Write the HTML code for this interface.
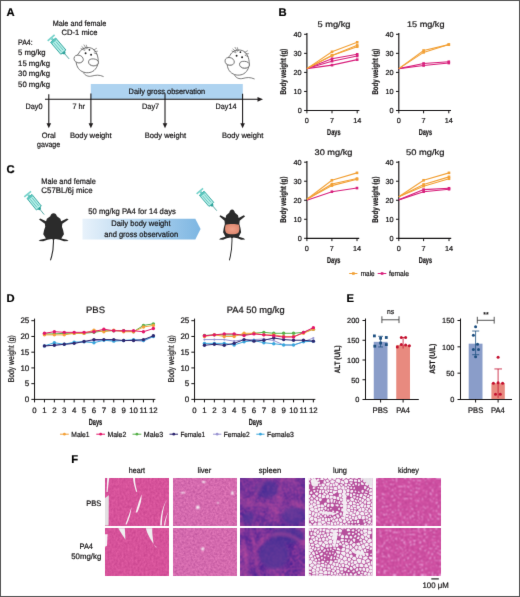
<!DOCTYPE html><html><head><meta charset="utf-8"><style>html,body{margin:0;padding:0;background:#fff;} svg{display:block;will-change:transform;} text{font-family:"Liberation Sans", sans-serif;text-rendering:geometricPrecision;stroke:currentColor;stroke-width:0.2px;paint-order:stroke;}</style></head><body>
<svg width="520" height="597" viewBox="0 0 520 597">
<defs><filter id="gsoft" x="0" y="0" width="520" height="597" filterUnits="userSpaceOnUse" color-interpolation-filters="sRGB"><feConvolveMatrix order="3" kernelMatrix="0 1 0 1 10 1 0 1 0" edgeMode="duplicate"/></filter></defs>
<g filter="url(#gsoft)">
<rect x="0" y="0" width="520" height="597" fill="#fff"/>
<text x="6.50" y="15.90" font-size="11.24" text-anchor="start" font-weight="bold" fill="#000" color="#000" >A</text>
<text x="52.70" y="26.30" font-size="7.74" text-anchor="start" font-weight="normal" fill="#141213" color="#141213" textLength="53.50" lengthAdjust="spacingAndGlyphs" >Male and female</text>
<text x="61.50" y="35.00" font-size="7.74" text-anchor="start" font-weight="normal" fill="#141213" color="#141213" textLength="36.00" lengthAdjust="spacingAndGlyphs" >CD-1 mice</text>
<text x="18.10" y="44.90" font-size="7.74" text-anchor="start" font-weight="normal" fill="#141213" color="#141213" textLength="14.60" lengthAdjust="spacingAndGlyphs" >PA4:</text>
<text x="18.10" y="55.40" font-size="7.74" text-anchor="start" font-weight="normal" fill="#141213" color="#141213" textLength="27.50" lengthAdjust="spacingAndGlyphs" >5 mg/kg</text>
<text x="18.10" y="65.80" font-size="7.74" text-anchor="start" font-weight="normal" fill="#141213" color="#141213" textLength="31.90" lengthAdjust="spacingAndGlyphs" >15 mg/kg</text>
<text x="18.10" y="76.20" font-size="7.74" text-anchor="start" font-weight="normal" fill="#141213" color="#141213" textLength="31.90" lengthAdjust="spacingAndGlyphs" >30 mg/kg</text>
<text x="18.10" y="86.60" font-size="7.74" text-anchor="start" font-weight="normal" fill="#141213" color="#141213" textLength="31.90" lengthAdjust="spacingAndGlyphs" >50 mg/kg</text>
<rect x="90.8" y="84" width="152" height="15.2" fill="#aed3f0"/>
<text x="128.60" y="94.00" font-size="7.74" text-anchor="start" font-weight="normal" fill="#141213" color="#141213" textLength="76.50" lengthAdjust="spacingAndGlyphs" >Daily gross observation</text>
<line x1="45.00" y1="99.30" x2="259.00" y2="99.30" stroke="#141213" stroke-width="1.1" />
<path d="M263,99.3 L257.5,96.9 L257.5,101.7 Z" fill="#231f20"/>
<line x1="48.80" y1="94.20" x2="48.80" y2="124.00" stroke="#141213" stroke-width="1.05" />
<path d="M48.80,128.3 L46.50,123.2 L51.10,123.2 Z" fill="#231f20"/>
<line x1="90.90" y1="93.60" x2="90.90" y2="124.00" stroke="#141213" stroke-width="1.05" />
<path d="M90.90,128.3 L88.60,123.2 L93.20,123.2 Z" fill="#231f20"/>
<line x1="165.00" y1="93.20" x2="165.00" y2="124.00" stroke="#141213" stroke-width="1.05" />
<path d="M165.00,128.3 L162.70,123.2 L167.30,123.2 Z" fill="#231f20"/>
<line x1="242.60" y1="93.80" x2="242.60" y2="124.00" stroke="#141213" stroke-width="1.05" />
<path d="M242.60,128.3 L240.30,123.2 L244.90,123.2 Z" fill="#231f20"/>
<text x="25.50" y="109.10" font-size="7.74" text-anchor="start" font-weight="normal" fill="#141213" color="#141213" textLength="17.00" lengthAdjust="spacingAndGlyphs" >Day0</text>
<text x="72.50" y="109.10" font-size="7.74" text-anchor="start" font-weight="normal" fill="#141213" color="#141213" textLength="12.50" lengthAdjust="spacingAndGlyphs" >7 hr</text>
<text x="142.10" y="109.10" font-size="7.74" text-anchor="start" font-weight="normal" fill="#141213" color="#141213" textLength="17.00" lengthAdjust="spacingAndGlyphs" >Day7</text>
<text x="215.60" y="109.10" font-size="7.74" text-anchor="start" font-weight="normal" fill="#141213" color="#141213" textLength="20.80" lengthAdjust="spacingAndGlyphs" >Day14</text>
<text x="41.70" y="138.00" font-size="7.74" text-anchor="start" font-weight="normal" fill="#141213" color="#141213" textLength="14.10" lengthAdjust="spacingAndGlyphs" >Oral</text>
<text x="37.10" y="147.40" font-size="7.74" text-anchor="start" font-weight="normal" fill="#141213" color="#141213" textLength="23.10" lengthAdjust="spacingAndGlyphs" >gavage</text>
<text x="70.00" y="138.00" font-size="7.74" text-anchor="start" font-weight="normal" fill="#141213" color="#141213" textLength="41.75" lengthAdjust="spacingAndGlyphs" >Body weight</text>
<text x="144.80" y="138.00" font-size="7.74" text-anchor="start" font-weight="normal" fill="#141213" color="#141213" textLength="41.20" lengthAdjust="spacingAndGlyphs" >Body weight</text>
<text x="222.00" y="138.00" font-size="7.74" text-anchor="start" font-weight="normal" fill="#141213" color="#141213" textLength="41.30" lengthAdjust="spacingAndGlyphs" >Body weight</text>
<g transform="translate(51.10,37.80) rotate(49.53) scale(0.924)">
<rect x="-0.8" y="-4.9" width="1.8" height="9.8" fill="#74d2ca"/>
<rect x="1" y="-1.3" width="2.8" height="2.6" fill="#74d2ca"/>
<rect x="3.4" y="-3.6" width="17" height="7.2" fill="#b8eee8" stroke="#2ca39b" stroke-width="0.95"/>
<rect x="3.4" y="-3.6" width="2.2" height="7.2" fill="#5cc6be"/>
<line x1="6.5" y1="-1.3" x2="18.5" y2="-1.3" stroke="#46b8b0" stroke-width="0.75"/>
<line x1="6.5" y1="1.3" x2="18.5" y2="1.3" stroke="#46b8b0" stroke-width="0.75"/>
<path d="M20.4,-2.4 L23,-1 L23,1 L20.4,2.4 Z" fill="#2ca39b"/>
<line x1="22.8" y1="0" x2="30" y2="0" stroke="#2a8f89" stroke-width="0.8"/>
</g>
<g transform="translate(68.00,40.00)">
<g fill="none" stroke="#4a4a4a" stroke-width="0.7">
<path d="M15.4,32.5 C17,35.5 20,37 24,36 C28,35 31,34.6 35.6,36.6"/>
</g>
<g fill="#fff" stroke="#4a4a4a" stroke-width="0.75">
<path d="M11,13 C13,9 16.5,7.6 20,7.6 C25,7.6 28.5,11 29.8,17 C30.8,22 30,27 26,30.5 C23,33 18,33.5 14,31.5 C10,29.5 8,25 8.2,21 C8.4,17 9,15 11,13 Z"/>
<path d="M6,18.5 C6,15.8 8.5,14.8 11,15.2 C13.5,15.6 15.3,17.6 15.3,19.6 C15.3,21.8 13,23.2 10.5,22.9 C8,22.6 6,21 6,18.5 Z"/>
<path d="M20.5,21.8 C20.5,19.5 23,18.7 25.5,18.9 C28.5,19.1 30.5,20.5 30.4,22.6 C30.3,24.8 28,26 25.3,25.9 C22.6,25.8 20.5,24.2 20.5,21.8 Z"/>
</g>
<g fill="none" stroke="#999" stroke-width="0.9" opacity="0.7">
<path d="M7,21 C9,23 12,23.3 14.5,21.5"/><path d="M21.5,24 C23.5,26 27,26.2 29.5,24.5"/>
</g>
<g fill="none" stroke="#444" stroke-width="0.55">
<path d="M13.6,6.4 L17.5,9.8 M15.8,4.6 L18.6,9.2 M12.6,8.4 L17,10.5 M18.2,4.8 L19.4,8.6 M25.4,10.2 L28.8,8.2 M26.2,11.6 L29.8,11.2 M25.8,12.8 L29.2,14.2"/>
</g>
<g fill="#222"><circle cx="17.6" cy="13.3" r="0.95"/><circle cx="23.1" cy="14.8" r="0.95"/><circle cx="21.4" cy="9.8" r="0.85"/></g>
</g>
<g transform="translate(219.00,42.40)">
<g fill="none" stroke="#4a4a4a" stroke-width="0.7">
<path d="M15.4,32.5 C17,35.5 20,37 24,36 C28,35 31,34.6 35.6,36.6"/>
</g>
<g fill="#fff" stroke="#4a4a4a" stroke-width="0.75">
<path d="M11,13 C13,9 16.5,7.6 20,7.6 C25,7.6 28.5,11 29.8,17 C30.8,22 30,27 26,30.5 C23,33 18,33.5 14,31.5 C10,29.5 8,25 8.2,21 C8.4,17 9,15 11,13 Z"/>
<path d="M6,18.5 C6,15.8 8.5,14.8 11,15.2 C13.5,15.6 15.3,17.6 15.3,19.6 C15.3,21.8 13,23.2 10.5,22.9 C8,22.6 6,21 6,18.5 Z"/>
<path d="M20.5,21.8 C20.5,19.5 23,18.7 25.5,18.9 C28.5,19.1 30.5,20.5 30.4,22.6 C30.3,24.8 28,26 25.3,25.9 C22.6,25.8 20.5,24.2 20.5,21.8 Z"/>
</g>
<g fill="none" stroke="#999" stroke-width="0.9" opacity="0.7">
<path d="M7,21 C9,23 12,23.3 14.5,21.5"/><path d="M21.5,24 C23.5,26 27,26.2 29.5,24.5"/>
</g>
<g fill="none" stroke="#444" stroke-width="0.55">
<path d="M13.6,6.4 L17.5,9.8 M15.8,4.6 L18.6,9.2 M12.6,8.4 L17,10.5 M18.2,4.8 L19.4,8.6 M25.4,10.2 L28.8,8.2 M26.2,11.6 L29.8,11.2 M25.8,12.8 L29.2,14.2"/>
</g>
<g fill="#222"><circle cx="17.6" cy="13.3" r="0.95"/><circle cx="23.1" cy="14.8" r="0.95"/><circle cx="21.4" cy="9.8" r="0.85"/></g>
</g>
<text x="278.60" y="15.90" font-size="11.24" text-anchor="start" font-weight="bold" fill="#000" color="#000" >B</text>
<line x1="306.90" y1="33.10" x2="306.90" y2="111.10" stroke="#141213" stroke-width="1.15" />
<line x1="306.40" y1="110.50" x2="359.40" y2="110.50" stroke="#141213" stroke-width="1.15" />
<line x1="304.10" y1="110.50" x2="306.90" y2="110.50" stroke="#141213" stroke-width="1.0" />
<text x="301.70" y="113.00" font-size="7.31" text-anchor="end" font-weight="normal" fill="#141213" color="#141213" >0</text>
<line x1="304.10" y1="91.45" x2="306.90" y2="91.45" stroke="#141213" stroke-width="1.0" />
<text x="301.70" y="93.95" font-size="7.31" text-anchor="end" font-weight="normal" fill="#141213" color="#141213" >10</text>
<line x1="304.10" y1="72.40" x2="306.90" y2="72.40" stroke="#141213" stroke-width="1.0" />
<text x="301.70" y="74.90" font-size="7.31" text-anchor="end" font-weight="normal" fill="#141213" color="#141213" >20</text>
<line x1="304.10" y1="53.35" x2="306.90" y2="53.35" stroke="#141213" stroke-width="1.0" />
<text x="301.70" y="55.85" font-size="7.31" text-anchor="end" font-weight="normal" fill="#141213" color="#141213" >30</text>
<line x1="304.10" y1="34.30" x2="306.90" y2="34.30" stroke="#141213" stroke-width="1.0" />
<text x="301.70" y="36.80" font-size="7.31" text-anchor="end" font-weight="normal" fill="#141213" color="#141213" >40</text>
<line x1="306.90" y1="110.50" x2="306.90" y2="113.30" stroke="#141213" stroke-width="1.0" />
<text x="306.90" y="122.90" font-size="7.31" text-anchor="middle" font-weight="normal" fill="#141213" color="#141213" >0</text>
<line x1="332.00" y1="110.50" x2="332.00" y2="113.30" stroke="#141213" stroke-width="1.0" />
<text x="332.00" y="122.90" font-size="7.31" text-anchor="middle" font-weight="normal" fill="#141213" color="#141213" >7</text>
<line x1="357.20" y1="110.50" x2="357.20" y2="113.30" stroke="#141213" stroke-width="1.0" />
<text x="357.20" y="122.90" font-size="7.31" text-anchor="middle" font-weight="normal" fill="#141213" color="#141213" >14</text>
<text x="333.80" y="134.60" font-size="8.48" text-anchor="middle" font-weight="bold" fill="#141213" color="#141213" textLength="13.40" lengthAdjust="spacingAndGlyphs" >Days</text>
<text transform="translate(285.60,71.70) rotate(-90)" x="0" y="0" font-size="8.4" font-weight="bold" text-anchor="middle" fill="#141213" color="#141213" textLength="45.80" lengthAdjust="spacingAndGlyphs">Body weight (g)</text>
<text x="317.50" y="26.70" font-size="8.16" text-anchor="start" font-weight="normal" fill="#141213" color="#141213" textLength="33.00" lengthAdjust="spacingAndGlyphs" >5 mg/kg</text>
<path d="M306.90,68.59 L332.00,58.68 L357.20,54.30" fill="none" stroke="#d8207c" stroke-width="1.1"/>
<rect x="330.70" y="57.38" width="2.6" height="2.6" fill="#d8207c"/>
<rect x="355.90" y="53.00" width="2.6" height="2.6" fill="#d8207c"/>
<path d="M306.90,68.59 L332.00,61.16 L357.20,56.02" fill="none" stroke="#d8207c" stroke-width="1.1"/>
<rect x="330.70" y="59.86" width="2.6" height="2.6" fill="#d8207c"/>
<rect x="355.90" y="54.72" width="2.6" height="2.6" fill="#d8207c"/>
<path d="M306.90,68.59 L332.00,65.16 L357.20,59.64" fill="none" stroke="#d8207c" stroke-width="1.1"/>
<rect x="330.70" y="63.86" width="2.6" height="2.6" fill="#d8207c"/>
<rect x="355.90" y="58.34" width="2.6" height="2.6" fill="#d8207c"/>
<path d="M306.90,68.59 L332.00,51.83 L357.20,42.30" fill="none" stroke="#f2a035" stroke-width="1.1"/>
<rect x="330.70" y="50.53" width="2.6" height="2.6" fill="#f2a035"/>
<rect x="355.90" y="41.00" width="2.6" height="2.6" fill="#f2a035"/>
<path d="M306.90,68.59 L332.00,55.45 L357.20,45.35" fill="none" stroke="#f2a035" stroke-width="1.1"/>
<rect x="330.70" y="54.15" width="2.6" height="2.6" fill="#f2a035"/>
<rect x="355.90" y="44.05" width="2.6" height="2.6" fill="#f2a035"/>
<path d="M306.90,68.59 L332.00,55.45 L357.20,46.68" fill="none" stroke="#f2a035" stroke-width="1.1"/>
<rect x="330.70" y="54.15" width="2.6" height="2.6" fill="#f2a035"/>
<rect x="355.90" y="45.38" width="2.6" height="2.6" fill="#f2a035"/>
<line x1="398.80" y1="33.10" x2="398.80" y2="111.10" stroke="#141213" stroke-width="1.15" />
<line x1="398.30" y1="110.50" x2="451.00" y2="110.50" stroke="#141213" stroke-width="1.15" />
<line x1="396.00" y1="110.50" x2="398.80" y2="110.50" stroke="#141213" stroke-width="1.0" />
<text x="393.60" y="113.00" font-size="7.31" text-anchor="end" font-weight="normal" fill="#141213" color="#141213" >0</text>
<line x1="396.00" y1="91.45" x2="398.80" y2="91.45" stroke="#141213" stroke-width="1.0" />
<text x="393.60" y="93.95" font-size="7.31" text-anchor="end" font-weight="normal" fill="#141213" color="#141213" >10</text>
<line x1="396.00" y1="72.40" x2="398.80" y2="72.40" stroke="#141213" stroke-width="1.0" />
<text x="393.60" y="74.90" font-size="7.31" text-anchor="end" font-weight="normal" fill="#141213" color="#141213" >20</text>
<line x1="396.00" y1="53.35" x2="398.80" y2="53.35" stroke="#141213" stroke-width="1.0" />
<text x="393.60" y="55.85" font-size="7.31" text-anchor="end" font-weight="normal" fill="#141213" color="#141213" >30</text>
<line x1="396.00" y1="34.30" x2="398.80" y2="34.30" stroke="#141213" stroke-width="1.0" />
<text x="393.60" y="36.80" font-size="7.31" text-anchor="end" font-weight="normal" fill="#141213" color="#141213" >40</text>
<line x1="398.80" y1="110.50" x2="398.80" y2="113.30" stroke="#141213" stroke-width="1.0" />
<text x="398.80" y="122.90" font-size="7.31" text-anchor="middle" font-weight="normal" fill="#141213" color="#141213" >0</text>
<line x1="423.60" y1="110.50" x2="423.60" y2="113.30" stroke="#141213" stroke-width="1.0" />
<text x="423.60" y="122.90" font-size="7.31" text-anchor="middle" font-weight="normal" fill="#141213" color="#141213" >7</text>
<line x1="448.80" y1="110.50" x2="448.80" y2="113.30" stroke="#141213" stroke-width="1.0" />
<text x="448.80" y="122.90" font-size="7.31" text-anchor="middle" font-weight="normal" fill="#141213" color="#141213" >14</text>
<text x="425.40" y="134.60" font-size="8.48" text-anchor="middle" font-weight="bold" fill="#141213" color="#141213" textLength="13.40" lengthAdjust="spacingAndGlyphs" >Days</text>
<text transform="translate(377.50,71.70) rotate(-90)" x="0" y="0" font-size="8.4" font-weight="bold" text-anchor="middle" fill="#141213" color="#141213" textLength="45.80" lengthAdjust="spacingAndGlyphs">Body weight (g)</text>
<text x="407.00" y="26.70" font-size="8.16" text-anchor="start" font-weight="normal" fill="#141213" color="#141213" textLength="37.50" lengthAdjust="spacingAndGlyphs" >15 mg/kg</text>
<path d="M398.80,68.59 L423.60,63.45 L448.80,61.73" fill="none" stroke="#d8207c" stroke-width="1.1"/>
<rect x="422.30" y="62.15" width="2.6" height="2.6" fill="#d8207c"/>
<rect x="447.50" y="60.43" width="2.6" height="2.6" fill="#d8207c"/>
<path d="M398.80,68.59 L423.60,65.54 L448.80,63.07" fill="none" stroke="#d8207c" stroke-width="1.1"/>
<rect x="422.30" y="64.24" width="2.6" height="2.6" fill="#d8207c"/>
<rect x="447.50" y="61.77" width="2.6" height="2.6" fill="#d8207c"/>
<path d="M398.80,68.59 L423.60,50.49 L448.80,44.59" fill="none" stroke="#f2a035" stroke-width="1.1"/>
<rect x="422.30" y="49.19" width="2.6" height="2.6" fill="#f2a035"/>
<rect x="447.50" y="43.29" width="2.6" height="2.6" fill="#f2a035"/>
<path d="M398.80,68.59 L423.60,52.40 L448.80,44.59" fill="none" stroke="#f2a035" stroke-width="1.1"/>
<rect x="422.30" y="51.10" width="2.6" height="2.6" fill="#f2a035"/>
<rect x="447.50" y="43.29" width="2.6" height="2.6" fill="#f2a035"/>
<line x1="306.90" y1="161.00" x2="306.90" y2="238.90" stroke="#141213" stroke-width="1.15" />
<line x1="306.40" y1="238.30" x2="359.20" y2="238.30" stroke="#141213" stroke-width="1.15" />
<line x1="304.10" y1="238.30" x2="306.90" y2="238.30" stroke="#141213" stroke-width="1.0" />
<text x="301.70" y="240.80" font-size="7.31" text-anchor="end" font-weight="normal" fill="#141213" color="#141213" >0</text>
<line x1="304.10" y1="219.28" x2="306.90" y2="219.28" stroke="#141213" stroke-width="1.0" />
<text x="301.70" y="221.78" font-size="7.31" text-anchor="end" font-weight="normal" fill="#141213" color="#141213" >10</text>
<line x1="304.10" y1="200.25" x2="306.90" y2="200.25" stroke="#141213" stroke-width="1.0" />
<text x="301.70" y="202.75" font-size="7.31" text-anchor="end" font-weight="normal" fill="#141213" color="#141213" >20</text>
<line x1="304.10" y1="181.22" x2="306.90" y2="181.22" stroke="#141213" stroke-width="1.0" />
<text x="301.70" y="183.72" font-size="7.31" text-anchor="end" font-weight="normal" fill="#141213" color="#141213" >30</text>
<line x1="304.10" y1="162.20" x2="306.90" y2="162.20" stroke="#141213" stroke-width="1.0" />
<text x="301.70" y="164.70" font-size="7.31" text-anchor="end" font-weight="normal" fill="#141213" color="#141213" >40</text>
<line x1="306.90" y1="238.30" x2="306.90" y2="241.10" stroke="#141213" stroke-width="1.0" />
<text x="306.90" y="251.20" font-size="7.31" text-anchor="middle" font-weight="normal" fill="#141213" color="#141213" >0</text>
<line x1="331.90" y1="238.30" x2="331.90" y2="241.10" stroke="#141213" stroke-width="1.0" />
<text x="331.90" y="251.20" font-size="7.31" text-anchor="middle" font-weight="normal" fill="#141213" color="#141213" >7</text>
<line x1="357.00" y1="238.30" x2="357.00" y2="241.10" stroke="#141213" stroke-width="1.0" />
<text x="357.00" y="251.20" font-size="7.31" text-anchor="middle" font-weight="normal" fill="#141213" color="#141213" >14</text>
<text x="333.70" y="262.70" font-size="8.48" text-anchor="middle" font-weight="bold" fill="#141213" color="#141213" textLength="13.40" lengthAdjust="spacingAndGlyphs" >Days</text>
<text transform="translate(285.60,199.70) rotate(-90)" x="0" y="0" font-size="8.4" font-weight="bold" text-anchor="middle" fill="#141213" color="#141213" textLength="46.30" lengthAdjust="spacingAndGlyphs">Body weight (g)</text>
<text x="314.50" y="154.60" font-size="8.16" text-anchor="start" font-weight="normal" fill="#141213" color="#141213" textLength="38.00" lengthAdjust="spacingAndGlyphs" >30 mg/kg</text>
<path d="M306.90,200.25 L331.90,191.69 L357.00,188.07" fill="none" stroke="#d8207c" stroke-width="1.1"/>
<rect x="330.60" y="190.39" width="2.6" height="2.6" fill="#d8207c"/>
<rect x="355.70" y="186.77" width="2.6" height="2.6" fill="#d8207c"/>
<path d="M306.90,199.30 L331.90,180.27 L357.00,172.85" fill="none" stroke="#f2a035" stroke-width="1.1"/>
<rect x="330.60" y="178.97" width="2.6" height="2.6" fill="#f2a035"/>
<rect x="355.70" y="171.55" width="2.6" height="2.6" fill="#f2a035"/>
<path d="M306.90,199.30 L331.90,184.08 L357.00,178.56" fill="none" stroke="#f2a035" stroke-width="1.1"/>
<rect x="330.60" y="182.78" width="2.6" height="2.6" fill="#f2a035"/>
<rect x="355.70" y="177.26" width="2.6" height="2.6" fill="#f2a035"/>
<path d="M306.90,199.30 L331.90,185.60 L357.00,179.32" fill="none" stroke="#f2a035" stroke-width="1.1"/>
<rect x="330.60" y="184.30" width="2.6" height="2.6" fill="#f2a035"/>
<rect x="355.70" y="178.02" width="2.6" height="2.6" fill="#f2a035"/>
<line x1="398.80" y1="161.00" x2="398.80" y2="238.90" stroke="#141213" stroke-width="1.15" />
<line x1="398.30" y1="238.30" x2="451.20" y2="238.30" stroke="#141213" stroke-width="1.15" />
<line x1="396.00" y1="238.30" x2="398.80" y2="238.30" stroke="#141213" stroke-width="1.0" />
<text x="393.60" y="240.80" font-size="7.31" text-anchor="end" font-weight="normal" fill="#141213" color="#141213" >0</text>
<line x1="396.00" y1="219.28" x2="398.80" y2="219.28" stroke="#141213" stroke-width="1.0" />
<text x="393.60" y="221.78" font-size="7.31" text-anchor="end" font-weight="normal" fill="#141213" color="#141213" >10</text>
<line x1="396.00" y1="200.25" x2="398.80" y2="200.25" stroke="#141213" stroke-width="1.0" />
<text x="393.60" y="202.75" font-size="7.31" text-anchor="end" font-weight="normal" fill="#141213" color="#141213" >20</text>
<line x1="396.00" y1="181.22" x2="398.80" y2="181.22" stroke="#141213" stroke-width="1.0" />
<text x="393.60" y="183.72" font-size="7.31" text-anchor="end" font-weight="normal" fill="#141213" color="#141213" >30</text>
<line x1="396.00" y1="162.20" x2="398.80" y2="162.20" stroke="#141213" stroke-width="1.0" />
<text x="393.60" y="164.70" font-size="7.31" text-anchor="end" font-weight="normal" fill="#141213" color="#141213" >40</text>
<line x1="398.80" y1="238.30" x2="398.80" y2="241.10" stroke="#141213" stroke-width="1.0" />
<text x="398.80" y="251.20" font-size="7.31" text-anchor="middle" font-weight="normal" fill="#141213" color="#141213" >0</text>
<line x1="423.60" y1="238.30" x2="423.60" y2="241.10" stroke="#141213" stroke-width="1.0" />
<text x="423.60" y="251.20" font-size="7.31" text-anchor="middle" font-weight="normal" fill="#141213" color="#141213" >7</text>
<line x1="449.00" y1="238.30" x2="449.00" y2="241.10" stroke="#141213" stroke-width="1.0" />
<text x="449.00" y="251.20" font-size="7.31" text-anchor="middle" font-weight="normal" fill="#141213" color="#141213" >14</text>
<text x="425.40" y="262.70" font-size="8.48" text-anchor="middle" font-weight="bold" fill="#141213" color="#141213" textLength="13.40" lengthAdjust="spacingAndGlyphs" >Days</text>
<text transform="translate(377.50,199.70) rotate(-90)" x="0" y="0" font-size="8.4" font-weight="bold" text-anchor="middle" fill="#141213" color="#141213" textLength="46.30" lengthAdjust="spacingAndGlyphs">Body weight (g)</text>
<text x="406.00" y="154.60" font-size="8.16" text-anchor="start" font-weight="normal" fill="#141213" color="#141213" textLength="38.50" lengthAdjust="spacingAndGlyphs" >50 mg/kg</text>
<path d="M398.80,199.87 L423.60,189.60 L449.00,188.26" fill="none" stroke="#d8207c" stroke-width="1.1"/>
<rect x="422.30" y="188.30" width="2.6" height="2.6" fill="#d8207c"/>
<rect x="447.70" y="186.96" width="2.6" height="2.6" fill="#d8207c"/>
<path d="M398.80,199.87 L423.60,191.69 L449.00,189.22" fill="none" stroke="#d8207c" stroke-width="1.1"/>
<rect x="422.30" y="190.39" width="2.6" height="2.6" fill="#d8207c"/>
<rect x="447.70" y="187.92" width="2.6" height="2.6" fill="#d8207c"/>
<path d="M398.80,196.83 L423.60,180.27 L449.00,172.85" fill="none" stroke="#f2a035" stroke-width="1.1"/>
<rect x="422.30" y="178.97" width="2.6" height="2.6" fill="#f2a035"/>
<rect x="447.70" y="171.55" width="2.6" height="2.6" fill="#f2a035"/>
<path d="M398.80,196.83 L423.60,184.46 L449.00,176.85" fill="none" stroke="#f2a035" stroke-width="1.1"/>
<rect x="422.30" y="183.16" width="2.6" height="2.6" fill="#f2a035"/>
<rect x="447.70" y="175.55" width="2.6" height="2.6" fill="#f2a035"/>
<path d="M398.80,196.83 L423.60,186.17 L449.00,178.75" fill="none" stroke="#f2a035" stroke-width="1.1"/>
<rect x="422.30" y="184.87" width="2.6" height="2.6" fill="#f2a035"/>
<rect x="447.70" y="177.45" width="2.6" height="2.6" fill="#f2a035"/>
<line x1="349.20" y1="273.50" x2="357.40" y2="273.50" stroke="#f2a035" stroke-width="1.0" />
<rect x="352.1" y="272.2" width="2.6" height="2.6" fill="#f2a035"/>
<text x="360.80" y="275.70" font-size="7.42" text-anchor="start" font-weight="normal" fill="#141213" color="#141213" textLength="13.80" lengthAdjust="spacingAndGlyphs" >male</text>
<line x1="377.70" y1="273.50" x2="386.30" y2="273.50" stroke="#d8207c" stroke-width="1.0" />
<rect x="380.8" y="272.2" width="2.6" height="2.6" fill="#d8207c"/>
<text x="388.90" y="275.70" font-size="7.42" text-anchor="start" font-weight="normal" fill="#141213" color="#141213" textLength="20.00" lengthAdjust="spacingAndGlyphs" >female</text>
<text x="6.40" y="173.40" font-size="11.24" text-anchor="start" font-weight="bold" fill="#000" color="#000" >C</text>
<text x="41.30" y="184.20" font-size="8.06" text-anchor="start" font-weight="normal" fill="#141213" color="#141213" textLength="54.50" lengthAdjust="spacingAndGlyphs" >Male and female</text>
<text x="41.30" y="193.00" font-size="8.06" text-anchor="start" font-weight="normal" fill="#141213" color="#141213" textLength="51.30" lengthAdjust="spacingAndGlyphs" >C57BL/6j mice</text>
<text x="88.30" y="214.10" font-size="8.06" text-anchor="start" font-weight="normal" fill="#141213" color="#141213" textLength="87.50" lengthAdjust="spacingAndGlyphs" >50 mg/kg PA4 for 14 days</text>
<defs><linearGradient id="gC" x1="0" x2="1" y1="0" y2="0"><stop offset="0" stop-color="#e8f2fb"/><stop offset="1" stop-color="#7db6e2"/></linearGradient></defs>
<path d="M82.5,218.8 L195.3,218.8 L200.6,229.1 L195.3,239.5 L82.5,239.5 Z" fill="url(#gC)"/>
<text x="111.30" y="226.30" font-size="8.06" text-anchor="start" font-weight="normal" fill="#141213" color="#141213" textLength="59.30" lengthAdjust="spacingAndGlyphs" >Daily body weight</text>
<text x="104.30" y="236.60" font-size="8.06" text-anchor="start" font-weight="normal" fill="#141213" color="#141213" textLength="73.80" lengthAdjust="spacingAndGlyphs" >and gross observation</text>
<g transform="translate(27.60,194.10) rotate(51.00) scale(0.879)">
<rect x="-0.8" y="-4.9" width="1.8" height="9.8" fill="#74d2ca"/>
<rect x="1" y="-1.3" width="2.8" height="2.6" fill="#74d2ca"/>
<rect x="3.4" y="-3.6" width="17" height="7.2" fill="#b8eee8" stroke="#2ca39b" stroke-width="0.95"/>
<rect x="3.4" y="-3.6" width="2.2" height="7.2" fill="#5cc6be"/>
<line x1="6.5" y1="-1.3" x2="18.5" y2="-1.3" stroke="#46b8b0" stroke-width="0.75"/>
<line x1="6.5" y1="1.3" x2="18.5" y2="1.3" stroke="#46b8b0" stroke-width="0.75"/>
<path d="M20.4,-2.4 L23,-1 L23,1 L20.4,2.4 Z" fill="#2ca39b"/>
<line x1="22.8" y1="0" x2="30" y2="0" stroke="#2a8f89" stroke-width="0.8"/>
</g>
<g transform="translate(199.80,191.00) rotate(49.21) scale(0.867)">
<rect x="-0.8" y="-4.9" width="1.8" height="9.8" fill="#74d2ca"/>
<rect x="1" y="-1.3" width="2.8" height="2.6" fill="#74d2ca"/>
<rect x="3.4" y="-3.6" width="17" height="7.2" fill="#b8eee8" stroke="#2ca39b" stroke-width="0.95"/>
<rect x="3.4" y="-3.6" width="2.2" height="7.2" fill="#5cc6be"/>
<line x1="6.5" y1="-1.3" x2="18.5" y2="-1.3" stroke="#46b8b0" stroke-width="0.75"/>
<line x1="6.5" y1="1.3" x2="18.5" y2="1.3" stroke="#46b8b0" stroke-width="0.75"/>
<path d="M20.4,-2.4 L23,-1 L23,1 L20.4,2.4 Z" fill="#2ca39b"/>
<line x1="22.8" y1="0" x2="30" y2="0" stroke="#2a8f89" stroke-width="0.8"/>
</g>
<g transform="translate(53.60,213.30) scale(0.1005,0.1005) translate(-195,-82)">
<path d="M193,336 C196,400 194,460 165,545" fill="none" stroke="#2b2b2b" stroke-width="11" stroke-linecap="round"/>
<path d="M195,82 C213,82 222,95 228,112 L262,135 L270,160 L328,133 L344,143 L282,185 L278,215 L290,250 L298,290 L280,318 L272,333 L328,346 L344,358 L298,361 L256,346 L214,338 L195,346 L176,338 L134,346 L92,361 L46,358 L62,346 L118,333 L110,318 L92,290 L100,250 L112,215 L108,185 L50,143 L62,133 L120,160 L128,135 L162,112 C168,95 177,82 195,82 Z" fill="#2b2b2b"/>
</g>
<g transform="translate(232.10,209.60) scale(0.0874,0.1085) translate(-195,-82)">
<path d="M193,336 C196,400 194,460 165,545" fill="none" stroke="#2b2b2b" stroke-width="11" stroke-linecap="round"/>
<path d="M195,82 C213,82 222,95 228,112 L262,135 L270,160 L328,133 L344,143 L282,185 L278,215 L290,250 L298,290 L280,318 L272,333 L328,346 L344,358 L298,361 L256,346 L214,338 L195,346 L176,338 L134,346 L92,361 L46,358 L62,346 L118,333 L110,318 L92,290 L100,250 L112,215 L108,185 L50,143 L62,133 L120,160 L128,135 L162,112 C168,95 177,82 195,82 Z" fill="#2b2b2b"/>
<defs><radialGradient id="gBelly"><stop offset="0" stop-color="#f0a088"/><stop offset="1" stop-color="#e08a72"/></radialGradient></defs>
<path d="M122,222 C150,212 245,212 272,222 C282,250 282,280 265,298 C240,314 150,314 128,298 C110,280 112,250 122,222 Z" fill="url(#gBelly)"/>
</g>
<text x="6.60" y="301.60" font-size="11.24" text-anchor="start" font-weight="bold" fill="#000" color="#000" >D</text>
<line x1="34.55" y1="318.60" x2="34.55" y2="399.90" stroke="#141213" stroke-width="1.0" />
<line x1="34.05" y1="399.40" x2="155.35" y2="399.40" stroke="#141213" stroke-width="1.0" />
<line x1="31.35" y1="399.40" x2="34.55" y2="399.40" stroke="#141213" stroke-width="1.0" />
<text x="29.35" y="402.10" font-size="8.06" text-anchor="end" font-weight="normal" fill="#141213" color="#141213" >0</text>
<line x1="31.35" y1="383.66" x2="34.55" y2="383.66" stroke="#141213" stroke-width="1.0" />
<text x="29.35" y="386.36" font-size="8.06" text-anchor="end" font-weight="normal" fill="#141213" color="#141213" >5</text>
<line x1="31.35" y1="367.92" x2="34.55" y2="367.92" stroke="#141213" stroke-width="1.0" />
<text x="29.35" y="370.62" font-size="8.06" text-anchor="end" font-weight="normal" fill="#141213" color="#141213" >10</text>
<line x1="31.35" y1="352.18" x2="34.55" y2="352.18" stroke="#141213" stroke-width="1.0" />
<text x="29.35" y="354.88" font-size="8.06" text-anchor="end" font-weight="normal" fill="#141213" color="#141213" >15</text>
<line x1="31.35" y1="336.44" x2="34.55" y2="336.44" stroke="#141213" stroke-width="1.0" />
<text x="29.35" y="339.14" font-size="8.06" text-anchor="end" font-weight="normal" fill="#141213" color="#141213" >20</text>
<line x1="31.35" y1="320.70" x2="34.55" y2="320.70" stroke="#141213" stroke-width="1.0" />
<text x="29.35" y="323.40" font-size="8.06" text-anchor="end" font-weight="normal" fill="#141213" color="#141213" >25</text>
<line x1="34.55" y1="399.40" x2="34.55" y2="402.40" stroke="#141213" stroke-width="1.0" />
<text x="34.55" y="412.70" font-size="7.84" text-anchor="middle" font-weight="normal" fill="#141213" color="#141213" >0</text>
<line x1="44.45" y1="399.40" x2="44.45" y2="402.40" stroke="#141213" stroke-width="1.0" />
<text x="44.45" y="412.70" font-size="7.84" text-anchor="middle" font-weight="normal" fill="#141213" color="#141213" >1</text>
<line x1="54.35" y1="399.40" x2="54.35" y2="402.40" stroke="#141213" stroke-width="1.0" />
<text x="54.35" y="412.70" font-size="7.84" text-anchor="middle" font-weight="normal" fill="#141213" color="#141213" >2</text>
<line x1="64.25" y1="399.40" x2="64.25" y2="402.40" stroke="#141213" stroke-width="1.0" />
<text x="64.25" y="412.70" font-size="7.84" text-anchor="middle" font-weight="normal" fill="#141213" color="#141213" >3</text>
<line x1="74.15" y1="399.40" x2="74.15" y2="402.40" stroke="#141213" stroke-width="1.0" />
<text x="74.15" y="412.70" font-size="7.84" text-anchor="middle" font-weight="normal" fill="#141213" color="#141213" >4</text>
<line x1="84.05" y1="399.40" x2="84.05" y2="402.40" stroke="#141213" stroke-width="1.0" />
<text x="84.05" y="412.70" font-size="7.84" text-anchor="middle" font-weight="normal" fill="#141213" color="#141213" >5</text>
<line x1="93.95" y1="399.40" x2="93.95" y2="402.40" stroke="#141213" stroke-width="1.0" />
<text x="93.95" y="412.70" font-size="7.84" text-anchor="middle" font-weight="normal" fill="#141213" color="#141213" >6</text>
<line x1="103.85" y1="399.40" x2="103.85" y2="402.40" stroke="#141213" stroke-width="1.0" />
<text x="103.85" y="412.70" font-size="7.84" text-anchor="middle" font-weight="normal" fill="#141213" color="#141213" >7</text>
<line x1="113.75" y1="399.40" x2="113.75" y2="402.40" stroke="#141213" stroke-width="1.0" />
<text x="113.75" y="412.70" font-size="7.84" text-anchor="middle" font-weight="normal" fill="#141213" color="#141213" >8</text>
<line x1="123.65" y1="399.40" x2="123.65" y2="402.40" stroke="#141213" stroke-width="1.0" />
<text x="123.65" y="412.70" font-size="7.84" text-anchor="middle" font-weight="normal" fill="#141213" color="#141213" >9</text>
<line x1="133.55" y1="399.40" x2="133.55" y2="402.40" stroke="#141213" stroke-width="1.0" />
<text x="133.55" y="412.70" font-size="7.84" text-anchor="middle" font-weight="normal" fill="#141213" color="#141213" >10</text>
<line x1="143.45" y1="399.40" x2="143.45" y2="402.40" stroke="#141213" stroke-width="1.0" />
<text x="143.45" y="412.70" font-size="7.84" text-anchor="middle" font-weight="normal" fill="#141213" color="#141213" >11</text>
<line x1="153.35" y1="399.40" x2="153.35" y2="402.40" stroke="#141213" stroke-width="1.0" />
<text x="153.35" y="412.70" font-size="7.84" text-anchor="middle" font-weight="normal" fill="#141213" color="#141213" >12</text>
<text x="88.75" y="425.40" font-size="8.90" text-anchor="start" font-weight="bold" fill="#141213" color="#141213" textLength="13.50" lengthAdjust="spacingAndGlyphs" >Days</text>
<text transform="translate(13.65,358.80) rotate(-90)" x="0" y="0" font-size="8.6" font-weight="normal" text-anchor="middle" fill="#141213" color="#141213" textLength="46.90" lengthAdjust="spacingAndGlyphs">Body weight (g)</text>
<text x="86.00" y="312.80" font-size="9.22" text-anchor="start" font-weight="normal" fill="#141213" color="#141213" textLength="19.10" lengthAdjust="spacingAndGlyphs" >PBS</text>
<path d="M44.45,345.88 L54.35,345.25 L64.25,344.31 L74.15,343.37 L84.05,341.79 L93.95,340.53 L103.85,340.53 L113.75,340.53 L123.65,340.53 L133.55,340.53 L143.45,341.16 L153.35,336.44" fill="none" stroke="#9a95d2" stroke-width="1.0"/>
<circle cx="44.45" cy="345.88" r="1.1" fill="#9a95d2"/>
<circle cx="54.35" cy="345.25" r="1.1" fill="#9a95d2"/>
<circle cx="64.25" cy="344.31" r="1.1" fill="#9a95d2"/>
<circle cx="74.15" cy="343.37" r="1.1" fill="#9a95d2"/>
<circle cx="84.05" cy="341.79" r="1.1" fill="#9a95d2"/>
<circle cx="93.95" cy="340.53" r="1.1" fill="#9a95d2"/>
<circle cx="103.85" cy="340.53" r="1.1" fill="#9a95d2"/>
<circle cx="113.75" cy="340.53" r="1.1" fill="#9a95d2"/>
<circle cx="123.65" cy="340.53" r="1.1" fill="#9a95d2"/>
<circle cx="133.55" cy="340.53" r="1.1" fill="#9a95d2"/>
<circle cx="143.45" cy="341.16" r="1.1" fill="#9a95d2"/>
<circle cx="153.35" cy="336.44" r="1.1" fill="#9a95d2"/>
<path d="M44.45,345.88 L54.35,342.74 L64.25,344.31 L74.15,342.11 L84.05,341.79 L93.95,342.74 L103.85,340.22 L113.75,341.16 L123.65,340.53 L133.55,339.59 L143.45,340.53 L153.35,336.44" fill="none" stroke="#3aa6dc" stroke-width="1.0"/>
<circle cx="44.45" cy="345.88" r="1.7" fill="#3aa6dc"/>
<circle cx="54.35" cy="342.74" r="1.7" fill="#3aa6dc"/>
<circle cx="64.25" cy="344.31" r="1.7" fill="#3aa6dc"/>
<circle cx="74.15" cy="342.11" r="1.7" fill="#3aa6dc"/>
<circle cx="84.05" cy="341.79" r="1.7" fill="#3aa6dc"/>
<circle cx="93.95" cy="342.74" r="1.7" fill="#3aa6dc"/>
<circle cx="103.85" cy="340.22" r="1.7" fill="#3aa6dc"/>
<circle cx="113.75" cy="341.16" r="1.7" fill="#3aa6dc"/>
<circle cx="123.65" cy="340.53" r="1.7" fill="#3aa6dc"/>
<circle cx="133.55" cy="339.59" r="1.7" fill="#3aa6dc"/>
<circle cx="143.45" cy="340.53" r="1.7" fill="#3aa6dc"/>
<circle cx="153.35" cy="336.44" r="1.7" fill="#3aa6dc"/>
<path d="M44.45,345.88 L54.35,345.25 L64.25,344.31 L74.15,343.37 L84.05,341.48 L93.95,339.59 L103.85,339.59 L113.75,339.59 L123.65,340.53 L133.55,340.53 L143.45,339.59 L153.35,335.81" fill="none" stroke="#2e2770" stroke-width="1.0"/>
<circle cx="44.45" cy="345.88" r="1.7" fill="#2e2770"/>
<circle cx="54.35" cy="345.25" r="1.7" fill="#2e2770"/>
<circle cx="64.25" cy="344.31" r="1.7" fill="#2e2770"/>
<circle cx="74.15" cy="343.37" r="1.7" fill="#2e2770"/>
<circle cx="84.05" cy="341.48" r="1.7" fill="#2e2770"/>
<circle cx="93.95" cy="339.59" r="1.7" fill="#2e2770"/>
<circle cx="103.85" cy="339.59" r="1.7" fill="#2e2770"/>
<circle cx="113.75" cy="339.59" r="1.7" fill="#2e2770"/>
<circle cx="123.65" cy="340.53" r="1.7" fill="#2e2770"/>
<circle cx="133.55" cy="340.53" r="1.7" fill="#2e2770"/>
<circle cx="143.45" cy="339.59" r="1.7" fill="#2e2770"/>
<circle cx="153.35" cy="335.81" r="1.7" fill="#2e2770"/>
<path d="M44.45,333.92 L54.35,333.92 L64.25,333.29 L74.15,333.29 L84.05,333.29 L93.95,332.35 L103.85,330.77 L113.75,330.77 L123.65,330.77 L133.55,331.72 L143.45,325.42 L153.35,323.85" fill="none" stroke="#56b04a" stroke-width="1.0"/>
<circle cx="44.45" cy="333.92" r="1.7" fill="#56b04a"/>
<circle cx="54.35" cy="333.92" r="1.7" fill="#56b04a"/>
<circle cx="64.25" cy="333.29" r="1.7" fill="#56b04a"/>
<circle cx="74.15" cy="333.29" r="1.7" fill="#56b04a"/>
<circle cx="84.05" cy="333.29" r="1.7" fill="#56b04a"/>
<circle cx="93.95" cy="332.35" r="1.7" fill="#56b04a"/>
<circle cx="103.85" cy="330.77" r="1.7" fill="#56b04a"/>
<circle cx="113.75" cy="330.77" r="1.7" fill="#56b04a"/>
<circle cx="123.65" cy="330.77" r="1.7" fill="#56b04a"/>
<circle cx="133.55" cy="331.72" r="1.7" fill="#56b04a"/>
<circle cx="143.45" cy="325.42" r="1.7" fill="#56b04a"/>
<circle cx="153.35" cy="323.85" r="1.7" fill="#56b04a"/>
<path d="M44.45,334.87 L54.35,334.87 L64.25,334.87 L74.15,333.29 L84.05,333.29 L93.95,330.14 L103.85,331.72 L113.75,330.14 L123.65,331.72 L133.55,331.72 L143.45,327.00 L153.35,325.42" fill="none" stroke="#f4a23a" stroke-width="1.0"/>
<circle cx="44.45" cy="334.87" r="1.7" fill="#f4a23a"/>
<circle cx="54.35" cy="334.87" r="1.7" fill="#f4a23a"/>
<circle cx="64.25" cy="334.87" r="1.7" fill="#f4a23a"/>
<circle cx="74.15" cy="333.29" r="1.7" fill="#f4a23a"/>
<circle cx="84.05" cy="333.29" r="1.7" fill="#f4a23a"/>
<circle cx="93.95" cy="330.14" r="1.7" fill="#f4a23a"/>
<circle cx="103.85" cy="331.72" r="1.7" fill="#f4a23a"/>
<circle cx="113.75" cy="330.14" r="1.7" fill="#f4a23a"/>
<circle cx="123.65" cy="331.72" r="1.7" fill="#f4a23a"/>
<circle cx="133.55" cy="331.72" r="1.7" fill="#f4a23a"/>
<circle cx="143.45" cy="327.00" r="1.7" fill="#f4a23a"/>
<circle cx="153.35" cy="325.42" r="1.7" fill="#f4a23a"/>
<path d="M44.45,333.29 L54.35,331.72 L64.25,332.35 L74.15,332.35 L84.05,332.35 L93.95,331.72 L103.85,329.20 L113.75,330.77 L123.65,330.77 L133.55,330.77 L143.45,331.72 L153.35,328.57" fill="none" stroke="#e3176a" stroke-width="1.0"/>
<circle cx="44.45" cy="333.29" r="1.7" fill="#e3176a"/>
<circle cx="54.35" cy="331.72" r="1.7" fill="#e3176a"/>
<circle cx="64.25" cy="332.35" r="1.7" fill="#e3176a"/>
<circle cx="74.15" cy="332.35" r="1.7" fill="#e3176a"/>
<circle cx="84.05" cy="332.35" r="1.7" fill="#e3176a"/>
<circle cx="93.95" cy="331.72" r="1.7" fill="#e3176a"/>
<circle cx="103.85" cy="329.20" r="1.7" fill="#e3176a"/>
<circle cx="113.75" cy="330.77" r="1.7" fill="#e3176a"/>
<circle cx="123.65" cy="330.77" r="1.7" fill="#e3176a"/>
<circle cx="133.55" cy="330.77" r="1.7" fill="#e3176a"/>
<circle cx="143.45" cy="331.72" r="1.7" fill="#e3176a"/>
<circle cx="153.35" cy="328.57" r="1.7" fill="#e3176a"/>
<line x1="194.55" y1="318.60" x2="194.55" y2="399.90" stroke="#141213" stroke-width="1.0" />
<line x1="194.05" y1="399.40" x2="315.35" y2="399.40" stroke="#141213" stroke-width="1.0" />
<line x1="191.35" y1="399.40" x2="194.55" y2="399.40" stroke="#141213" stroke-width="1.0" />
<text x="189.35" y="402.10" font-size="8.06" text-anchor="end" font-weight="normal" fill="#141213" color="#141213" >0</text>
<line x1="191.35" y1="383.66" x2="194.55" y2="383.66" stroke="#141213" stroke-width="1.0" />
<text x="189.35" y="386.36" font-size="8.06" text-anchor="end" font-weight="normal" fill="#141213" color="#141213" >5</text>
<line x1="191.35" y1="367.92" x2="194.55" y2="367.92" stroke="#141213" stroke-width="1.0" />
<text x="189.35" y="370.62" font-size="8.06" text-anchor="end" font-weight="normal" fill="#141213" color="#141213" >10</text>
<line x1="191.35" y1="352.18" x2="194.55" y2="352.18" stroke="#141213" stroke-width="1.0" />
<text x="189.35" y="354.88" font-size="8.06" text-anchor="end" font-weight="normal" fill="#141213" color="#141213" >15</text>
<line x1="191.35" y1="336.44" x2="194.55" y2="336.44" stroke="#141213" stroke-width="1.0" />
<text x="189.35" y="339.14" font-size="8.06" text-anchor="end" font-weight="normal" fill="#141213" color="#141213" >20</text>
<line x1="191.35" y1="320.70" x2="194.55" y2="320.70" stroke="#141213" stroke-width="1.0" />
<text x="189.35" y="323.40" font-size="8.06" text-anchor="end" font-weight="normal" fill="#141213" color="#141213" >25</text>
<line x1="194.55" y1="399.40" x2="194.55" y2="402.40" stroke="#141213" stroke-width="1.0" />
<text x="194.55" y="412.70" font-size="7.84" text-anchor="middle" font-weight="normal" fill="#141213" color="#141213" >0</text>
<line x1="204.45" y1="399.40" x2="204.45" y2="402.40" stroke="#141213" stroke-width="1.0" />
<text x="204.45" y="412.70" font-size="7.84" text-anchor="middle" font-weight="normal" fill="#141213" color="#141213" >1</text>
<line x1="214.35" y1="399.40" x2="214.35" y2="402.40" stroke="#141213" stroke-width="1.0" />
<text x="214.35" y="412.70" font-size="7.84" text-anchor="middle" font-weight="normal" fill="#141213" color="#141213" >2</text>
<line x1="224.25" y1="399.40" x2="224.25" y2="402.40" stroke="#141213" stroke-width="1.0" />
<text x="224.25" y="412.70" font-size="7.84" text-anchor="middle" font-weight="normal" fill="#141213" color="#141213" >3</text>
<line x1="234.15" y1="399.40" x2="234.15" y2="402.40" stroke="#141213" stroke-width="1.0" />
<text x="234.15" y="412.70" font-size="7.84" text-anchor="middle" font-weight="normal" fill="#141213" color="#141213" >4</text>
<line x1="244.05" y1="399.40" x2="244.05" y2="402.40" stroke="#141213" stroke-width="1.0" />
<text x="244.05" y="412.70" font-size="7.84" text-anchor="middle" font-weight="normal" fill="#141213" color="#141213" >5</text>
<line x1="253.95" y1="399.40" x2="253.95" y2="402.40" stroke="#141213" stroke-width="1.0" />
<text x="253.95" y="412.70" font-size="7.84" text-anchor="middle" font-weight="normal" fill="#141213" color="#141213" >6</text>
<line x1="263.85" y1="399.40" x2="263.85" y2="402.40" stroke="#141213" stroke-width="1.0" />
<text x="263.85" y="412.70" font-size="7.84" text-anchor="middle" font-weight="normal" fill="#141213" color="#141213" >7</text>
<line x1="273.75" y1="399.40" x2="273.75" y2="402.40" stroke="#141213" stroke-width="1.0" />
<text x="273.75" y="412.70" font-size="7.84" text-anchor="middle" font-weight="normal" fill="#141213" color="#141213" >8</text>
<line x1="283.65" y1="399.40" x2="283.65" y2="402.40" stroke="#141213" stroke-width="1.0" />
<text x="283.65" y="412.70" font-size="7.84" text-anchor="middle" font-weight="normal" fill="#141213" color="#141213" >9</text>
<line x1="293.55" y1="399.40" x2="293.55" y2="402.40" stroke="#141213" stroke-width="1.0" />
<text x="293.55" y="412.70" font-size="7.84" text-anchor="middle" font-weight="normal" fill="#141213" color="#141213" >10</text>
<line x1="303.45" y1="399.40" x2="303.45" y2="402.40" stroke="#141213" stroke-width="1.0" />
<text x="303.45" y="412.70" font-size="7.84" text-anchor="middle" font-weight="normal" fill="#141213" color="#141213" >11</text>
<line x1="313.35" y1="399.40" x2="313.35" y2="402.40" stroke="#141213" stroke-width="1.0" />
<text x="313.35" y="412.70" font-size="7.84" text-anchor="middle" font-weight="normal" fill="#141213" color="#141213" >12</text>
<text x="248.75" y="425.40" font-size="8.90" text-anchor="start" font-weight="bold" fill="#141213" color="#141213" textLength="13.50" lengthAdjust="spacingAndGlyphs" >Days</text>
<text transform="translate(173.65,358.80) rotate(-90)" x="0" y="0" font-size="8.6" font-weight="normal" text-anchor="middle" fill="#141213" color="#141213" textLength="46.90" lengthAdjust="spacingAndGlyphs">Body weight (g)</text>
<text x="226.70" y="312.80" font-size="9.22" text-anchor="start" font-weight="normal" fill="#141213" color="#141213" textLength="57.90" lengthAdjust="spacingAndGlyphs" >PA4 50 mg/kg</text>
<path d="M204.45,339.59 L214.35,339.59 L224.25,339.59 L234.15,341.16 L244.05,339.59 L253.95,339.59 L263.85,338.96 L273.75,340.53 L283.65,344.94 L293.55,345.25 L303.45,341.79 L313.35,338.01" fill="none" stroke="#9a95d2" stroke-width="1.0"/>
<circle cx="204.45" cy="339.59" r="1.1" fill="#9a95d2"/>
<circle cx="214.35" cy="339.59" r="1.1" fill="#9a95d2"/>
<circle cx="224.25" cy="339.59" r="1.1" fill="#9a95d2"/>
<circle cx="234.15" cy="341.16" r="1.1" fill="#9a95d2"/>
<circle cx="244.05" cy="339.59" r="1.1" fill="#9a95d2"/>
<circle cx="253.95" cy="339.59" r="1.1" fill="#9a95d2"/>
<circle cx="263.85" cy="338.96" r="1.1" fill="#9a95d2"/>
<circle cx="273.75" cy="340.53" r="1.1" fill="#9a95d2"/>
<circle cx="283.65" cy="344.94" r="1.1" fill="#9a95d2"/>
<circle cx="293.55" cy="345.25" r="1.1" fill="#9a95d2"/>
<circle cx="303.45" cy="341.79" r="1.1" fill="#9a95d2"/>
<circle cx="313.35" cy="338.01" r="1.1" fill="#9a95d2"/>
<path d="M204.45,343.37 L214.35,343.37 L224.25,343.37 L234.15,344.94 L244.05,341.79 L253.95,340.53 L263.85,342.74 L273.75,343.68 L283.65,344.94 L293.55,344.94 L303.45,341.79 L313.35,341.16" fill="none" stroke="#3aa6dc" stroke-width="1.0"/>
<circle cx="204.45" cy="343.37" r="1.7" fill="#3aa6dc"/>
<circle cx="214.35" cy="343.37" r="1.7" fill="#3aa6dc"/>
<circle cx="224.25" cy="343.37" r="1.7" fill="#3aa6dc"/>
<circle cx="234.15" cy="344.94" r="1.7" fill="#3aa6dc"/>
<circle cx="244.05" cy="341.79" r="1.7" fill="#3aa6dc"/>
<circle cx="253.95" cy="340.53" r="1.7" fill="#3aa6dc"/>
<circle cx="263.85" cy="342.74" r="1.7" fill="#3aa6dc"/>
<circle cx="273.75" cy="343.68" r="1.7" fill="#3aa6dc"/>
<circle cx="283.65" cy="344.94" r="1.7" fill="#3aa6dc"/>
<circle cx="293.55" cy="344.94" r="1.7" fill="#3aa6dc"/>
<circle cx="303.45" cy="341.79" r="1.7" fill="#3aa6dc"/>
<circle cx="313.35" cy="341.16" r="1.7" fill="#3aa6dc"/>
<path d="M204.45,345.25 L214.35,344.31 L224.25,345.25 L234.15,343.37 L244.05,339.59 L253.95,341.16 L263.85,340.22 L273.75,338.01 L283.65,339.59 L293.55,340.22 L303.45,340.22 L313.35,341.16" fill="none" stroke="#2e2770" stroke-width="1.0"/>
<circle cx="204.45" cy="345.25" r="1.7" fill="#2e2770"/>
<circle cx="214.35" cy="344.31" r="1.7" fill="#2e2770"/>
<circle cx="224.25" cy="345.25" r="1.7" fill="#2e2770"/>
<circle cx="234.15" cy="343.37" r="1.7" fill="#2e2770"/>
<circle cx="244.05" cy="339.59" r="1.7" fill="#2e2770"/>
<circle cx="253.95" cy="341.16" r="1.7" fill="#2e2770"/>
<circle cx="263.85" cy="340.22" r="1.7" fill="#2e2770"/>
<circle cx="273.75" cy="338.01" r="1.7" fill="#2e2770"/>
<circle cx="283.65" cy="339.59" r="1.7" fill="#2e2770"/>
<circle cx="293.55" cy="340.22" r="1.7" fill="#2e2770"/>
<circle cx="303.45" cy="340.22" r="1.7" fill="#2e2770"/>
<circle cx="313.35" cy="341.16" r="1.7" fill="#2e2770"/>
<path d="M204.45,335.50 L214.35,334.87 L224.25,334.87 L234.15,334.87 L244.05,334.87 L253.95,333.29 L263.85,332.35 L273.75,333.29 L283.65,333.29 L293.55,333.29 L303.45,332.35 L313.35,329.20" fill="none" stroke="#56b04a" stroke-width="1.0"/>
<circle cx="204.45" cy="335.50" r="1.7" fill="#56b04a"/>
<circle cx="214.35" cy="334.87" r="1.7" fill="#56b04a"/>
<circle cx="224.25" cy="334.87" r="1.7" fill="#56b04a"/>
<circle cx="234.15" cy="334.87" r="1.7" fill="#56b04a"/>
<circle cx="244.05" cy="334.87" r="1.7" fill="#56b04a"/>
<circle cx="253.95" cy="333.29" r="1.7" fill="#56b04a"/>
<circle cx="263.85" cy="332.35" r="1.7" fill="#56b04a"/>
<circle cx="273.75" cy="333.29" r="1.7" fill="#56b04a"/>
<circle cx="283.65" cy="333.29" r="1.7" fill="#56b04a"/>
<circle cx="293.55" cy="333.29" r="1.7" fill="#56b04a"/>
<circle cx="303.45" cy="332.35" r="1.7" fill="#56b04a"/>
<circle cx="313.35" cy="329.20" r="1.7" fill="#56b04a"/>
<path d="M204.45,336.44 L214.35,334.87 L224.25,336.44 L234.15,336.44 L244.05,333.29 L253.95,333.29 L263.85,334.87 L273.75,334.87 L283.65,336.44 L293.55,336.44 L303.45,333.29 L313.35,329.20" fill="none" stroke="#f4a23a" stroke-width="1.0"/>
<circle cx="204.45" cy="336.44" r="1.7" fill="#f4a23a"/>
<circle cx="214.35" cy="334.87" r="1.7" fill="#f4a23a"/>
<circle cx="224.25" cy="336.44" r="1.7" fill="#f4a23a"/>
<circle cx="234.15" cy="336.44" r="1.7" fill="#f4a23a"/>
<circle cx="244.05" cy="333.29" r="1.7" fill="#f4a23a"/>
<circle cx="253.95" cy="333.29" r="1.7" fill="#f4a23a"/>
<circle cx="263.85" cy="334.87" r="1.7" fill="#f4a23a"/>
<circle cx="273.75" cy="334.87" r="1.7" fill="#f4a23a"/>
<circle cx="283.65" cy="336.44" r="1.7" fill="#f4a23a"/>
<circle cx="293.55" cy="336.44" r="1.7" fill="#f4a23a"/>
<circle cx="303.45" cy="333.29" r="1.7" fill="#f4a23a"/>
<circle cx="313.35" cy="329.20" r="1.7" fill="#f4a23a"/>
<path d="M204.45,335.81 L214.35,334.87 L224.25,333.92 L234.15,333.92 L244.05,335.50 L253.95,333.92 L263.85,334.87 L273.75,335.81 L283.65,337.07 L293.55,337.07 L303.45,332.35 L313.35,327.63" fill="none" stroke="#e3176a" stroke-width="1.0"/>
<circle cx="204.45" cy="335.81" r="1.7" fill="#e3176a"/>
<circle cx="214.35" cy="334.87" r="1.7" fill="#e3176a"/>
<circle cx="224.25" cy="333.92" r="1.7" fill="#e3176a"/>
<circle cx="234.15" cy="333.92" r="1.7" fill="#e3176a"/>
<circle cx="244.05" cy="335.50" r="1.7" fill="#e3176a"/>
<circle cx="253.95" cy="333.92" r="1.7" fill="#e3176a"/>
<circle cx="263.85" cy="334.87" r="1.7" fill="#e3176a"/>
<circle cx="273.75" cy="335.81" r="1.7" fill="#e3176a"/>
<circle cx="283.65" cy="337.07" r="1.7" fill="#e3176a"/>
<circle cx="293.55" cy="337.07" r="1.7" fill="#e3176a"/>
<circle cx="303.45" cy="332.35" r="1.7" fill="#e3176a"/>
<circle cx="313.35" cy="327.63" r="1.7" fill="#e3176a"/>
<line x1="60.00" y1="434.20" x2="68.80" y2="434.20" stroke="#f4a23a" stroke-width="1.0" />
<circle cx="64.40" cy="434.2" r="1.4" fill="#f4a23a"/>
<text x="71.30" y="437.00" font-size="7.42" text-anchor="start" font-weight="normal" fill="#141213" color="#141213" textLength="18.30" lengthAdjust="spacingAndGlyphs" >Male1</text>
<line x1="96.30" y1="434.20" x2="105.00" y2="434.20" stroke="#e3176a" stroke-width="1.0" />
<circle cx="100.65" cy="434.2" r="1.4" fill="#e3176a"/>
<text x="107.50" y="437.00" font-size="7.42" text-anchor="start" font-weight="normal" fill="#141213" color="#141213" textLength="18.80" lengthAdjust="spacingAndGlyphs" >Male2</text>
<line x1="132.50" y1="434.20" x2="141.30" y2="434.20" stroke="#56b04a" stroke-width="1.0" />
<circle cx="136.90" cy="434.2" r="1.4" fill="#56b04a"/>
<text x="143.80" y="437.00" font-size="7.42" text-anchor="start" font-weight="normal" fill="#141213" color="#141213" textLength="19.30" lengthAdjust="spacingAndGlyphs" >Male3</text>
<line x1="169.50" y1="434.20" x2="178.00" y2="434.20" stroke="#2e2770" stroke-width="1.0" />
<circle cx="173.75" cy="434.2" r="1.4" fill="#2e2770"/>
<text x="180.50" y="437.00" font-size="7.42" text-anchor="start" font-weight="normal" fill="#141213" color="#141213" textLength="24.50" lengthAdjust="spacingAndGlyphs" >Female1</text>
<line x1="213.00" y1="434.20" x2="221.30" y2="434.20" stroke="#9a95d2" stroke-width="1.0" />
<circle cx="217.15" cy="434.2" r="1.4" fill="#9a95d2"/>
<text x="223.80" y="437.00" font-size="7.42" text-anchor="start" font-weight="normal" fill="#141213" color="#141213" textLength="25.80" lengthAdjust="spacingAndGlyphs" >Female2</text>
<line x1="256.30" y1="434.20" x2="264.50" y2="434.20" stroke="#3aa6dc" stroke-width="1.0" />
<circle cx="260.40" cy="434.2" r="1.4" fill="#3aa6dc"/>
<text x="267.00" y="437.00" font-size="7.42" text-anchor="start" font-weight="normal" fill="#141213" color="#141213" textLength="26.80" lengthAdjust="spacingAndGlyphs" >Female3</text>
<text x="346.50" y="301.60" font-size="11.24" text-anchor="start" font-weight="bold" fill="#000" color="#000" >E</text>
<rect x="373.75" y="341.83" width="13.75" height="57.67" fill="#8a9dc9"/>
<rect x="396.25" y="344.99" width="13.75" height="54.51" fill="#e88a7f"/>
<line x1="365.50" y1="318.50" x2="365.50" y2="400.00" stroke="#141213" stroke-width="1.0" />
<line x1="365.00" y1="399.50" x2="418.80" y2="399.50" stroke="#141213" stroke-width="1.0" />
<line x1="362.50" y1="399.50" x2="365.50" y2="399.50" stroke="#141213" stroke-width="1.0" />
<text x="359.40" y="402.30" font-size="7.42" text-anchor="end" font-weight="normal" fill="#141213" color="#141213" >0</text>
<line x1="362.50" y1="379.75" x2="365.50" y2="379.75" stroke="#141213" stroke-width="1.0" />
<text x="359.40" y="382.55" font-size="7.42" text-anchor="end" font-weight="normal" fill="#141213" color="#141213" >50</text>
<line x1="362.50" y1="360.00" x2="365.50" y2="360.00" stroke="#141213" stroke-width="1.0" />
<text x="359.40" y="362.80" font-size="7.42" text-anchor="end" font-weight="normal" fill="#141213" color="#141213" >100</text>
<line x1="362.50" y1="340.25" x2="365.50" y2="340.25" stroke="#141213" stroke-width="1.0" />
<text x="359.40" y="343.05" font-size="7.42" text-anchor="end" font-weight="normal" fill="#141213" color="#141213" >150</text>
<line x1="362.50" y1="320.50" x2="365.50" y2="320.50" stroke="#141213" stroke-width="1.0" />
<text x="359.40" y="323.30" font-size="7.42" text-anchor="end" font-weight="normal" fill="#141213" color="#141213" >200</text>
<line x1="380.60" y1="399.50" x2="380.60" y2="402.50" stroke="#141213" stroke-width="1.0" />
<line x1="403.10" y1="399.50" x2="403.10" y2="402.50" stroke="#141213" stroke-width="1.0" />
<line x1="380.60" y1="336.30" x2="380.60" y2="346.96" stroke="#1d4f80" stroke-width="0.8" />
<line x1="378.20" y1="336.30" x2="383.00" y2="336.30" stroke="#1d4f80" stroke-width="0.8" />
<line x1="378.20" y1="346.96" x2="383.00" y2="346.96" stroke="#1d4f80" stroke-width="0.8" />
<rect x="373.00" y="334.50" width="2.8" height="2.8" fill="#1d4f80"/>
<rect x="379.20" y="336.88" width="2.8" height="2.8" fill="#1d4f80"/>
<rect x="384.90" y="336.09" width="2.8" height="2.8" fill="#1d4f80"/>
<rect x="379.20" y="341.62" width="2.8" height="2.8" fill="#1d4f80"/>
<rect x="373.40" y="344.78" width="2.8" height="2.8" fill="#1d4f80"/>
<rect x="384.90" y="343.20" width="2.8" height="2.8" fill="#1d4f80"/>
<line x1="403.10" y1="337.49" x2="403.10" y2="348.55" stroke="#c41230" stroke-width="0.8" />
<line x1="400.70" y1="337.49" x2="405.50" y2="337.49" stroke="#c41230" stroke-width="0.8" />
<circle cx="401.30" cy="337.49" r="1.5" fill="#c41230"/>
<circle cx="405.60" cy="337.49" r="1.5" fill="#c41230"/>
<circle cx="397.30" cy="346.96" r="1.5" fill="#c41230"/>
<circle cx="401.30" cy="344.60" r="1.5" fill="#c41230"/>
<circle cx="405.60" cy="344.99" r="1.5" fill="#c41230"/>
<circle cx="409.40" cy="345.78" r="1.5" fill="#c41230"/>
<text x="386.90" y="314.40" font-size="7.21" text-anchor="start" font-weight="normal" fill="#141213" color="#141213" textLength="7.10" lengthAdjust="spacingAndGlyphs" >ns</text>
<line x1="381.90" y1="319.80" x2="399.00" y2="319.80" stroke="#444" stroke-width="0.9" />
<line x1="381.90" y1="316.30" x2="381.90" y2="323.10" stroke="#444" stroke-width="0.9" />
<line x1="399.00" y1="316.30" x2="399.00" y2="323.10" stroke="#444" stroke-width="0.9" />
<text x="372.50" y="412.80" font-size="8.06" text-anchor="start" font-weight="normal" fill="#141213" color="#141213" textLength="15.50" lengthAdjust="spacingAndGlyphs" >PBS</text>
<text x="396.30" y="412.80" font-size="8.06" text-anchor="start" font-weight="normal" fill="#141213" color="#141213" textLength="13.70" lengthAdjust="spacingAndGlyphs" >PA4</text>
<text transform="translate(340.30,359.30) rotate(-90)" x="0" y="0" font-size="7.8" font-weight="bold" text-anchor="middle" fill="#141213" color="#141213" textLength="27.80" lengthAdjust="spacingAndGlyphs">ALT (U/L)</text>
<rect x="468.7" y="343.67" width="13.8" height="55.83" fill="#8a9dc9"/>
<rect x="491.4" y="383.17" width="13.4" height="16.33" fill="#e88a7f"/>
<line x1="460.50" y1="318.50" x2="460.50" y2="400.00" stroke="#141213" stroke-width="1.0" />
<line x1="460.00" y1="399.50" x2="512.00" y2="399.50" stroke="#141213" stroke-width="1.0" />
<line x1="457.50" y1="399.50" x2="460.50" y2="399.50" stroke="#141213" stroke-width="1.0" />
<text x="454.40" y="402.30" font-size="7.42" text-anchor="end" font-weight="normal" fill="#141213" color="#141213" >0</text>
<line x1="457.50" y1="373.17" x2="460.50" y2="373.17" stroke="#141213" stroke-width="1.0" />
<text x="454.40" y="375.97" font-size="7.42" text-anchor="end" font-weight="normal" fill="#141213" color="#141213" >50</text>
<line x1="457.50" y1="346.83" x2="460.50" y2="346.83" stroke="#141213" stroke-width="1.0" />
<text x="454.40" y="349.63" font-size="7.42" text-anchor="end" font-weight="normal" fill="#141213" color="#141213" >100</text>
<line x1="457.50" y1="320.50" x2="460.50" y2="320.50" stroke="#141213" stroke-width="1.0" />
<text x="454.40" y="323.30" font-size="7.42" text-anchor="end" font-weight="normal" fill="#141213" color="#141213" >150</text>
<line x1="475.60" y1="399.50" x2="475.60" y2="402.50" stroke="#141213" stroke-width="1.0" />
<line x1="498.10" y1="399.50" x2="498.10" y2="402.50" stroke="#141213" stroke-width="1.0" />
<line x1="475.60" y1="331.03" x2="475.60" y2="354.73" stroke="#1d4f80" stroke-width="0.8" />
<line x1="472.20" y1="331.03" x2="479.20" y2="331.03" stroke="#1d4f80" stroke-width="0.8" />
<line x1="472.20" y1="354.73" x2="479.20" y2="354.73" stroke="#1d4f80" stroke-width="0.8" />
<circle cx="475.60" cy="326.82" r="1.5" fill="#1d4f80"/>
<circle cx="473.40" cy="335.25" r="1.5" fill="#1d4f80"/>
<circle cx="477.50" cy="344.20" r="1.5" fill="#1d4f80"/>
<circle cx="473.40" cy="349.47" r="1.5" fill="#1d4f80"/>
<circle cx="478.50" cy="349.47" r="1.5" fill="#1d4f80"/>
<circle cx="475.60" cy="356.84" r="1.5" fill="#1d4f80"/>
<line x1="498.10" y1="368.95" x2="498.10" y2="397.92" stroke="#c41230" stroke-width="0.8" />
<line x1="494.40" y1="368.95" x2="502.00" y2="368.95" stroke="#c41230" stroke-width="0.8" />
<circle cx="498.10" cy="357.37" r="1.5" fill="#c41230"/>
<circle cx="493.40" cy="383.17" r="1.5" fill="#c41230"/>
<circle cx="498.10" cy="382.65" r="1.5" fill="#c41230"/>
<circle cx="502.60" cy="383.17" r="1.5" fill="#c41230"/>
<circle cx="495.50" cy="394.23" r="1.5" fill="#c41230"/>
<circle cx="500.30" cy="394.23" r="1.5" fill="#c41230"/>
<text x="483.20" y="316.80" font-size="7.21" text-anchor="start" font-weight="normal" fill="#141213" color="#141213" textLength="5.40" lengthAdjust="spacingAndGlyphs" >**</text>
<line x1="477.30" y1="320.30" x2="494.20" y2="320.30" stroke="#444" stroke-width="0.9" />
<line x1="477.30" y1="316.80" x2="477.30" y2="323.60" stroke="#444" stroke-width="0.9" />
<line x1="494.20" y1="316.80" x2="494.20" y2="323.60" stroke="#444" stroke-width="0.9" />
<text x="468.00" y="412.80" font-size="8.06" text-anchor="start" font-weight="normal" fill="#141213" color="#141213" textLength="15.20" lengthAdjust="spacingAndGlyphs" >PBS</text>
<text x="491.00" y="412.80" font-size="8.06" text-anchor="start" font-weight="normal" fill="#141213" color="#141213" textLength="13.80" lengthAdjust="spacingAndGlyphs" >PA4</text>
<text transform="translate(434.70,358.70) rotate(-90)" x="0" y="0" font-size="7.8" font-weight="bold" text-anchor="middle" fill="#141213" color="#141213" textLength="30.00" lengthAdjust="spacingAndGlyphs">AST (U/L)</text>
<text x="71.30" y="463.10" font-size="11.24" text-anchor="start" font-weight="bold" fill="#000" color="#000" >F</text>
<text x="128.75" y="473.20" font-size="7.84" text-anchor="start" font-weight="normal" fill="#141213" color="#141213" textLength="16.25" lengthAdjust="spacingAndGlyphs" >heart</text>
<text x="197.50" y="473.20" font-size="7.84" text-anchor="start" font-weight="normal" fill="#141213" color="#141213" textLength="13.75" lengthAdjust="spacingAndGlyphs" >liver</text>
<text x="258.75" y="473.20" font-size="7.84" text-anchor="start" font-weight="normal" fill="#141213" color="#141213" textLength="22.50" lengthAdjust="spacingAndGlyphs" >spleen</text>
<text x="333.00" y="473.20" font-size="7.84" text-anchor="start" font-weight="normal" fill="#141213" color="#141213" textLength="14.00" lengthAdjust="spacingAndGlyphs" >lung</text>
<text x="398.00" y="473.20" font-size="7.84" text-anchor="start" font-weight="normal" fill="#141213" color="#141213" textLength="20.75" lengthAdjust="spacingAndGlyphs" >kidney</text>
<text x="86.25" y="505.60" font-size="7.95" text-anchor="start" font-weight="normal" fill="#141213" color="#141213" textLength="15.00" lengthAdjust="spacingAndGlyphs" >PBS</text>
<text x="79.50" y="549.20" font-size="7.95" text-anchor="start" font-weight="normal" fill="#141213" color="#141213" textLength="13.50" lengthAdjust="spacingAndGlyphs" >PA4</text>
<text x="71.25" y="559.20" font-size="7.95" text-anchor="start" font-weight="normal" fill="#141213" color="#141213" textLength="30.00" lengthAdjust="spacingAndGlyphs" >50mg/kg</text>
<defs>
<filter id="fHeart" x="0" y="0" width="1" height="1" color-interpolation-filters="sRGB"><feTurbulence type="fractalNoise" baseFrequency="0.5 0.35" numOctaves="2" seed="4"/><feColorMatrix type="matrix" values="0.14 0 0 0 0.7692 0.14 0 0 0 0.2516 0.12 0 0 0 0.5439 0 0 0 0 1"/></filter>
<filter id="fLiver" x="0" y="0" width="1" height="1" color-interpolation-filters="sRGB"><feTurbulence type="fractalNoise" baseFrequency="0.45" numOctaves="3" seed="7"/><feColorMatrix type="matrix" values="0.2 0 0 0 0.7314 0.2 0 0 0 0.3157 0.16 0 0 0 0.6024 0 0 0 0 1"/></filter>
<filter id="fKidney" x="0" y="0" width="1" height="1" color-interpolation-filters="sRGB"><feTurbulence type="fractalNoise" baseFrequency="0.55" numOctaves="2" seed="11" result="n"/><feColorMatrix in="n" type="matrix" values="0.25 0 0 0 0.6750 0.22 0 0 0 0.1959 0.2 0 0 0 0.5275 0 0 0 0 1" result="base"/><feTurbulence type="fractalNoise" baseFrequency="0.5" numOctaves="1" seed="31" result="n2"/><feColorMatrix in="n2" type="matrix" values="0 0 0 0 0.90  0 0 0 0 0.62  0 0 0 0 0.84  1 0 0 0 0" result="m2"/><feComponentTransfer in="m2" result="t2"><feFuncA type="table" tableValues="0 0 0 0 0 0 0 0 0 0 0 0 0 0 0 0 0 0 0 0 0 0 0 0 0 0 0 0 0 0 0 0 0 0 0 0 0 0 0 1 1 1 1 1 1 1 1 1 1 1 1 1 1 1 1 1 1 1 1 1"/></feComponentTransfer><feComposite in="t2" in2="base" operator="over" result="c"/><feConvolveMatrix in="c" order="3" kernelMatrix="1 2 1 2 4 2 1 2 1" edgeMode="duplicate"/></filter>
<filter id="fKidney2" x="0" y="0" width="1" height="1" color-interpolation-filters="sRGB"><feTurbulence type="fractalNoise" baseFrequency="0.55" numOctaves="2" seed="13" result="n"/><feColorMatrix in="n" type="matrix" values="0.25 0 0 0 0.6750 0.22 0 0 0 0.1959 0.2 0 0 0 0.5275 0 0 0 0 1" result="base"/><feTurbulence type="fractalNoise" baseFrequency="0.5" numOctaves="1" seed="33" result="n2"/><feColorMatrix in="n2" type="matrix" values="0 0 0 0 0.90  0 0 0 0 0.62  0 0 0 0 0.84  1 0 0 0 0" result="m2"/><feComponentTransfer in="m2" result="t2"><feFuncA type="table" tableValues="0 0 0 0 0 0 0 0 0 0 0 0 0 0 0 0 0 0 0 0 0 0 0 0 0 0 0 0 0 0 0 0 0 0 0 0 0 0 0 1 1 1 1 1 1 1 1 1 1 1 1 1 1 1 1 1 1 1 1 1"/></feComponentTransfer><feComposite in="t2" in2="base" operator="over" result="c"/><feConvolveMatrix in="c" order="3" kernelMatrix="1 2 1 2 4 2 1 2 1" edgeMode="duplicate"/></filter>
<filter id="fSpleen1" x="0" y="0" width="1" height="1" color-interpolation-filters="sRGB"><feTurbulence type="fractalNoise" baseFrequency="0.06" numOctaves="2" seed="3" result="n1"/><feColorMatrix in="n1" type="matrix" values="1 0 0 0 0  1 0 0 0 0  1 0 0 0 0  0 0 0 0 1" result="m1"/><feTurbulence type="fractalNoise" baseFrequency="0.7" numOctaves="2" seed="4" result="n2"/><feColorMatrix in="n2" type="matrix" values="1 0 0 0 0  1 0 0 0 0  1 0 0 0 0  0 0 0 0 1" result="m2"/><feComposite in="m1" in2="m2" operator="arithmetic" k1="0" k2="0.45" k3="0.55" k4="0" result="c"/><feColorMatrix in="c" type="matrix" values="0.9 0 0 0 -0.0029 0.35 0 0 0 0.0211 0.12 0 0 0 0.5361 0 0 0 0 1" result="b"/><feTurbulence type="fractalNoise" baseFrequency="0.2" numOctaves="2" seed="8" result="n3"/><feColorMatrix in="n3" type="matrix" values="0 0 0 0 0.72  0 0 0 0 0.28  0 0 0 0 0.62  0.9 0 0 0 0" result="m3"/><feComponentTransfer in="m3" result="t3"><feFuncA type="table" tableValues="0 0 0 0 0 0 0 0 0 0 0 0 0 0 0 0 0 0 0 0 0 0 0 0 0 0 0 0 1 1 1 1 0 0 0 0 0 0 0 0 0 0 0 0 0 0 0 0 0 0 0 0 0 0 0 0 0 0 0 0"/></feComponentTransfer><feColorMatrix in="t3" type="matrix" values="1 0 0 0 0  0 1 0 0 0  0 0 1 0 0  0 0 0 0.55 0" result="t4"/><feComposite in="t4" in2="b" operator="over" result="o"/><feConvolveMatrix in="o" order="3" kernelMatrix="1 2 1 2 4 2 1 2 1" edgeMode="duplicate"/></filter>
<filter id="fSpleen2" x="0" y="0" width="1" height="1" color-interpolation-filters="sRGB"><feTurbulence type="fractalNoise" baseFrequency="0.06" numOctaves="2" seed="9" result="n1"/><feColorMatrix in="n1" type="matrix" values="1 0 0 0 0  1 0 0 0 0  1 0 0 0 0  0 0 0 0 1" result="m1"/><feTurbulence type="fractalNoise" baseFrequency="0.7" numOctaves="2" seed="10" result="n2"/><feColorMatrix in="n2" type="matrix" values="1 0 0 0 0  1 0 0 0 0  1 0 0 0 0  0 0 0 0 1" result="m2"/><feComposite in="m1" in2="m2" operator="arithmetic" k1="0" k2="0.45" k3="0.55" k4="0" result="c"/><feColorMatrix in="c" type="matrix" values="0.9 0 0 0 -0.0108 0.35 0 0 0 0.0132 0.12 0 0 0 0.5361 0 0 0 0 1" result="b"/><feTurbulence type="fractalNoise" baseFrequency="0.2" numOctaves="2" seed="14" result="n3"/><feColorMatrix in="n3" type="matrix" values="0 0 0 0 0.72  0 0 0 0 0.28  0 0 0 0 0.62  0.9 0 0 0 0" result="m3"/><feComponentTransfer in="m3" result="t3"><feFuncA type="table" tableValues="0 0 0 0 0 0 0 0 0 0 0 0 0 0 0 0 0 0 0 0 0 0 0 0 0 0 0 0 1 1 1 1 0 0 0 0 0 0 0 0 0 0 0 0 0 0 0 0 0 0 0 0 0 0 0 0 0 0 0 0"/></feComponentTransfer><feColorMatrix in="t3" type="matrix" values="1 0 0 0 0  0 1 0 0 0  0 0 1 0 0  0 0 0 0.55 0" result="t4"/><feComposite in="t4" in2="b" operator="over" result="o"/><feConvolveMatrix in="o" order="3" kernelMatrix="1 2 1 2 4 2 1 2 1" edgeMode="duplicate"/></filter>
<filter id="fLung" x="0" y="0" width="1" height="1" color-interpolation-filters="sRGB"><feTurbulence type="fractalNoise" baseFrequency="0.26" numOctaves="2" seed="5" result="n"/><feColorMatrix in="n" type="matrix" values="0 0 0 0 0.76  0 0 0 0 0.36  0 0 0 0 0.65  1 0 0 0 0" result="m"/><feComponentTransfer in="m" result="t"><feFuncA type="table" tableValues="0 0 0 0 0 0 0 0 0 0 0 0 0 0 0 0 0 0 0 0 0 0 0 0 0 0 0 0 0 0 0 0 0 0 0 0 0 0 0 0 1 1 1 1 1 1 1 1 1 1 1 1 1 1 1 1 1 1 1 1 1 1 1 1 1 1 1 1 1 1 1 1 1 1 1 1 1 1 1 1"/></feComponentTransfer><feMorphology in="t" operator="dilate" radius="1" result="d"/><feComposite in="d" in2="t" operator="xor" result="e"/><feFlood flood-color="#f2ecf2" result="w"/><feComposite in="e" in2="w" operator="over" result="o"/><feConvolveMatrix in="o" order="3" kernelMatrix="1 2 1 2 4 2 1 2 1" edgeMode="duplicate"/></filter>
<filter id="fLung2" x="0" y="0" width="1" height="1" color-interpolation-filters="sRGB"><feTurbulence type="fractalNoise" baseFrequency="0.26" numOctaves="2" seed="8" result="n"/><feColorMatrix in="n" type="matrix" values="0 0 0 0 0.76  0 0 0 0 0.36  0 0 0 0 0.65  1 0 0 0 0" result="m"/><feComponentTransfer in="m" result="t"><feFuncA type="table" tableValues="0 0 0 0 0 0 0 0 0 0 0 0 0 0 0 0 0 0 0 0 0 0 0 0 0 0 0 0 0 0 0 0 0 0 0 0 0 0 0 0 1 1 1 1 1 1 1 1 1 1 1 1 1 1 1 1 1 1 1 1 1 1 1 1 1 1 1 1 1 1 1 1 1 1 1 1 1 1 1 1"/></feComponentTransfer><feMorphology in="t" operator="dilate" radius="1" result="d"/><feComposite in="d" in2="t" operator="xor" result="e"/><feFlood flood-color="#f2ecf2" result="w"/><feComposite in="e" in2="w" operator="over" result="o"/><feConvolveMatrix in="o" order="3" kernelMatrix="1 2 1 2 4 2 1 2 1" edgeMode="duplicate"/></filter>
<filter id="fSoft" x="-0.3" y="-0.3" width="1.6" height="1.6"><feGaussianBlur stdDeviation="1.6"/></filter>
<filter id="fBlur06" x="-0.2" y="-0.2" width="1.4" height="1.4"><feConvolveMatrix order="3" kernelMatrix="1 2 1 2 4 2 1 2 1" edgeMode="none"/></filter>
</defs>
<rect x="105" y="478" width="63.5" height="47.5" filter="url(#fHeart)"/>
<g transform="translate(105,478)" fill="#f6f2f5">
<path d="M0,20 C1.5,19 3,18 3.8,17 L3.6,47.5 L0,47.5 Z" fill="#e2e0e2"/>
<path d="M2.2,0 L4.2,0 C3.6,5 3,10 2.6,14 L1.6,14 C1.8,9 2,5 2.2,0 Z"/>
<path d="M28,0 L30,0 C29.8,4 30.8,8 32.2,13.5 L31.2,14 C29.6,9.5 28.4,4.5 28,0 Z"/>
<path d="M36.6,16.5 C36.8,21 35.6,27 32.2,34.5 L30.6,34.5 C32.8,27 34.6,21 36.6,16.5 Z"/>
<path d="M26.5,29 C26,35 24.4,41 21.6,46.5 L20.4,46.5 C22.8,40 25,34 26.5,29 Z"/>
<path d="M62.5,21 C58.5,26.5 57.2,36 56.8,47.5 L55.2,47.5 C55.4,37.5 57.6,27.5 62.5,21 Z"/>
<path d="M63.5,33.5 C61.6,38 60.6,43 60.2,47.5 L59,47.5 C59.5,42 61.4,37.5 63.5,33.5 Z"/>
</g>
<rect x="173" y="478" width="63.5" height="47.5" filter="url(#fLiver)"/>
<g fill="#f6eef4" filter="url(#fBlur06)"><ellipse cx="203.7" cy="482" rx="2" ry="1"/><ellipse cx="182.8" cy="492.7" rx="2.5" ry="0.8"/><circle cx="197.8" cy="507.4" r="1.8"/><ellipse cx="232.4" cy="493" rx="1.2" ry="2"/><circle cx="218" cy="502.8" r="0.9"/></g>
<clipPath id="clipSp0"><rect x="240.9" y="478" width="63.5" height="47.5"/></clipPath>
<rect x="240.9" y="478" width="63.5" height="47.5" filter="url(#fSpleen1)"/>
<g clip-path="url(#clipSp0)"><g filter="url(#fSoft)">
<g fill="#4a3296" opacity="0.6"><ellipse cx="267" cy="489" rx="12" ry="9"/><ellipse cx="294" cy="516" rx="12" ry="9"/><ellipse cx="248" cy="518" rx="6" ry="6"/></g>
<g fill="none" stroke="#c8509c" stroke-width="1.7" opacity="0.6"><path d="M264,478 C261,487 255,497 244,508"/><path d="M277,498 C284,500 294,503 305,506"/><path d="M241,500 C250,503 262,506 272,505 C276,510 278,518 279,526"/><path d="M282,478 C281,485 280,492 278,498"/></g>
</g></g>
<rect x="308.9" y="478" width="63.5" height="47.5" fill="#b64f9c"/>
<path fill="#f4eef4" d="M335.4,504.6L335.3,505.0L335.3,505.1L335.6,505.6L337.3,506.5L337.8,506.5L338.3,506.3L338.7,505.8L338.7,505.4L338.5,504.8L337.7,504.3L337.3,504.2L335.8,504.4ZM316.9,501.4L316.3,502.9L316.4,503.5L316.8,504.1L317.4,504.4L319.3,504.1L319.6,503.9L319.8,503.5L319.8,502.3L319.6,501.9L318.5,500.9L318.0,500.8L317.3,501.0ZM361.4,480.9L361.8,480.9L362.1,480.6L362.8,479.5L362.9,479.0L362.5,478.0L362.5,478.0L361.3,478.0L360.6,478.7L360.4,479.0L360.5,479.4L361.1,480.6ZM309.7,520.6L310.2,520.7L313.0,519.8L313.4,519.3L313.6,517.4L313.4,517.0L313.3,516.8L313.1,516.7L312.3,516.4L311.7,516.5L309.6,518.6L309.4,519.0L309.4,520.1ZM351.1,509.3L352.7,508.9L353.1,508.4L353.1,508.3L353.0,507.9L352.0,506.3L351.7,506.0L351.2,506.0L351.0,506.4L350.2,508.3L350.3,508.9L350.5,509.1ZM317.4,487.7L317.5,488.1L317.8,488.4L318.5,488.6L319.0,488.6L319.3,488.2L319.4,487.6L319.4,487.3L319.1,487.0L318.9,486.8L318.2,486.9L317.6,487.3ZM336.6,499.3L336.9,499.6L338.2,500.1L338.6,500.1L338.7,500.1L339.1,499.7L339.5,498.3L339.4,497.7L338.6,496.8L338.2,496.6L337.9,496.6L337.3,496.9L337.0,497.3L336.6,498.8ZM343.0,511.5L343.5,511.3L343.8,511.1L344.2,510.5L344.2,510.1L344.1,509.8L343.0,508.4L342.4,508.2L341.9,508.2L341.5,508.4L341.4,508.8L341.2,510.6L341.3,511.0L341.6,511.3L342.6,511.5ZM354.1,499.6L354.0,499.3L352.5,497.8L351.8,497.6L350.9,498.0L350.6,498.3L350.3,498.9L350.2,499.3L350.5,500.2L350.8,500.6L352.3,501.3L352.9,501.2L353.5,500.9L353.8,500.6L354.1,500.0ZM355.1,490.5L355.0,490.6L354.6,491.1L354.5,491.5L354.6,491.8L354.9,492.1L355.4,492.3L355.9,492.3L356.2,491.9L356.3,491.4L356.2,491.0L355.9,490.7L355.6,490.5ZM325.6,479.5L327.0,478.7L327.3,478.3L327.3,478.0L324.0,478.0L324.4,479.1L324.8,479.5L325.1,479.6ZM334.4,519.8L334.1,519.6L333.8,519.5L333.3,519.6L332.2,520.5L331.9,521.0L332.2,521.5L333.2,522.2L333.6,522.3L333.9,522.2L334.5,521.8L334.7,521.2L334.5,520.1ZM317.8,522.5L317.6,522.9L317.5,525.2L317.7,525.5L321.8,525.5L322.1,525.1L322.1,524.8L322.0,524.5L320.8,522.6L320.3,522.3L318.2,522.3ZM349.3,518.5L349.7,518.4L350.8,517.9L351.1,517.5L351.3,516.8L351.2,516.3L350.8,515.7L350.5,515.5L350.2,515.4L349.8,515.4L349.5,515.6L348.6,517.3L348.5,517.6L348.7,518.0L349.0,518.3ZM309.7,493.2L310.0,493.6L311.0,494.0L311.6,494.0L312.3,493.5L312.5,493.2L312.5,492.8L311.9,491.6L311.5,491.3L311.0,491.4L309.8,492.6ZM358.1,481.9L358.5,482.1L359.6,482.2L360.1,482.0L360.3,481.7L360.5,481.4L360.4,481.0L359.7,479.6L359.3,479.3L358.7,479.2L358.2,479.3L358.1,479.4L357.9,479.9L357.9,481.5ZM312.8,478.9L313.5,478.0L310.9,478.0L311.2,478.8L311.4,479.1L311.8,479.2L312.4,479.2ZM320.3,514.3L320.1,513.9L318.7,512.5L318.3,512.3L317.9,512.4L317.6,512.6L317.3,513.1L317.5,515.3L317.7,515.7L318.1,515.9L319.1,515.8L319.6,515.6L320.2,514.7ZM352.9,479.7L352.6,479.5L350.8,478.9L350.3,479.0L349.0,479.9L348.7,480.5L348.8,480.8L349.0,481.2L349.4,481.3L352.4,481.4L352.8,481.2L353.0,480.8L353.0,480.0ZM361.3,491.3L361.6,492.1L361.9,492.5L362.5,492.7L362.9,492.7L363.3,492.3L363.8,490.9L363.6,490.2L363.3,489.9L362.7,489.8L362.1,489.9L361.8,490.2L361.4,490.8ZM321.2,494.3L320.8,494.1L319.7,494.0L319.2,494.2L318.1,495.7L318.0,496.1L318.1,496.5L319.0,497.3L319.5,497.5L320.5,497.4L320.9,497.3L321.0,496.9L321.3,494.8ZM327.1,489.7L326.9,490.1L327.1,490.5L328.2,492.0L328.6,492.2L329.0,492.1L329.2,491.7L329.5,490.1L329.4,489.6L328.9,489.4L327.5,489.5ZM310.7,504.4L309.1,506.3L309.0,506.9L309.3,507.7L309.6,508.1L310.0,508.1L312.8,507.4L313.1,507.0L313.1,506.5L312.1,504.5L311.5,504.2L311.2,504.2ZM346.0,494.0L346.2,494.4L347.1,495.5L347.6,495.7L348.5,495.6L348.8,495.5L349.0,495.2L349.4,493.5L349.3,492.9L348.8,492.7L347.3,492.8L346.9,493.0L346.2,493.6ZM371.2,500.8L371.2,501.1L371.6,502.0L372.0,502.4L372.4,502.5L372.4,499.6L371.4,500.5ZM365.1,484.7L365.3,484.9L367.3,485.8L367.7,485.8L368.1,485.5L368.5,484.6L368.6,484.1L368.3,483.8L366.6,482.8L366.2,482.8L365.9,482.9L365.2,483.4L365.0,483.8L365.0,484.3ZM371.0,520.8L371.3,520.5L371.3,520.4L371.3,519.9L370.7,517.9L370.4,517.5L369.9,517.5L369.3,517.7L369.0,517.9L368.4,518.9L368.4,519.4L368.6,520.1L369.1,520.6L370.6,520.8ZM349.1,492.0L349.3,491.6L349.6,490.1L349.5,489.6L349.4,489.5L349.1,489.3L347.9,489.1L347.4,489.2L346.6,489.8L346.4,490.1L346.4,490.5L346.9,491.8L347.2,492.1L347.5,492.2L348.8,492.1ZM354.5,478.4L354.9,478.6L357.1,479.0L357.6,478.9L357.7,478.8L357.8,478.2L357.8,478.0L354.5,478.0ZM343.8,523.2L344.0,523.2L344.4,523.2L346.1,522.2L346.4,521.9L346.4,521.8L346.3,521.3L345.4,520.0L345.1,519.8L344.6,519.8L343.3,520.5L343.0,521.0L342.9,521.8L343.0,522.3L343.4,523.0ZM322.8,525.1L323.0,525.5L326.0,525.5L326.3,525.1L326.5,524.1L326.4,523.7L326.3,523.6L326.0,523.3L325.5,523.3L323.1,524.7ZM309.4,482.3L309.0,482.3L308.9,482.5L308.9,484.2L309.0,484.3L309.6,484.3L309.9,484.2L310.2,483.8L310.2,483.4L310.1,483.0L309.8,482.5ZM344.0,480.6L344.0,481.1L344.9,482.7L345.4,483.0L347.4,482.9L347.8,482.8L347.8,482.7L348.0,482.5L348.2,481.9L348.2,481.6L348.0,480.4L347.8,480.0L346.6,479.2L346.3,479.1L345.9,479.2L344.2,480.3ZM352.5,505.1L352.3,505.5L352.4,505.9L353.3,507.3L353.6,507.5L354.0,507.5L355.6,507.0L356.0,506.5L356.1,506.1L356.0,505.6L355.9,505.4L355.5,505.2L352.9,505.0ZM342.6,515.7L343.0,516.0L344.5,516.4L344.9,516.3L345.2,515.9L345.5,514.8L345.4,514.3L344.2,512.6L343.9,512.4L343.5,512.4L343.4,512.4L343.1,512.9L342.5,515.3ZM357.1,515.5L359.2,514.2L359.4,513.7L359.6,512.8L359.3,512.2L357.8,511.0L357.4,510.9L356.9,511.2L355.6,513.5L355.6,514.1L356.1,515.1L356.4,515.5L356.6,515.5ZM369.0,493.9L370.3,495.0L370.7,495.2L371.7,495.1L372.2,494.8L372.4,494.4L372.4,492.7L372.3,492.5L371.7,492.3L369.4,492.6L368.9,493.0L368.8,493.3ZM367.5,522.7L367.9,523.2L369.2,523.8L369.7,523.8L370.1,523.6L370.5,523.3L371.0,522.1L370.9,521.6L370.5,521.3L369.0,521.0L368.4,521.3L367.6,522.2ZM332.5,515.7L333.0,515.6L334.4,514.8L334.7,514.5L334.6,514.0L334.6,514.0L334.1,513.7L332.5,513.6L331.9,513.8L331.8,514.0L331.8,514.6L332.1,515.4ZM338.0,518.7L337.7,518.5L337.1,518.3L336.5,518.4L335.3,519.3L335.1,519.9L335.3,521.2L335.7,521.6L336.0,521.8L336.6,521.7L337.9,520.7L338.1,520.2L338.1,519.1ZM340.7,486.8L339.6,485.0L339.1,484.7L338.6,485.0L337.5,486.4L337.4,487.0L338.0,488.6L338.3,488.9L338.7,489.0L340.2,488.7L340.6,488.5L340.7,488.2L340.8,487.2ZM352.3,485.3L352.5,485.7L352.8,486.0L353.4,486.1L353.8,485.9L354.2,485.6L354.2,485.1L353.9,484.5L353.4,484.2L352.9,484.4L352.4,484.9ZM369.2,509.1L368.8,509.5L368.3,510.4L368.2,510.8L368.3,511.3L368.5,511.7L369.2,512.3L369.5,512.4L369.8,512.4L370.7,511.9L370.9,511.6L371.2,511.2L371.2,510.8L371.0,510.4L369.7,509.3ZM338.7,519.1L338.8,520.3L338.9,520.7L339.9,521.8L340.4,522.0L341.6,521.8L342.0,521.7L342.2,521.4L342.3,520.8L342.2,520.3L340.5,518.3L340.1,518.1L339.7,518.2L339.1,518.5ZM317.0,496.8L316.5,497.0L315.4,498.3L315.3,498.7L315.5,499.1L316.7,500.2L317.3,500.4L317.7,500.2L318.1,499.8L318.5,498.5L318.3,497.9L317.4,497.0ZM339.3,493.6L340.8,493.4L341.1,493.2L342.1,492.4L342.3,491.9L342.2,490.4L341.9,489.9L341.1,489.4L340.7,489.3L338.5,489.7L338.1,490.0L337.6,490.7L337.5,491.1L337.7,491.9L337.8,492.2L338.8,493.4ZM355.0,483.0L354.8,483.3L354.8,483.7L355.5,485.0L355.9,485.4L356.4,485.3L356.7,484.9L356.9,483.5L356.8,483.0L356.3,482.8L355.4,482.8ZM328.7,512.3L328.7,512.7L328.9,513.0L329.7,513.4L330.1,513.5L330.5,513.3L330.6,513.1L330.6,512.4L330.4,511.9L330.0,511.6L329.6,511.7L329.0,512.0ZM369.8,513.3L369.8,513.7L370.6,515.3L371.0,515.6L371.5,515.5L372.4,514.6L372.4,513.6L371.4,512.7L371.1,512.5L370.7,512.6L370.0,513.0ZM330.9,503.9L330.7,504.3L330.7,505.8L330.8,506.2L331.1,506.4L332.4,506.8L332.8,506.9L333.1,506.7L333.7,505.9L333.9,505.4L333.8,504.7L333.5,504.2L332.9,503.8L332.5,503.7L331.3,503.7ZM362.7,525.1L362.1,524.8L361.8,524.9L361.3,525.2L361.2,525.5L362.9,525.5ZM364.4,508.3L363.3,507.7L362.9,507.7L362.3,507.8L361.9,508.1L361.8,508.5L362.1,510.8L362.5,511.3L363.2,511.5L363.6,511.5L363.9,511.3L364.7,509.8L364.8,509.4L364.7,508.7ZM328.1,479.0L329.5,480.5L329.9,480.7L330.3,480.6L331.6,479.6L331.8,479.0L331.6,478.0L328.0,478.0L327.9,478.5ZM361.7,482.0L361.3,482.2L360.9,482.6L360.8,483.1L361.1,484.4L361.6,484.8L363.1,485.0L363.6,484.9L363.8,484.5L363.9,483.9L363.7,483.4L362.1,482.2ZM370.8,479.0L370.8,479.4L371.1,479.7L372.4,480.2L372.4,478.0L371.8,478.0L371.0,478.7ZM352.2,504.3L352.3,502.4L352.2,502.0L351.9,501.8L350.7,501.3L350.4,501.2L350.0,501.4L348.4,503.1L348.3,503.5L348.3,503.5L348.3,503.8L348.6,504.1L350.9,505.2L351.2,505.2L351.4,505.2L351.7,505.0L352.0,504.7ZM343.0,490.2L342.9,490.6L343.0,491.7L343.3,492.3L345.1,493.1L345.4,493.2L345.7,493.0L346.1,492.7L346.3,492.4L346.3,492.0L345.7,490.6L345.4,490.2L344.2,489.8L343.8,489.8L343.3,490.0ZM363.7,524.1L363.8,524.6L364.1,525.1L364.6,525.3L365.3,525.4L365.9,525.0L366.4,523.9L366.5,523.5L366.2,523.1L365.7,523.1L364.1,523.7ZM344.9,483.9L344.4,484.6L344.3,484.9L344.3,485.0L344.4,485.3L345.0,486.1L345.5,486.4L346.1,486.4L346.5,486.2L347.2,485.4L347.4,484.9L347.4,484.2L347.2,483.8L346.7,483.6L345.4,483.6ZM363.1,506.9L363.9,504.6L363.9,504.3L363.7,504.0L363.0,503.3L362.6,503.2L362.2,503.3L360.3,505.0L360.1,505.3L360.1,505.5L360.1,505.9L360.7,507.1L361.0,507.4L361.3,507.5L361.7,507.5L362.7,507.2ZM348.4,524.6L348.1,525.5L349.8,525.5L349.9,524.8L349.7,524.4L349.2,524.2L348.9,524.3ZM319.0,511.9L319.2,512.4L320.3,513.5L320.7,513.7L321.1,513.6L322.2,512.8L322.4,512.5L322.4,512.1L322.0,511.1L321.5,510.8L320.9,510.7L320.5,510.7L319.3,511.4ZM322.9,483.5L321.9,483.8L321.5,484.1L321.4,484.5L321.6,485.7L321.9,486.1L323.1,486.7L323.5,486.8L323.8,486.6L325.0,485.4L325.2,484.9L324.9,484.5L323.4,483.6ZM340.5,482.7L340.9,483.1L343.3,484.1L343.7,484.1L344.0,483.9L344.3,483.5L344.3,482.9L343.4,481.0L343.0,480.7L341.8,480.5L341.4,480.6L341.1,480.9L340.5,482.3ZM368.6,486.6L368.8,487.0L369.8,487.8L370.1,487.9L371.9,488.3L372.4,488.2L372.4,484.7L372.3,484.6L370.1,484.3L369.7,484.3L369.5,484.6L368.7,486.3ZM366.9,480.2L366.7,481.3L366.8,481.7L367.0,481.9L368.4,482.7L369.0,482.7L369.3,482.3L369.8,480.2L369.7,479.6L369.1,479.4L367.4,479.6L367.1,479.8L367.0,479.9ZM365.2,499.2L365.3,499.2L365.7,498.9L366.2,498.0L366.3,497.5L366.1,497.1L365.9,496.8L364.0,495.7L363.6,495.6L363.2,496.0L362.6,497.3L362.6,497.7L362.8,498.1L364.8,499.2ZM312.0,495.6L312.2,496.1L313.8,497.8L314.2,498.0L314.7,497.8L315.6,496.7L315.8,496.3L315.6,495.9L314.1,494.5L313.7,494.4L313.3,494.5L312.3,495.2ZM340.1,505.3L340.0,506.0L340.3,506.6L340.8,506.9L341.2,507.0L342.2,506.9L342.7,506.5L343.0,505.7L343.0,505.2L342.6,504.9L341.3,504.5L340.7,504.6L340.4,504.9ZM333.3,486.6L333.8,486.6L334.6,486.3L334.9,486.0L335.0,485.6L334.6,483.8L334.3,483.3L333.8,483.3L332.9,483.7L332.7,484.0L332.6,484.4L333.0,486.2ZM361.5,516.1L361.3,515.8L359.9,514.8L359.6,514.7L359.3,514.8L357.8,515.7L357.5,516.1L357.6,516.5L358.7,518.7L359.0,519.0L359.4,519.1L359.7,519.1L360.4,518.9L360.8,518.5L361.5,516.5ZM324.9,496.0L322.8,494.8L322.2,494.8L321.9,495.3L321.6,497.4L321.9,498.0L322.1,498.2L322.6,498.3L324.8,497.8L325.1,497.6L325.3,497.2L325.2,496.5ZM346.6,478.1L346.9,478.5L347.9,479.2L348.2,479.3L348.6,479.2L349.8,478.4L349.9,478.0L346.6,478.0ZM311.6,524.2L310.4,523.1L309.9,522.9L309.4,523.2L308.9,524.1L308.9,525.5L311.6,525.5L311.8,525.3L311.8,524.7ZM344.4,504.9L344.2,505.2L343.5,507.1L343.6,507.7L345.0,509.4L345.5,509.6L345.9,509.4L346.5,508.9L346.6,508.5L346.7,505.5L346.6,505.1L346.1,504.9L344.8,504.8ZM358.8,486.0L359.1,485.8L359.6,485.3L359.8,484.7L359.5,483.8L359.3,483.5L359.0,483.3L358.9,483.3L358.5,483.4L358.3,483.8L358.0,485.2L358.0,485.6L358.3,485.8L358.4,485.9ZM342.1,479.6L342.5,479.9L343.1,480.0L343.6,479.9L345.5,478.6L345.7,478.0L345.7,478.0L342.7,478.0L342.1,479.0ZM332.7,499.2L332.2,499.1L330.8,499.3L330.4,499.5L330.3,500.0L330.7,502.2L330.9,502.5L331.3,502.7L332.0,502.6L332.4,502.5L332.5,502.1L332.9,499.7ZM333.6,489.6L334.0,489.8L336.6,490.3L337.0,490.3L337.2,490.1L337.5,489.7L337.5,489.2L336.8,487.2L336.3,486.8L335.6,486.7L335.2,486.7L333.9,487.2L333.6,487.4L333.5,487.8L333.5,489.2ZM370.3,496.1L369.4,497.4L369.2,497.8L369.4,498.1L370.5,499.6L370.9,499.8L371.4,499.6L372.4,498.7L372.4,496.4L372.3,496.1L372.1,495.8L371.7,495.8L370.7,495.9ZM312.3,515.8L312.7,515.9L313.1,515.9L313.4,515.6L314.8,513.2L314.8,512.8L314.6,512.4L313.9,511.7L313.3,511.6L312.7,511.7L312.3,512.1L311.6,514.5L311.6,515.0L312.0,515.5ZM326.8,494.7L325.9,496.0L325.8,496.4L325.8,497.4L326.1,497.9L326.6,498.3L327.0,498.4L328.2,498.2L328.5,498.1L328.7,497.8L329.1,495.9L329.0,495.4L328.5,494.5L328.2,494.2L327.8,494.2L327.1,494.5ZM328.9,493.5L328.9,493.9L329.6,495.0L330.1,495.3L332.5,495.2L332.9,495.1L333.1,494.7L333.0,494.3L332.3,493.1L331.7,492.7L329.6,492.9L329.3,493.0L329.1,493.1ZM366.4,489.9L366.8,490.3L367.5,490.6L367.9,490.6L368.3,490.3L369.0,488.7L369.1,488.3L368.9,488.0L368.6,487.8L368.2,487.7L367.8,487.9L366.6,489.4ZM355.0,524.4L354.9,524.8L355.0,525.2L355.4,525.4L355.7,525.5L356.2,525.4L356.4,524.9L356.4,524.8L356.2,524.3L355.7,524.2L355.4,524.2ZM354.5,519.7L354.9,520.0L356.0,520.1L356.4,520.1L357.6,519.3L357.9,519.0L357.8,518.6L356.8,516.4L356.4,516.1L356.4,516.1L355.8,516.2L355.1,516.8L354.8,517.1L354.4,519.2ZM347.2,525.5L347.6,524.4L347.5,523.7L346.9,523.2L346.6,523.0L346.2,523.1L345.4,523.6L345.1,524.0L345.1,524.4L345.7,525.5L347.2,525.5ZM311.8,483.8L311.6,484.2L311.8,484.6L312.1,485.0L312.7,485.1L313.1,484.8L313.3,484.4L313.3,484.0L313.1,483.7L312.7,483.6L312.2,483.6ZM371.5,517.3L371.3,517.6L371.3,518.0L371.7,519.2L372.0,519.6L372.4,519.6L372.4,517.3L372.0,517.2ZM343.2,501.2L342.7,501.2L341.8,501.6L341.4,502.1L341.3,502.9L341.4,503.3L341.8,503.5L343.0,503.9L343.4,503.9L343.7,503.6L343.8,503.3L343.5,501.7ZM364.1,514.7L364.2,514.4L364.2,513.5L364.1,513.1L363.7,512.5L363.4,512.2L362.2,511.7L361.7,511.8L360.4,512.4L360.1,512.9L360.0,513.7L360.2,514.2L361.8,515.4L362.4,515.5L363.8,514.9ZM314.7,482.9L315.0,483.2L316.1,483.8L316.6,483.8L316.7,483.7L317.0,483.5L317.1,483.2L317.1,482.2L316.8,481.7L316.2,481.4L315.8,481.4L315.2,481.6L314.8,482.0L314.7,482.5ZM321.1,522.0L321.2,522.3L322.2,523.8L322.5,524.1L323.0,524.0L325.2,522.8L325.5,522.4L325.4,521.9L324.3,520.7L323.7,520.5L322.1,520.8L321.7,521.0L321.2,521.6ZM343.8,500.4L344.3,500.5L345.6,500.4L346.1,500.0L346.4,499.3L346.4,498.8L345.9,498.5L344.8,498.3L344.3,498.5L343.8,499.1L343.6,499.5L343.6,500.0ZM334.0,511.9L334.2,511.4L334.0,511.0L333.4,510.4L333.0,510.3L332.6,510.4L332.3,510.8L332.1,511.1L332.1,511.5L332.2,511.6L332.7,512.0L333.5,512.0ZM371.6,503.3L371.3,503.5L370.6,504.5L370.5,505.0L370.7,505.7L371.1,506.2L372.4,506.5L372.4,503.3L371.9,503.2ZM328.0,518.1L327.8,518.5L327.6,520.5L327.8,520.9L328.3,521.1L329.7,520.9L330.2,520.6L330.2,520.1L329.6,518.6L329.3,518.3L328.6,518.0ZM336.3,478.2L336.2,478.0L332.2,478.0L332.3,478.9L332.7,479.4L334.6,480.1L335.0,480.1L335.3,479.9L336.2,478.6ZM348.6,483.6L348.3,483.9L348.1,484.3L348.2,484.9L348.4,485.3L349.5,486.1L350.1,486.1L350.7,485.8L351.0,485.5L351.0,485.1L350.8,484.7L349.1,483.7ZM320.9,506.9L321.2,507.1L323.2,507.5L323.8,507.3L324.2,506.9L324.3,506.6L324.2,506.2L323.3,504.7L322.7,504.4L321.1,504.6L320.7,504.8L320.6,505.3L320.8,506.5ZM327.1,525.5L330.4,525.5L330.1,524.9L329.7,524.7L327.8,524.3L327.3,524.4L327.1,524.8L327.0,525.3ZM339.7,482.7L340.6,480.6L340.6,480.2L340.4,479.9L338.8,478.5L338.3,478.4L337.3,478.5L336.9,478.7L335.6,480.6L335.5,481.0L335.5,481.2L335.8,481.6L338.7,483.1L339.1,483.2L339.4,483.1L339.5,482.9ZM316.5,523.0L316.2,522.7L315.4,522.5L314.8,522.7L313.2,524.2L313.0,524.7L313.1,525.1L313.3,525.5L316.3,525.5L316.5,525.2L316.6,523.4ZM350.3,492.1L350.6,492.4L351.8,492.7L352.3,492.6L352.8,492.2L353.1,491.8L353.2,490.7L353.0,490.2L352.7,490.0L352.2,489.9L350.9,490.2L350.5,490.4L350.4,490.7L350.2,491.7ZM356.9,494.2L356.7,494.6L356.5,495.3L356.6,495.8L356.6,495.8L357.1,496.1L357.8,496.2L358.2,496.1L358.5,495.7L358.6,495.0L358.5,494.6L358.2,494.3L357.4,494.1ZM339.1,494.3L338.9,494.6L338.7,495.6L338.8,496.2L339.9,497.4L340.4,497.6L340.6,497.6L341.0,497.3L341.8,496.1L341.8,495.5L341.2,494.3L340.9,494.0L340.6,494.0L339.4,494.1ZM353.9,501.6L353.5,501.6L353.2,501.8L353.0,502.3L352.9,503.8L353.0,504.2L353.4,504.4L355.2,504.5L355.6,504.4L355.8,504.1L355.9,503.7L355.8,503.1L354.2,501.7ZM351.1,522.1L351.2,522.6L351.3,522.9L351.6,523.1L352.5,523.4L353.0,523.3L353.2,522.9L353.3,521.5L353.2,521.1L352.9,520.9L352.5,520.9L351.4,521.5ZM327.0,493.8L327.7,493.6L328.1,493.2L328.0,492.6L326.5,490.6L326.0,490.3L325.5,490.4L325.2,490.5L325.0,490.9L324.9,491.9L325.1,492.4L326.5,493.6ZM317.6,508.6L317.6,509.1L318.3,510.7L318.7,511.1L319.1,511.0L320.1,510.5L320.4,509.9L320.3,508.4L320.0,508.0L319.5,507.9L318.0,508.3ZM367.3,478.7L367.6,478.8L368.7,478.7L369.1,478.5L369.2,478.0L369.2,478.0L366.8,478.0L367.0,478.4ZM365.0,515.0L365.1,515.2L365.5,515.3L366.1,515.3L366.5,515.2L368.6,513.6L368.8,513.2L368.6,512.7L368.2,512.3L367.5,512.2L365.1,513.2L364.8,513.8L364.8,514.6ZM322.1,520.0L322.6,520.1L323.5,520.0L323.9,519.6L324.3,518.5L324.1,517.9L323.6,517.4L323.2,517.2L322.8,517.3L321.8,518.1L321.6,518.4L321.6,518.7L321.9,519.7ZM324.0,516.3L324.2,516.7L324.8,517.3L325.3,517.4L326.0,517.3L326.4,517.0L326.4,516.5L326.1,515.1L325.6,514.7L325.4,514.6L325.0,514.7L324.7,514.9L324.1,515.9ZM336.2,514.9L336.2,515.5L337.0,517.2L337.4,517.5L338.1,517.7L338.5,517.7L339.2,517.3L339.5,517.0L339.5,516.5L338.5,514.7L338.3,514.5L337.9,514.4L336.6,514.6ZM309.2,498.1L309.7,497.9L310.9,496.2L311.0,495.7L310.7,495.3L309.0,494.6L308.9,494.6L308.9,498.1ZM320.0,489.1L320.4,489.3L321.6,489.6L322.0,489.6L323.0,489.1L323.4,488.6L323.4,487.7L323.0,487.2L321.7,486.5L321.1,486.6L320.5,487.0L320.2,487.3L319.9,488.6ZM366.3,499.8L366.9,500.8L367.5,501.0L369.7,500.8L370.0,500.6L370.2,500.2L370.1,499.8L368.9,498.3L368.4,498.0L367.2,498.1L366.7,498.4L366.2,499.2ZM319.4,498.5L319.2,498.8L318.9,500.0L319.1,500.6L319.7,501.1L320.1,501.3L320.4,501.2L321.5,500.4L321.8,499.9L321.9,499.1L321.6,498.6L321.4,498.4L321.0,498.3L319.8,498.3ZM310.7,514.2L311.0,513.8L311.6,512.1L311.6,511.7L311.3,511.4L309.6,510.2L309.2,510.1L308.9,510.3L308.9,513.8L310.3,514.2ZM360.6,501.4L360.2,501.5L359.2,502.3L359.0,502.7L359.1,503.1L359.7,504.0L360.1,504.3L360.6,504.1L361.6,503.2L361.8,502.8L361.7,502.3L361.0,501.6ZM313.7,507.2L313.8,507.6L314.3,508.4L314.8,508.7L316.6,508.5L317.0,508.3L317.1,507.8L316.8,506.0L316.5,505.6L315.9,505.6L314.0,506.8ZM320.5,478.6L320.2,478.9L320.2,479.2L320.2,479.5L320.4,479.8L320.8,480.0L322.9,480.1L323.4,480.0L323.5,479.9L323.6,479.2L323.2,478.0L321.5,478.0ZM328.5,486.3L328.0,486.3L327.6,486.5L327.4,486.9L327.4,488.3L327.6,488.8L328.0,488.9L328.7,488.8L329.1,488.7L329.2,488.3L329.4,487.3L329.2,486.8L329.0,486.5ZM323.7,509.8L323.3,510.0L322.7,510.5L322.6,510.8L322.6,511.1L323.0,512.0L323.4,512.4L323.5,512.4L323.8,512.4L324.1,512.1L324.7,511.2L324.8,510.8L324.6,510.4L324.1,510.0ZM343.8,485.8L343.3,485.8L341.6,486.8L341.3,487.3L341.2,488.4L341.5,489.0L342.3,489.5L342.8,489.5L343.6,489.2L343.9,488.9L344.6,487.2L344.5,486.6L344.1,486.0ZM329.6,482.2L329.2,482.2L326.8,483.0L326.4,483.3L325.8,484.4L325.8,484.8L325.8,484.8L326.1,485.2L327.0,485.7L327.3,485.8L328.5,485.7L329.0,485.4L330.0,483.3L330.0,482.8L329.9,482.5ZM354.2,479.6L353.9,480.0L353.9,481.1L354.1,481.6L354.5,481.8L356.4,481.7L356.8,481.5L357.0,481.1L357.0,480.4L356.8,480.0L356.5,479.8L354.7,479.5ZM330.0,489.0L330.4,489.3L332.2,489.4L332.6,489.3L332.8,488.8L332.8,487.8L332.6,487.4L332.2,487.2L330.6,487.2L330.2,487.4L330.0,487.7L329.9,488.6ZM317.8,481.1L319.1,480.4L319.4,480.2L319.5,479.8L319.3,479.1L319.1,478.7L319.0,478.6L318.5,478.5L317.1,479.0L316.7,479.4L316.6,480.2L316.6,480.6L316.9,480.9L317.2,481.0ZM365.8,519.5L365.6,519.9L365.7,520.3L366.4,521.4L366.9,521.7L367.4,521.4L367.9,520.8L368.0,520.3L367.9,519.9L367.7,519.6L367.3,519.5L366.2,519.4ZM359.3,506.0L357.1,506.0L356.8,506.2L356.5,506.5L356.5,506.8L356.5,507.2L357.2,508.8L357.6,509.2L358.1,509.1L360.0,507.7L360.2,507.3L360.1,506.9L359.8,506.3ZM353.4,512.5L353.5,512.6L353.8,512.9L354.5,513.2L355.0,513.2L355.3,512.9L356.2,511.4L356.2,510.8L355.8,510.5L354.5,510.3L354.1,510.3L353.9,510.6L353.4,512.0ZM371.6,522.4L371.3,522.7L371.1,523.3L371.0,523.6L371.2,524.0L372.1,524.8L372.4,525.0L372.4,522.5L372.1,522.4ZM317.2,521.8L317.5,521.3L317.5,519.5L317.4,519.2L316.3,517.7L315.8,517.5L314.7,517.4L314.3,517.6L314.1,518.0L313.9,519.6L314.0,520.0L314.9,521.2L315.3,521.5L316.7,521.9ZM326.8,501.9L327.5,502.6L327.9,502.8L329.1,502.8L329.6,502.6L329.7,502.1L329.3,499.5L329.0,499.2L328.6,499.1L327.5,499.2L327.2,499.4L327.0,499.7L326.6,501.4ZM342.8,523.5L342.7,523.2L342.4,522.8L341.9,522.5L340.4,522.7L340.0,523.0L339.4,524.0L339.4,524.7L340.0,525.5L341.6,525.5L342.7,523.8ZM358.2,500.1L357.8,500.4L357.6,500.8L357.7,501.5L357.9,501.9L358.3,502.0L358.7,501.9L359.1,501.6L359.3,501.1L359.1,500.7L358.6,500.3ZM364.6,515.6L364.0,515.5L362.6,516.1L362.2,516.4L361.5,518.4L361.6,518.8L361.8,519.1L362.7,519.6L363.1,519.6L364.3,519.3L364.6,519.1L364.7,518.9L364.9,518.6L364.8,516.1ZM311.5,516.0L311.4,515.6L311.1,515.2L310.8,514.9L308.9,514.4L308.9,518.1L309.1,518.2L309.5,518.0L311.3,516.3ZM316.9,495.4L317.3,495.2L318.3,493.7L318.4,493.1L318.3,493.0L318.0,492.7L316.6,492.3L316.1,492.4L315.1,493.1L314.9,493.6L315.1,494.1L316.4,495.3ZM325.2,489.8L326.0,489.7L326.4,489.5L326.5,489.4L326.6,489.0L326.7,486.5L326.4,486.0L326.1,485.9L325.7,485.8L325.4,486.0L324.1,487.2L323.9,487.6L323.9,488.7L324.2,489.1L324.7,489.6ZM333.6,502.8L333.9,503.0L334.3,503.0L334.6,502.7L335.5,500.6L335.5,500.0L335.0,499.7L334.4,499.7L334.0,499.9L333.8,500.2L333.5,502.4ZM367.1,504.8L366.9,505.3L367.0,506.8L367.3,507.3L368.5,507.9L368.9,507.9L369.3,507.7L370.0,506.6L370.1,506.1L369.9,505.3L369.7,505.0L369.4,504.9L367.6,504.6ZM311.3,503.7L311.7,503.7L312.1,503.5L312.7,502.9L312.9,502.4L312.8,501.0L312.6,500.6L312.2,500.5L311.1,500.4L310.6,500.7L310.0,501.8L310.0,502.4L310.8,503.4ZM365.4,500.1L364.9,500.4L363.6,502.3L363.5,502.7L363.7,503.1L364.2,503.6L364.7,503.7L365.6,503.7L366.0,503.6L366.2,503.2L366.5,501.6L366.4,501.2L365.9,500.4ZM350.4,511.8L349.5,512.6L349.3,512.9L349.2,513.7L349.3,514.2L349.6,514.6L349.9,514.8L350.5,515.0L351.1,514.9L352.7,513.4L352.9,513.0L352.9,512.6L352.6,512.4L351.0,511.7ZM309.2,501.7L309.4,501.4L310.0,500.3L310.0,499.7L309.6,499.2L309.2,498.9L308.9,498.9L308.9,501.7ZM329.5,516.8L329.9,517.1L330.4,517.0L330.8,516.7L331.0,516.4L331.0,515.9L330.8,515.7L330.5,515.4L330.1,515.4L329.8,515.7L329.5,516.2ZM327.3,522.0L327.0,522.2L326.8,522.6L326.9,523.0L327.0,523.3L327.4,523.6L329.3,524.0L329.8,523.9L330.0,523.5L330.3,522.3L330.2,521.7L329.6,521.5L327.6,521.8ZM366.3,479.4L366.5,479.1L366.5,478.7L366.2,478.0L363.1,478.0L363.4,478.8L363.9,479.2L365.9,479.5ZM313.6,510.6L314.1,509.2L314.0,508.7L313.5,508.0L313.3,507.8L312.9,507.8L309.9,508.6L309.5,509.0L309.5,509.0L309.5,509.4L309.8,509.7L311.9,511.1L312.4,511.2L313.2,511.0ZM355.1,499.8L354.8,500.1L354.6,500.5L354.6,500.9L354.8,501.2L356.0,502.3L356.5,502.5L356.9,502.2L357.0,501.8L356.8,500.7L356.5,500.2L355.6,499.8ZM341.6,493.8L341.7,494.1L342.3,495.4L342.7,495.7L343.6,495.9L344.2,495.6L344.9,494.6L345.0,494.1L344.7,493.7L343.0,492.8L342.7,492.8L342.4,492.9L341.8,493.4ZM345.8,501.0L344.8,501.1L344.4,501.4L344.2,501.8L344.5,503.7L344.7,504.1L345.1,504.2L346.8,504.3L347.2,504.2L347.4,504.1L347.6,503.7L347.7,503.4L347.5,503.0L346.3,501.3ZM343.9,524.1L343.5,524.0L343.2,524.3L342.4,525.5L344.9,525.5L344.2,524.3ZM357.2,523.1L357.7,523.2L358.8,522.9L359.1,522.7L359.2,522.3L359.1,520.4L359.0,520.0L358.6,519.8L358.2,519.9L357.1,520.6L356.8,521.2L356.9,522.7ZM363.7,494.3L363.9,494.7L365.7,495.8L366.1,495.9L366.5,495.6L366.9,494.9L367.0,494.3L366.5,494.0L364.4,493.6L363.9,493.7L363.8,493.8ZM367.4,515.6L367.6,516.1L368.8,517.0L369.3,517.1L369.9,516.9L370.3,516.5L370.3,516.0L369.6,514.6L369.2,514.3L368.7,514.4L367.6,515.2ZM322.1,492.7L322.5,492.9L322.9,492.9L323.9,492.2L324.2,491.8L324.4,490.6L324.2,490.1L323.8,489.8L323.2,489.7L322.5,490.0L322.1,490.5L322.0,492.3ZM313.7,482.3L313.9,482.0L314.0,481.8L313.9,481.2L312.8,480.1L312.3,479.9L311.5,480.0L311.2,480.2L310.7,480.8L310.5,481.1L310.6,481.5L311.1,482.3L311.7,482.6L313.4,482.5ZM335.9,513.1L336.4,513.3L338.0,513.1L338.4,512.8L338.6,512.5L338.7,512.0L338.4,511.6L337.4,511.0L336.8,510.9L336.2,511.3L335.9,511.7L335.7,512.5ZM327.9,503.9L327.6,504.2L326.9,505.9L326.9,506.3L327.1,506.6L327.4,506.8L327.7,506.9L328.6,506.9L329.0,506.8L329.2,506.6L329.5,506.1L329.5,504.5L329.4,504.1L329.0,503.9L328.2,503.8ZM339.5,478.2L340.4,478.9L340.9,479.0L341.3,478.7L341.7,478.0L339.4,478.0ZM345.7,519.3L346.7,520.8L347.1,521.0L347.5,520.9L348.6,520.4L349.0,519.8L349.0,519.3L348.8,518.9L348.1,518.1L347.7,517.9L346.3,517.9L345.9,518.0L345.7,518.3L345.6,518.7ZM328.4,508.6L327.9,508.6L327.6,509.0L327.3,509.9L327.3,510.3L327.6,510.6L327.6,510.6L328.2,510.7L328.6,510.5L328.9,510.2L329.0,509.8L328.7,509.0ZM350.2,509.6L349.8,509.1L349.3,508.9L347.3,509.1L346.9,509.3L346.8,509.3L346.6,509.8L346.8,510.2L348.8,511.9L349.2,512.1L349.6,512.0L350.2,511.4L350.4,511.0L350.4,510.0ZM354.8,498.6L355.2,498.2L355.8,497.0L355.7,496.5L355.7,496.5L355.2,496.2L353.5,496.3L353.0,496.6L353.0,496.7L353.0,497.0L353.1,497.3L354.2,498.4ZM314.1,492.3L314.6,492.2L315.3,491.6L315.5,491.1L315.4,490.4L315.2,490.0L314.7,489.9L313.7,490.1L313.3,490.4L313.3,490.9L313.7,491.9ZM366.9,525.5L368.8,525.5L368.8,524.9L368.8,524.6L368.5,524.3L368.1,524.2L367.7,524.1L367.3,524.4L366.9,525.5ZM346.2,497.8L346.5,497.5L346.8,496.4L346.7,495.9L346.0,495.1L345.6,494.9L345.1,495.1L344.4,496.1L344.3,496.5L344.4,497.3L344.6,497.6L344.9,497.8L345.8,497.9ZM318.9,484.7L318.8,485.1L318.8,485.5L319.1,486.0L319.8,486.3L320.4,486.3L320.6,486.2L320.9,485.6L320.8,484.7L320.5,484.3L320.0,484.2L319.2,484.5ZM365.0,489.2L365.5,488.9L366.5,487.6L366.7,487.1L366.3,486.7L365.0,486.1L364.4,486.1L364.2,486.6L364.0,488.2L364.2,488.7L364.6,489.0ZM314.4,499.4L313.9,499.6L313.5,500.1L313.4,500.6L313.5,502.0L313.7,502.4L314.0,502.6L315.3,502.8L315.7,502.7L315.9,502.4L316.3,501.4L316.1,500.8L314.8,499.5ZM346.9,500.9L347.6,501.9L348.0,502.1L348.5,501.9L349.6,500.8L349.7,500.2L349.6,499.9L349.4,499.6L349.1,499.4L347.7,499.4L347.3,499.4L347.1,499.7L346.9,500.4ZM342.6,499.2L341.1,498.3L340.7,498.2L340.7,498.2L340.2,498.6L339.8,499.7L339.8,500.1L340.0,500.4L340.8,500.9L341.4,500.9L342.5,500.4L342.8,500.2L342.9,499.9L342.9,499.7ZM326.2,521.9L326.7,521.7L326.8,521.6L327.0,521.2L327.2,518.6L327.0,518.1L326.5,517.9L325.4,518.2L325.0,518.6L324.5,519.8L324.7,520.5L325.8,521.7ZM369.8,508.2L370.0,508.6L371.7,510.1L372.3,510.2L372.4,510.2L372.4,507.3L371.0,506.9L370.6,506.9L370.3,507.1L369.8,507.8ZM324.4,509.0L325.3,509.8L325.6,510.0L326.0,509.9L326.3,509.5L326.7,508.0L326.7,507.7L326.4,507.4L326.1,507.2L325.7,507.0L325.2,507.1L324.8,507.3L324.4,507.9L324.2,508.3L324.2,508.6ZM349.1,486.7L348.3,486.1L347.9,486.0L347.5,486.2L347.2,486.5L347.1,486.8L347.1,487.2L347.7,488.2L348.1,488.5L348.5,488.6L349.0,488.5L349.2,488.1L349.4,487.3ZM353.4,478.7L353.7,478.4L353.8,478.0L351.0,478.0L351.1,478.2L352.9,478.8ZM364.5,520.1L364.1,520.1L363.8,520.2L363.4,520.5L363.3,520.8L363.4,522.2L363.7,522.6L364.2,522.7L365.2,522.4L365.5,522.0L365.5,521.5L364.8,520.4ZM348.7,512.5L346.2,510.3L345.6,510.2L345.6,510.2L345.2,510.5L344.6,511.5L344.7,512.1L345.9,513.8L346.5,514.1L348.3,513.9L348.7,513.7L348.8,513.3L348.9,513.0ZM354.6,521.0L354.3,521.4L354.3,522.5L354.5,522.9L355.0,523.1L355.5,523.0L355.8,522.8L356.0,522.4L355.9,521.5L355.7,521.1L355.4,520.9L355.0,520.8ZM318.1,511.7L318.1,511.2L317.2,509.3L317.0,509.0L316.6,508.9L314.9,509.0L314.6,509.2L314.4,509.5L314.0,510.7L314.2,511.3L315.3,512.3L315.7,512.5L316.9,512.5L317.2,512.4L317.8,512.0ZM357.9,510.2L358.2,510.6L359.6,511.8L360.2,511.8L361.2,511.3L361.5,511.1L361.6,510.7L361.3,508.4L361.1,508.1L360.7,507.9L360.3,508.0L358.2,509.7ZM329.4,498.5L330.0,498.7L332.1,498.4L332.5,498.2L332.7,497.9L332.9,496.4L332.7,495.9L332.2,495.7L330.2,495.8L329.9,495.9L329.7,496.3L329.3,498.0ZM353.4,495.2L353.8,495.3L354.9,495.2L355.2,495.0L355.4,494.7L355.5,494.3L355.5,493.9L355.2,493.6L354.0,493.1L353.4,493.2L353.1,493.4L352.9,493.7L352.9,494.1L353.1,494.8ZM317.1,489.5L316.7,489.7L316.7,490.1L316.8,490.8L317.2,491.3L317.5,491.4L318.0,491.3L318.3,491.0L318.4,490.4L318.4,489.9L318.0,489.6L317.5,489.4ZM337.4,501.5L337.0,501.2L336.6,501.3L336.3,501.6L336.1,502.0L336.1,502.5L336.3,502.8L336.8,502.9L336.8,502.9L337.2,502.7L337.3,502.4L337.4,502.0ZM318.0,518.6L318.4,518.5L319.4,517.9L319.6,517.6L319.6,517.2L319.4,516.7L319.2,516.5L318.9,516.4L317.8,516.4L317.4,516.6L317.1,516.8L316.9,517.2L317.1,517.6L317.6,518.3ZM372.3,510.8L372.0,511.1L371.7,511.6L371.7,512.0L371.8,512.3L372.4,512.9L372.4,510.8ZM357.4,503.0L356.9,503.3L356.6,503.6L356.3,504.6L356.4,505.1L356.5,505.2L357.0,505.5L358.8,505.4L359.2,505.3L359.4,504.9L359.3,504.5L358.4,503.2L358.0,502.9L357.8,502.9ZM324.9,480.2L324.6,480.1L324.1,480.3L323.8,480.6L323.6,481.0L323.5,482.6L323.8,483.2L324.8,483.8L325.3,483.8L325.7,483.6L325.9,483.1L326.0,482.6L325.3,480.6ZM318.2,521.6L318.6,521.8L320.4,521.7L320.8,521.5L321.3,520.8L321.4,520.3L320.9,518.6L320.6,518.2L320.5,518.2L320.0,518.2L318.3,519.2L318.0,519.7L318.0,521.2ZM312.5,504.1L312.5,504.4L313.3,505.9L313.7,506.2L314.1,506.1L316.1,505.0L316.4,504.6L316.3,504.2L316.0,503.7L315.6,503.4L313.6,503.1L313.1,503.3L312.7,503.7ZM322.9,493.8L322.9,494.2L323.2,494.5L324.8,495.4L325.3,495.5L325.6,495.2L326.0,494.7L326.1,494.3L325.9,493.9L324.8,493.0L324.5,492.8L324.1,492.9L323.2,493.5ZM338.6,503.4L339.2,503.8L339.5,503.9L339.9,503.8L340.2,503.6L340.4,503.2L340.5,502.1L340.2,501.5L339.6,501.1L339.0,501.0L338.7,501.4L338.4,502.7ZM334.9,522.2L334.1,522.8L333.9,523.3L333.9,524.2L334.0,524.6L334.4,524.8L335.5,525.1L336.0,524.9L336.4,524.5L336.6,524.0L336.2,522.7L335.8,522.3L335.5,522.2ZM349.5,519.5L349.5,519.9L349.8,520.4L350.3,520.8L351.0,520.9L352.0,520.3L352.3,519.9L352.1,519.4L351.5,518.6L351.2,518.4L350.8,518.5L349.8,518.9ZM310.2,504.0L310.1,503.6L309.4,502.7L309.0,502.4L308.9,502.4L308.9,505.8L310.1,504.3ZM311.6,497.1L311.2,497.4L310.5,498.3L310.3,498.7L310.4,499.0L310.7,499.4L311.1,499.6L312.5,499.8L313.0,499.5L313.2,499.3L313.3,498.9L313.2,498.5L312.1,497.3ZM365.5,491.2L365.2,491.5L365.1,491.9L365.1,492.4L365.5,492.7L367.0,492.9L367.4,492.9L367.7,492.5L367.7,492.1L367.4,491.8L366.0,491.2ZM367.0,503.8L367.4,504.0L369.5,504.3L370.1,504.0L370.8,502.9L370.9,502.3L370.7,501.7L370.4,501.4L370.0,501.3L367.7,501.5L367.4,501.7L367.2,502.0L366.9,503.3ZM352.9,525.5L353.0,525.1L353.0,524.9L352.5,524.5L351.6,524.2L351.0,524.2L350.8,524.7L350.8,525.5L352.9,525.5ZM312.6,488.5L312.9,488.9L313.3,488.9L315.0,488.6L315.4,488.3L315.5,487.7L315.1,487.4L313.7,486.9L313.3,487.0L313.0,487.3L312.6,488.1ZM347.3,522.0L347.5,522.6L348.2,523.3L348.7,523.4L349.7,523.3L350.1,523.1L350.2,522.7L350.2,521.9L350.0,521.5L349.5,521.1L348.9,521.0L347.7,521.6ZM323.9,504.4L324.8,505.9L325.3,506.2L325.4,506.1L325.9,505.8L326.8,503.7L326.7,503.1L326.2,502.6L325.6,502.4L324.6,502.7L324.3,503.0L323.9,503.8ZM319.0,492.5L319.2,492.9L319.7,493.2L320.6,493.3L321.0,493.2L321.2,492.7L321.4,490.7L321.3,490.3L320.9,490.0L320.2,489.9L319.8,489.9L319.5,490.3L319.0,492.1ZM352.1,516.2L354.2,516.4L354.7,516.3L355.3,515.8L355.5,515.4L355.5,515.1L355.1,514.2L354.7,513.9L353.8,513.5L353.1,513.6L351.6,515.0L351.4,515.4L351.5,515.8L351.6,516.0ZM345.8,517.1L346.3,517.3L347.5,517.4L348.0,517.0L349.0,515.3L349.1,514.9L348.8,514.5L348.4,514.4L346.6,514.7L346.1,515.1L345.7,516.6ZM317.2,505.0L317.1,505.4L317.4,507.4L317.7,507.8L318.2,507.8L319.9,507.3L320.3,507.1L320.4,506.7L320.1,505.0L319.9,504.6L319.5,504.5L317.6,504.7ZM330.5,507.9L330.2,508.2L330.1,508.6L330.3,509.0L330.5,509.4L330.9,509.5L331.2,509.3L331.5,509.0L331.7,508.7L331.6,508.3L331.3,508.0L330.9,507.9ZM359.6,496.7L360.0,497.0L361.1,497.2L361.5,497.2L361.8,496.9L362.7,494.9L362.7,494.5L362.3,494.1L361.3,493.7L360.7,493.8L360.1,494.2L359.8,494.6L359.5,496.3ZM331.3,521.8L330.9,522.3L330.5,524.2L330.5,524.6L331.1,525.5L332.4,525.5L333.1,525.0L333.3,524.5L333.3,523.2L333.1,522.7L331.8,521.9ZM337.1,486.0L338.4,484.4L338.5,483.9L338.2,483.5L335.9,482.2L335.4,482.2L335.1,482.4L335.0,482.5L334.9,483.0L335.5,485.7L335.9,486.1L336.4,486.3ZM309.2,480.4L309.6,480.6L310.1,480.4L310.6,479.8L310.7,479.2L310.3,478.0L308.9,478.0L308.9,480.1ZM321.7,514.3L322.0,514.8L322.6,515.2L323.1,515.4L323.5,515.1L324.0,514.3L324.0,513.7L323.9,513.6L323.5,513.3L323.2,513.2L322.7,513.3L322.0,513.8ZM337.0,491.7L337.0,491.4L336.8,491.1L336.5,490.9L333.9,490.4L333.5,490.4L333.2,490.7L332.7,492.1L332.7,492.6L333.3,493.8L333.7,494.1L334.2,494.0L336.8,492.3ZM369.9,483.5L370.3,483.8L372.1,484.0L372.4,484.0L372.4,480.8L371.2,480.3L370.7,480.3L370.4,480.7L369.8,483.1ZM330.2,481.6L330.2,481.9L330.5,482.6L330.8,482.9L332.0,483.4L332.5,483.4L334.3,482.5L334.5,482.3L334.9,481.8L335.0,481.4L334.9,481.2L334.6,480.8L332.4,479.9L331.8,480.0L330.4,481.2ZM354.8,488.7L355.0,487.9L354.9,487.5L354.6,487.3L354.2,487.3L353.9,487.4L353.5,487.9L353.4,488.5L353.6,489.1L353.7,489.2L354.3,489.3L354.4,489.2ZM320.8,517.7L321.3,517.6L322.2,516.9L322.4,516.4L322.2,516.0L321.2,515.2L320.7,515.1L320.3,515.3L320.0,515.8L320.0,516.4L320.4,517.3ZM333.7,495.8L333.3,496.2L333.1,498.2L333.2,498.7L333.3,498.8L333.7,499.0L335.4,499.0L335.8,498.9L336.0,498.6L336.4,497.4L336.4,497.0L336.1,496.7L334.2,495.8ZM362.6,502.2L363.0,501.9L364.2,500.3L364.3,499.8L364.0,499.4L362.7,498.7L362.2,498.7L361.8,499.0L361.3,500.7L361.5,501.2L362.1,502.0ZM310.8,521.4L310.7,521.8L310.9,522.1L311.9,523.1L312.4,523.3L312.8,523.1L313.9,522.0L314.1,521.6L314.0,521.2L313.7,520.7L313.4,520.5L313.0,520.5L311.1,521.1ZM331.2,520.2L331.7,520.1L332.7,519.3L332.9,519.0L332.9,518.6L332.4,517.6L332.0,517.2L331.5,517.3L330.5,518.0L330.3,518.3L330.3,518.7L330.8,519.8ZM347.8,504.6L347.5,504.8L347.4,505.1L347.3,507.9L347.5,508.3L347.9,508.5L349.1,508.4L349.7,508.0L350.4,506.3L350.4,505.8L350.1,505.5L348.2,504.6ZM325.5,511.4L324.8,512.6L324.8,513.3L324.9,513.4L325.3,513.7L326.0,513.8L326.5,513.7L327.1,513.2L327.3,512.8L327.4,512.1L327.1,511.6L326.6,511.2L326.2,511.1L326.0,511.1ZM345.0,487.4L344.5,488.5L344.5,489.0L344.9,489.3L345.6,489.6L346.2,489.5L346.9,489.0L347.1,488.6L347.1,488.2L346.5,487.3L346.0,487.0L345.5,487.0ZM368.8,491.4L369.1,491.7L369.5,491.8L371.4,491.5L371.8,491.3L371.9,490.9L371.9,489.5L371.8,489.1L371.5,488.9L370.4,488.7L370.0,488.7L369.8,489.0L368.9,490.9ZM343.2,498.6L343.5,498.4L343.9,498.0L344.0,497.5L343.9,496.9L343.7,496.6L343.4,496.4L342.8,496.2L342.4,496.3L342.1,496.5L341.7,497.2L341.6,497.6L341.9,498.0L342.7,498.5ZM338.9,524.9L338.4,524.6L337.4,524.6L336.9,524.8L336.4,525.3L336.4,525.5L339.3,525.5ZM352.3,495.6L351.9,494.1L351.5,493.7L350.8,493.5L350.4,493.6L350.1,494.0L349.7,495.6L349.8,496.1L350.4,496.9L350.7,497.1L351.0,497.1L351.7,496.9L352.1,496.6L352.3,496.0ZM359.9,524.8L360.0,524.4L359.8,524.1L359.8,524.1L359.2,524.0L358.3,524.2L358.0,524.5L357.9,524.8L357.8,525.5L359.6,525.5ZM365.7,480.4L365.3,480.2L364.0,479.9L363.4,480.2L363.0,480.8L362.9,481.2L363.1,481.6L364.1,482.4L364.5,482.5L364.9,482.4L365.5,481.9L365.7,481.5L365.8,480.8ZM365.3,510.1L365.0,510.4L364.2,511.7L364.2,512.3L364.3,512.5L364.6,512.8L365.0,512.7L367.3,511.8L367.6,511.5L367.7,511.2L367.7,511.1L367.2,510.6L365.7,510.1ZM318.2,483.6L318.7,483.7L319.6,483.4L320.0,483.2L320.0,482.7L319.8,481.8L319.4,481.4L318.9,481.4L318.3,481.7L318.0,482.3L318.0,483.1ZM326.1,480.3L326.0,480.7L326.5,481.8L326.8,482.2L327.2,482.2L328.7,481.8L329.0,481.5L329.1,481.1L328.9,480.8L327.8,479.6L327.5,479.5L327.1,479.5L326.3,479.9ZM340.4,483.8L340.1,484.2L340.2,484.7L341.0,485.9L341.4,486.2L341.8,486.1L342.7,485.6L343.0,485.2L343.0,484.8L342.6,484.5L340.9,483.8ZM340.4,512.4L340.2,512.6L339.6,513.5L339.6,514.1L340.4,515.6L340.7,515.9L341.2,515.8L341.5,515.4L341.9,513.3L341.9,512.8L341.5,512.6L340.8,512.4ZM329.4,485.9L329.6,486.2L329.7,486.4L330.2,486.6L331.8,486.6L332.2,486.4L332.4,485.9L332.0,484.3L331.7,483.9L331.1,483.7L330.6,483.7L330.3,483.9L329.5,485.5ZM316.7,485.9L317.1,486.2L317.6,486.1L317.6,486.0L317.9,485.5L317.9,485.3L317.7,484.9L317.3,484.8L316.9,484.9L316.7,485.3L316.6,485.5ZM358.8,499.4L359.0,499.7L359.9,500.4L360.5,500.6L360.9,500.2L361.3,498.8L361.2,498.3L360.8,498.0L359.9,497.8L359.5,497.9L359.2,498.2L358.9,499.0ZM353.8,509.1L353.9,509.3L354.3,509.5L355.9,509.8L356.4,509.8L356.6,509.4L356.6,509.0L356.2,508.0L355.9,507.7L355.4,507.7L354.1,508.1L353.7,508.6L353.7,508.7ZM365.1,507.7L366.0,507.2L366.3,506.7L366.2,505.1L366.0,504.7L365.6,504.5L365.0,504.5L364.6,504.6L364.4,504.9L363.8,506.7L363.8,507.1L364.1,507.4L364.6,507.7ZM365.3,508.5L365.3,508.9L365.3,509.1L365.7,509.6L367.2,510.0L367.6,510.0L367.9,509.7L368.2,509.1L368.3,508.6L368.0,508.3L367.0,507.8L366.4,507.8L365.6,508.2ZM350.4,488.8L350.9,488.9L351.7,488.8L352.0,488.6L352.1,488.2L352.2,487.5L352.0,487.0L351.8,486.8L351.4,486.6L351.1,486.7L350.6,487.0L350.3,487.4L350.2,488.3ZM358.2,491.4L357.9,491.8L357.8,492.1L357.9,492.6L358.2,492.8L359.0,493.0L359.5,493.0L359.5,493.0L359.7,492.7L359.8,492.3L359.6,491.9L359.2,491.5L358.6,491.3ZM332.1,491.7L332.5,490.9L332.4,490.4L332.0,490.1L330.7,490.0L330.3,490.1L330.0,490.5L329.9,491.4L330.0,491.9L330.5,492.1L331.6,492.1ZM334.9,518.8L335.8,518.1L336.0,517.8L336.0,517.4L335.4,516.3L335.0,515.9L334.6,516.0L333.4,516.6L333.1,517.0L333.2,517.4L333.6,518.5L334.1,518.9L334.4,518.9ZM308.9,488.9L308.9,491.0L309.1,490.9L309.9,490.2L310.0,489.6L309.7,489.2L309.2,489.0ZM338.3,521.2L337.9,521.3L337.0,522.0L336.8,522.3L336.8,522.7L337.1,523.7L337.3,524.0L337.6,524.2L338.3,524.2L338.8,523.8L339.4,522.8L339.5,522.4L339.3,522.1L338.7,521.4ZM349.7,482.4L349.5,482.9L349.8,483.3L351.1,484.0L351.5,484.1L351.8,483.9L352.5,483.2L352.6,482.8L352.4,482.4L352.0,482.2L350.1,482.2ZM351.1,510.1L351.0,510.4L351.0,510.8L351.3,511.3L352.2,511.6L352.6,511.6L353.0,511.3L353.3,510.3L353.3,509.9L353.0,509.5L352.6,509.5L351.4,509.8ZM365.7,516.1L365.5,516.5L365.5,518.1L365.7,518.5L366.0,518.7L367.5,518.8L368.1,518.5L368.3,518.1L368.4,517.7L368.2,517.3L366.5,516.0L366.1,515.9L366.1,515.9ZM340.9,517.4L341.1,517.9L342.5,519.6L342.9,519.8L343.2,519.7L344.7,518.9L345.0,518.6L345.2,517.9L345.2,517.5L344.8,517.2L342.3,516.6L341.8,516.6L341.2,517.0ZM371.8,525.3L370.8,524.3L370.2,524.2L370.0,524.2L369.7,524.7L369.6,525.5L371.9,525.5ZM357.4,499.4L357.7,499.3L358.0,499.0L358.4,498.1L358.4,497.6L357.9,497.3L357.1,497.2L356.8,497.3L356.5,497.6L356.2,498.5L356.2,498.9L356.5,499.3L356.9,499.4ZM315.8,480.3L316.0,479.3L315.8,478.7L315.0,478.1L314.8,478.0L314.4,478.0L314.1,478.2L313.5,479.0L313.4,479.4L313.6,479.8L314.4,480.7L315.0,480.9L315.4,480.7ZM313.9,516.3L314.1,516.7L314.5,516.8L315.9,516.9L316.4,516.7L316.9,516.2L317.1,515.7L316.9,513.5L316.7,513.1L316.3,512.9L315.9,512.9L315.4,513.3L314.0,515.9ZM366.9,496.8L367.2,497.2L367.5,497.3L368.2,497.3L368.7,497.1L369.4,496.2L369.5,495.7L369.3,495.4L368.8,494.9L368.3,494.8L367.9,495.0L367.0,496.4ZM339.3,510.1L339.6,509.9L339.8,509.5L339.9,508.4L339.6,507.9L339.5,507.8L339.0,507.8L338.6,508.0L338.2,508.4L338.1,509.1L338.4,509.7L338.9,510.0ZM320.9,507.7L320.7,508.2L320.8,509.7L321.0,510.1L321.3,510.3L321.6,510.3L322.1,510.2L323.3,509.2L323.5,508.7L323.5,508.5L323.3,508.1L323.0,507.9L321.5,507.6ZM327.6,516.3L328.1,516.4L328.4,516.0L328.9,515.1L328.9,514.7L328.6,514.3L328.1,514.0L327.8,514.0L327.4,514.1L327.2,514.3L327.0,514.9L327.3,515.9ZM351.8,518.1L352.7,519.2L353.1,519.5L353.6,519.4L353.8,519.0L354.1,517.6L354.0,517.1L353.5,516.9L352.4,516.8L352.0,516.9L351.8,517.3L351.7,517.6Z"/>
<g fill="#f4f0f4" opacity="0.95"><path d="M343.5,487 C345.5,490 347,500 346.5,510 C346,515 345.5,519 344.5,521 C343.5,518 343,512 343,505 C343,498 342.8,492 343.5,487 Z"/><path d="M319,512.5 C324,510.8 332,511.2 337.5,513.6 C332,515.6 324,515.2 319,512.5 Z"/><path d="M312,478.5 C316,478.5 318.5,481 318.2,484 C317.5,487 314,487.5 312,485.5 C310.8,483.5 310.8,480.5 312,478.5 Z"/><path d="M362,478 L372.4,478 L372.4,487 C368,485 364,481.5 362,478 Z" fill="#e8e6ea"/></g>
<rect x="376.9" y="478" width="63.5" height="47.5" filter="url(#fKidney)"/>
<rect x="105" y="528.2" width="63.5" height="47.5" filter="url(#fHeart)"/>
<g transform="translate(105,528.2)" fill="#f6f2f5">
<path d="M13.4,0 L19.8,0 C20,4 20.4,8 20.4,11.5 C18.4,8 15.4,4 13.4,0 Z" fill="#eeeeef"/>
<path d="M40.8,0 L47.2,0 C47.2,5 47.8,10 48.6,15.8 C45.6,11.5 42.4,6 40.8,0 Z" fill="#eeeeef"/>
<path d="M0,6 L2.6,6 L2,17.5 L0,18.5 Z"/>
<path d="M49,16 C50,17.5 51,18.5 52.5,19 C51,19.5 50,19 49,16 Z" opacity="0.7"/>
</g>
<rect x="173" y="528.2" width="63.5" height="47.5" filter="url(#fLiver)"/>
<circle cx="202.8" cy="548.9" r="1.6" fill="#f6eef4" filter="url(#fBlur06)"/>
<clipPath id="clipSp1"><rect x="240.9" y="528.2" width="63.5" height="47.5"/></clipPath>
<rect x="240.9" y="528.2" width="63.5" height="47.5" filter="url(#fSpleen2)"/>
<g clip-path="url(#clipSp1)"><g filter="url(#fSoft)">
<g fill="#4a3296" opacity="0.7"><circle cx="274" cy="554" r="15"/><ellipse cx="287" cy="536" rx="17" ry="8"/></g>
<g fill="none" stroke="#c8509c" stroke-width="2.0" opacity="0.65"><path d="M257,548 C260,538 269,534 281,534 C292,534 300,541 304,546"/><path d="M251,530 C255,545 255,560 259,576"/><path d="M241,540 C246,550 248,560 246,576"/></g>
</g></g>
<rect x="308.9" y="528.2" width="63.5" height="47.5" fill="#b64f9c"/>
<path fill="#f4eef4" d="M339.1,562.9L339.4,562.6L340.8,560.0L340.8,559.5L340.5,559.2L339.8,558.8L339.1,558.8L337.7,559.8L337.5,560.3L337.5,562.0L337.8,562.6L338.7,562.9ZM326.2,568.6L326.0,568.4L324.1,567.7L323.7,567.7L323.7,567.7L323.3,568.1L322.8,569.9L322.8,570.4L323.1,570.8L323.5,571.0L323.8,571.0L325.9,570.3L326.3,569.8L326.3,569.0ZM348.8,556.8L349.2,555.1L349.1,554.5L348.1,553.5L347.6,553.3L346.8,553.4L346.3,553.8L345.7,555.4L345.7,555.8L345.9,556.1L347.3,557.3L347.9,557.4L348.4,557.2ZM314.0,550.2L314.3,550.6L314.7,550.6L315.8,550.2L316.2,549.8L316.5,548.4L316.2,547.8L315.7,547.4L315.2,547.3L314.8,547.7L314.0,549.8ZM368.0,529.6L368.4,529.7L370.6,529.9L371.0,529.7L371.2,529.3L371.3,528.2L367.7,528.2L367.8,529.2ZM312.2,561.1L310.6,560.1L309.9,560.1L308.9,560.7L308.9,563.4L309.3,564.1L309.7,564.3L310.2,564.2L312.2,562.8L312.4,562.3L312.5,561.6ZM331.6,570.8L331.8,571.1L332.9,571.9L333.5,572.0L334.8,571.4L335.1,571.1L335.1,570.6L334.8,570.3L332.8,569.6L332.4,569.6L332.1,569.7L331.7,570.1L331.6,570.4ZM311.0,575.6L311.1,575.1L311.1,574.7L310.7,574.4L308.9,573.9L308.9,575.7L311.0,575.7ZM314.2,546.8L313.9,546.4L313.5,546.4L312.3,546.7L312.0,546.9L311.9,547.3L311.8,548.2L312.0,548.7L312.5,549.2L313.1,549.4L313.5,549.0L314.2,547.2ZM361.3,545.4L361.3,545.8L362.5,548.6L362.9,548.9L363.3,548.8L364.9,548.0L365.2,547.7L365.2,547.6L365.2,547.1L363.9,544.6L363.6,544.3L363.1,544.3L361.6,545.0ZM348.0,552.4L349.5,550.5L349.6,550.1L349.4,549.7L349.1,549.3L348.6,549.2L346.4,549.1L346.0,549.2L345.8,549.5L345.3,550.9L345.4,551.5L346.1,552.5L346.6,552.7L347.6,552.6ZM329.3,563.6L329.5,563.9L330.4,564.5L331.0,564.5L331.3,564.4L331.6,564.1L332.7,562.0L332.8,561.5L332.7,561.3L332.5,561.0L332.3,560.8L331.9,560.7L330.6,560.6L330.2,560.6L330.0,561.0L329.3,563.2ZM314.8,537.1L314.8,536.7L314.5,536.4L313.2,535.7L312.6,535.7L311.7,536.2L311.4,536.6L311.1,538.1L311.2,538.5L311.5,538.8L311.7,538.8L312.2,538.8L314.6,537.4ZM341.3,567.5L340.3,568.1L340.0,568.5L339.7,569.4L339.7,570.0L340.0,570.3L340.6,570.6L342.8,570.4L343.2,570.2L343.3,569.8L343.4,568.4L343.3,568.0L342.9,567.8L341.7,567.5ZM343.7,537.9L343.9,537.5L344.1,535.9L343.8,535.4L342.8,534.7L342.3,534.6L342.0,534.8L340.7,536.6L340.6,537.0L340.7,537.3L341.0,537.7L341.4,538.0L343.3,538.0ZM330.9,565.8L330.7,567.4L330.8,567.8L331.4,568.8L331.7,569.0L332.1,569.1L332.2,569.0L332.5,568.8L333.9,567.1L334.1,566.6L333.8,566.2L332.1,565.2L331.6,565.1L331.2,565.3ZM350.6,528.9L351.0,529.0L351.3,528.8L351.9,528.3L352.0,528.2L349.7,528.2ZM318.6,540.8L319.1,541.0L320.9,540.8L321.3,540.5L321.4,540.1L321.1,538.8L320.7,538.4L320.7,538.4L320.4,538.3L319.3,538.5L318.8,538.9L318.5,540.2ZM318.6,575.7L318.5,574.9L318.3,574.5L318.0,574.3L316.4,574.2L315.9,574.4L315.7,574.7L315.6,575.2L315.7,575.7L318.6,575.7ZM317.3,567.2L318.6,567.5L319.2,567.3L320.4,565.9L320.6,565.4L320.5,565.0L320.4,564.6L320.0,564.4L317.2,564.2L316.7,564.4L316.3,564.9L316.2,565.5L316.9,566.9ZM327.7,537.0L327.8,537.5L329.0,539.2L329.6,539.4L330.5,539.2L330.8,539.0L331.0,538.7L331.1,537.2L330.8,536.7L329.7,536.0L329.1,536.0L328.0,536.6ZM309.6,559.6L309.9,559.1L309.9,558.5L309.8,558.2L308.9,557.0L308.9,560.1ZM349.9,538.2L350.8,538.6L351.1,538.7L351.5,538.5L352.1,537.8L352.3,537.2L352.2,536.8L352.0,536.4L351.3,535.9L350.7,535.8L349.9,536.2L349.6,536.4L349.5,536.7L349.6,537.7ZM372.3,572.2L371.2,572.9L370.9,573.2L370.9,573.6L371.4,575.7L372.4,575.7L372.4,572.2ZM323.4,573.8L323.8,574.0L326.5,574.3L327.0,574.2L327.2,573.7L327.2,571.5L327.0,571.1L326.8,570.9L326.2,570.8L323.9,571.6L323.5,572.1L323.3,573.3ZM353.9,536.5L354.0,537.0L354.3,537.2L355.0,537.4L355.4,537.4L355.7,537.1L356.3,536.2L356.5,535.9L356.4,535.5L356.2,535.2L355.7,534.9L355.2,535.1L354.1,536.2ZM321.4,561.2L321.3,561.6L321.4,562.7L321.6,563.1L322.0,563.3L323.3,563.3L323.8,563.0L324.3,562.1L324.4,561.6L324.0,561.3L322.9,560.8L322.5,560.8L321.8,560.9ZM312.2,574.1L312.7,574.4L314.9,574.5L315.4,574.3L315.5,574.2L315.6,573.6L315.3,572.4L315.0,572.1L314.6,572.0L312.9,572.4L312.4,572.8L312.1,573.6ZM320.8,546.3L320.5,546.6L320.5,546.7L320.4,547.1L320.9,549.1L321.1,549.4L321.7,549.9L322.1,550.0L322.5,549.8L323.7,548.4L323.8,547.9L323.5,547.5L321.3,546.4ZM342.7,559.2L342.9,559.5L343.9,560.5L344.6,560.7L346.4,559.9L346.8,559.5L347.0,558.4L346.8,557.8L345.3,556.6L344.7,556.5L344.3,556.6L343.9,556.9L342.8,558.8ZM346.5,573.1L346.2,573.3L346.1,573.7L346.2,575.1L346.4,575.5L346.6,575.7L347.8,575.7L347.8,575.7L348.0,575.3L348.1,574.0L348.0,573.6L347.7,573.4L346.9,573.1ZM346.5,545.1L348.3,544.5L348.6,544.2L348.7,543.8L348.7,543.7L348.5,543.4L347.3,542.4L346.9,542.2L345.5,542.2L345.1,542.4L344.9,542.7L344.8,543.4L345.0,543.9L345.9,544.9ZM358.2,557.6L359.0,555.1L359.0,554.6L358.6,554.3L357.1,553.8L356.7,553.8L356.4,554.2L355.7,556.0L355.8,556.6L356.9,557.9L357.1,558.1L357.5,558.1L357.8,558.0ZM354.1,575.5L354.5,575.7L355.5,575.7L355.8,575.6L356.7,574.6L356.8,574.3L356.8,573.9L356.5,573.4L356.1,573.1L355.6,573.2L354.2,574.1L353.9,574.6L353.9,575.1ZM367.6,573.1L367.4,574.3L367.5,574.8L368.1,575.7L370.9,575.7L370.3,573.5L370.0,573.1L368.7,572.5L368.3,572.5L368.0,572.6ZM332.2,542.6L332.3,540.9L332.1,540.4L331.3,539.8L330.8,539.7L329.5,539.9L329.2,540.2L328.4,541.1L328.3,541.7L328.8,543.2L329.0,543.5L329.2,543.6L329.6,543.7L331.3,543.6L331.6,543.4L332.1,543.0ZM313.8,551.5L313.3,551.6L312.1,552.6L311.9,553.0L311.9,553.2L312.0,553.7L313.4,555.2L314.0,555.4L314.9,555.2L315.2,554.9L315.2,554.4L314.2,551.9ZM334.1,539.1L334.3,536.3L334.2,535.9L333.8,535.6L333.4,535.7L331.7,536.7L331.4,537.2L331.3,538.9L331.6,539.4L332.3,540.0L333.0,540.1L333.8,539.6ZM310.7,539.4L310.4,539.7L309.4,541.5L309.3,541.9L309.5,542.3L310.4,543.0L310.9,543.1L312.9,542.6L313.3,542.3L313.2,541.7L311.8,539.8L311.6,539.6L311.1,539.4ZM359.5,563.3L360.6,562.7L360.9,562.3L361.5,560.0L361.4,559.6L361.1,559.3L358.5,558.5L358.2,558.5L357.5,558.7L357.1,559.1L356.8,559.8L356.8,560.3L358.0,562.6L358.3,562.8L358.9,563.2ZM334.9,535.4L336.8,535.8L337.3,535.8L337.5,535.4L338.0,533.4L337.9,532.9L337.4,532.7L334.9,532.7L334.4,532.9L334.3,533.1L334.2,533.5L334.3,534.7L334.5,535.1L334.6,535.2ZM325.6,537.3L326.1,537.0L326.4,536.7L326.4,536.3L325.9,534.3L325.7,533.9L325.3,533.8L324.9,533.9L323.7,534.9L323.4,535.5L323.6,536.4L324.0,536.9L325.1,537.3ZM319.1,574.1L318.9,574.5L319.0,575.7L322.7,575.7L323.0,574.6L322.8,574.1L322.4,573.9L319.6,573.9ZM348.6,569.8L348.1,570.0L347.5,570.9L347.4,571.4L347.7,571.8L348.4,572.1L349.0,572.1L349.5,571.7L349.8,571.3L349.7,570.8L349.1,570.0ZM336.5,570.2L336.3,570.4L336.1,570.7L336.1,571.1L336.1,571.4L337.0,573.3L337.5,573.7L337.8,573.7L338.2,573.5L339.3,572.6L339.5,572.3L339.7,571.3L339.6,570.9L339.2,570.3L338.7,570.0L336.9,570.0ZM319.7,554.2L319.8,554.6L320.2,555.4L320.5,555.6L320.9,555.6L321.9,555.4L322.3,555.0L322.9,553.7L322.9,553.4L322.8,553.1L322.5,552.8L322.1,552.6L321.8,552.7L320.0,553.8ZM338.9,543.9L338.9,544.3L339.2,544.9L339.7,545.3L341.3,545.5L341.6,545.4L341.9,545.1L341.9,545.0L341.9,544.5L340.9,543.0L340.5,542.7L340.0,542.8L339.1,543.6ZM327.2,575.5L327.0,575.1L326.6,574.9L324.1,574.6L323.7,574.7L323.5,575.1L323.3,575.7L327.2,575.7ZM326.5,529.3L326.2,529.7L325.7,531.8L325.8,532.1L325.8,532.3L326.3,532.6L329.0,532.7L329.5,532.5L329.6,532.1L329.6,530.6L329.2,530.1L327.0,529.3ZM365.7,559.8L367.5,558.5L367.8,558.0L367.7,557.4L367.4,556.8L366.1,556.3L365.5,556.3L363.2,557.5L362.9,557.8L362.7,558.4L362.8,558.9L363.1,559.2L365.2,559.9ZM333.5,559.1L333.8,559.4L334.3,559.3L334.8,559.0L335.1,558.4L335.0,557.5L334.8,557.2L334.5,557.0L334.4,557.0L334.0,557.1L333.7,557.4L333.4,558.7ZM335.0,546.5L335.2,546.1L335.3,544.4L335.2,544.0L334.9,543.8L332.9,543.2L332.3,543.4L332.1,543.6L332.0,544.3L332.7,546.4L332.9,546.7L333.3,546.8L334.7,546.7ZM343.6,528.9L343.6,528.2L340.8,528.2L340.9,528.4L342.5,529.5L343.1,529.5L343.3,529.4ZM365.9,568.5L365.8,568.8L365.7,570.8L366.0,571.3L367.3,572.0L367.7,572.1L367.9,572.0L368.3,571.6L369.0,569.4L368.9,568.9L368.4,568.2L368.1,568.0L367.8,567.9L366.3,568.3ZM347.5,531.3L347.9,531.3L349.8,530.9L350.2,530.4L350.2,530.3L350.0,529.8L348.5,528.6L348.1,528.5L347.7,528.7L346.8,529.6L346.6,529.9L346.7,530.3L347.2,531.1ZM341.5,550.8L341.9,551.0L344.2,550.9L344.7,550.5L345.2,549.1L345.2,548.6L345.1,548.4L344.7,548.1L343.0,547.7L342.7,547.7L342.4,548.0L341.4,549.5L341.3,549.8L341.3,550.4ZM352.8,568.8L352.7,568.4L351.9,567.2L351.5,567.0L350.8,566.8L350.4,566.8L350.3,566.9L350.1,567.1L349.6,567.9L349.7,568.5L350.7,569.9L351.1,570.2L351.6,570.0L352.6,569.2ZM367.2,530.2L366.8,529.9L363.8,529.6L363.3,529.8L363.1,530.0L362.9,530.6L363.5,532.6L363.8,533.0L364.2,533.1L366.5,532.6L366.9,532.2L367.3,530.7ZM311.8,530.7L312.2,531.2L312.4,531.3L312.8,531.2L313.1,530.9L313.9,529.4L313.8,528.8L313.4,528.2L311.3,528.2ZM356.2,559.5L356.4,559.0L356.3,558.3L355.3,557.0L354.8,556.8L353.7,556.7L353.2,556.9L352.1,558.2L352.0,558.8L352.0,558.9L352.3,559.2L353.9,560.2L354.4,560.3L355.8,559.8ZM334.0,555.4L334.4,555.8L334.9,555.8L335.5,555.6L336.2,554.5L336.3,554.1L336.2,553.8L335.9,553.3L335.4,553.1L334.9,553.4L334.0,554.9ZM372.2,546.5L372.4,546.4L372.4,543.6L371.9,542.9L371.5,542.7L371.1,542.7L369.6,543.6L369.3,544.2L369.4,545.0L369.6,545.3L370.3,546.1L370.6,546.2L371.9,546.5ZM369.0,558.2L370.7,559.6L371.1,559.7L371.5,559.5L372.4,558.6L372.4,557.2L372.2,556.9L371.7,556.7L369.5,556.6L369.0,556.8L368.9,556.9L368.8,557.3L368.8,557.8ZM356.6,571.4L357.1,571.3L358.1,570.5L358.3,569.9L358.1,568.6L357.9,568.3L357.5,568.1L357.0,568.2L356.7,568.3L355.9,569.0L355.7,569.3L355.7,569.7L356.2,571.0ZM356.8,538.5L357.2,538.9L358.1,539.1L358.5,539.1L358.8,538.9L359.5,537.8L359.6,537.3L359.6,537.2L359.4,536.9L359.1,536.8L358.2,536.6L357.7,536.9L356.8,538.0ZM312.5,563.3L312.1,563.4L310.1,564.8L309.9,565.2L309.8,565.3L310.1,565.9L311.8,566.9L312.2,567.0L312.5,566.8L313.9,565.4L314.1,565.0L313.9,564.6L312.9,563.5ZM323.8,542.1L324.0,542.5L325.6,544.2L326.3,544.3L327.8,543.7L328.2,543.4L328.2,543.0L327.9,541.8L327.5,541.4L325.5,540.8L325.0,540.9L324.0,541.6ZM354.2,533.7L354.1,533.3L354.1,533.3L353.6,533.0L352.6,532.9L352.1,533.0L351.9,533.5L351.9,534.1L352.1,534.6L352.4,534.8L352.8,535.0L353.2,534.8L354.0,534.1ZM319.9,560.4L320.1,560.0L320.1,559.6L319.7,558.7L319.4,558.4L318.9,558.4L318.3,558.7L318.1,559.0L318.0,559.4L318.1,559.9L318.3,560.2L318.6,560.4L319.5,560.5ZM335.8,575.6L335.8,575.7L338.9,575.7L338.2,574.4L337.7,574.1L337.3,574.1L336.9,574.3L336.0,575.1ZM349.3,562.2L349.0,562.2L348.7,562.2L348.4,562.5L347.8,563.7L347.7,564.1L347.9,564.5L349.3,565.6L349.7,565.8L350.1,565.6L350.2,565.2L350.4,563.7L350.3,563.3L349.7,562.5ZM370.5,530.4L368.4,530.3L368.1,530.4L367.8,530.7L367.4,532.4L367.4,532.9L367.8,533.6L368.2,533.9L369.8,534.4L370.3,534.3L371.6,533.5L371.8,533.2L371.8,532.8L371.1,530.8ZM336.3,540.3L335.9,540.1L334.5,539.8L334.1,539.9L333.1,540.4L332.8,540.9L332.7,542.3L332.9,542.7L333.2,542.9L335.3,543.5L335.8,543.5L336.2,543.3L336.5,542.7L336.4,540.7ZM334.2,529.2L334.6,528.8L334.9,528.2L332.6,528.2L332.8,528.5L333.7,529.1ZM315.6,570.5L315.4,569.9L315.0,569.4L313.1,568.8L312.7,568.8L312.4,569.0L311.8,570.1L311.8,570.6L312.2,571.6L312.5,571.9L312.9,571.9L314.9,571.5L315.3,571.2L315.5,570.9ZM330.0,535.7L331.0,536.2L331.6,536.2L333.3,535.2L333.6,534.6L333.5,533.9L333.4,533.6L333.1,533.4L330.4,532.9L329.9,533.1L329.7,533.5L329.7,535.1ZM313.9,559.1L313.4,557.6L313.0,557.3L312.5,557.3L310.8,558.2L310.5,558.7L310.5,559.1L310.8,559.6L312.4,560.7L313.0,560.7L313.2,560.5L313.5,560.3L313.8,559.6ZM329.5,547.2L330.0,547.4L331.6,547.3L332.0,547.0L332.1,546.5L331.5,544.7L331.3,544.4L330.9,544.3L330.1,544.4L329.8,544.5L329.6,544.9L329.3,546.7ZM363.9,574.7L364.8,575.1L365.3,575.1L366.5,574.6L366.8,574.1L367.0,573.1L367.0,572.7L366.7,572.5L365.5,571.8L365.0,571.8L364.9,571.8L364.6,572.1L363.7,573.8L363.6,574.3L363.7,574.3ZM313.9,556.5L313.9,557.0L314.3,558.3L314.6,558.6L315.1,558.6L315.7,558.4L316.0,558.1L316.0,557.6L315.4,556.4L315.1,556.1L314.7,556.1L314.3,556.2ZM324.5,554.7L324.1,555.0L323.9,555.4L324.0,556.1L324.2,556.2L324.5,556.4L325.0,556.5L325.5,556.5L325.7,556.1L325.8,555.7L325.8,555.3L325.5,555.1L324.9,554.8ZM341.1,553.8L343.6,555.8L344.2,555.9L344.6,555.8L345.0,555.4L345.7,553.4L345.6,552.9L344.9,551.9L344.4,551.6L341.7,551.7L341.4,551.9L341.2,552.2L340.9,553.2ZM367.1,541.7L367.3,542.1L368.5,543.1L368.8,543.2L369.2,543.1L371.3,541.9L371.6,541.6L371.9,540.8L371.8,540.3L371.2,539.2L370.9,538.9L370.2,538.6L369.7,538.5L369.1,538.7L368.7,538.9L367.2,541.3ZM309.6,531.1L309.9,531.3L310.3,531.3L310.7,531.2L311.0,531.0L311.1,530.5L310.6,528.2L308.9,528.2L308.9,530.2ZM353.5,548.1L353.1,548.2L351.3,549.7L351.1,550.2L351.2,550.6L352.5,551.9L353.1,552.1L355.1,551.5L355.5,551.1L355.7,550.7L355.6,550.1L353.9,548.3ZM338.2,547.6L337.9,547.6L337.2,547.9L336.9,548.4L336.8,549.4L336.9,549.8L337.2,550.0L339.8,550.6L340.4,550.5L340.6,550.1L340.6,550.0L340.4,549.5L338.5,547.7ZM341.5,575.7L341.7,575.2L341.7,574.8L341.4,574.3L340.1,573.4L339.7,573.3L339.4,573.5L339.1,573.7L338.9,574.1L339.0,574.5L339.6,575.6L339.8,575.7L341.4,575.7ZM366.7,540.6L367.1,540.4L368.0,539.1L368.0,538.7L367.8,538.3L366.5,537.2L366.0,537.1L365.4,537.2L364.9,537.6L364.6,538.7L364.6,539.0L364.8,539.3L366.2,540.5ZM366.6,562.7L367.1,562.7L369.7,561.5L370.0,561.2L370.0,560.8L369.8,560.5L368.4,559.3L368.1,559.2L367.7,559.3L366.3,560.3L366.1,560.9L366.3,562.3ZM316.8,528.6L317.6,529.4L318.0,529.5L318.1,529.5L318.6,529.3L319.6,528.2L316.6,528.2ZM368.9,572.0L369.2,572.3L370.2,572.7L370.8,572.6L372.1,571.9L372.4,571.3L372.3,570.0L372.1,569.6L371.7,569.4L370.0,569.3L369.7,569.4L369.4,569.8L368.9,571.5ZM311.4,532.0L310.9,532.1L310.6,532.3L310.5,532.7L310.4,534.4L310.6,534.9L310.9,535.2L311.2,535.3L311.6,535.3L312.1,535.0L312.4,534.5L312.4,532.6L312.3,532.2L312.0,532.0L311.8,531.9ZM360.1,574.7L360.2,575.1L360.5,575.4L361.4,575.7L362.2,575.7L362.3,575.6L362.6,575.2L362.8,574.8L362.6,574.4L362.3,574.2L361.1,574.0L360.6,574.1L360.3,574.4ZM363.7,543.4L364.3,543.4L366.0,542.2L366.3,541.8L366.0,541.3L364.2,539.8L363.7,539.7L363.3,539.8L363.0,540.1L362.7,540.6L362.7,541.1L363.4,543.1ZM328.7,544.5L328.4,544.2L328.0,544.2L326.5,544.8L326.1,545.2L325.6,547.0L325.6,547.4L325.9,547.7L326.0,547.7L326.4,547.8L328.0,547.5L328.4,547.3L328.5,547.0L328.8,544.9ZM360.3,544.9L360.3,544.4L359.4,542.8L359.1,542.5L358.7,542.5L356.7,543.3L356.4,543.6L356.3,544.1L356.4,544.3L356.6,544.6L358.2,545.6L358.7,545.7L359.9,545.3ZM313.6,532.4L313.3,532.9L313.3,534.6L313.6,535.1L315.4,536.1L315.9,536.1L316.0,536.1L316.3,535.8L316.7,534.8L316.7,534.2L315.8,532.9L315.4,532.6L314.1,532.3ZM334.6,529.8L334.4,530.3L334.5,531.5L334.7,531.9L335.1,532.1L337.3,532.1L337.7,532.0L337.9,531.6L338.1,530.0L337.9,529.6L337.4,529.4L335.0,529.6ZM309.0,572.6L310.8,573.1L311.2,573.1L311.5,572.8L311.6,572.5L311.6,572.1L311.2,571.2L310.7,570.9L309.6,570.8L309.1,571.1L308.9,571.4L308.9,572.6ZM361.8,558.6L362.1,558.2L362.3,557.6L362.3,557.2L361.3,554.8L361.0,554.5L360.7,554.4L360.2,554.4L360.1,554.5L359.8,554.9L359.0,557.3L359.1,557.8L359.4,558.0L361.3,558.6ZM347.7,534.0L348.0,534.3L348.5,534.6L349.1,534.7L349.9,534.3L350.3,533.8L350.3,533.1L350.0,532.6L349.5,532.5L348.3,532.8L347.8,533.2L347.7,533.6ZM365.8,547.8L366.0,548.3L366.6,548.8L366.9,548.9L368.2,549.0L368.5,549.0L368.8,548.7L369.6,547.0L369.7,546.6L369.5,546.3L369.3,546.1L369.0,545.9L368.6,546.0L366.1,547.3ZM345.7,548.0L345.8,548.2L346.3,548.6L348.3,548.6L348.7,548.5L348.9,548.1L349.2,545.7L349.1,545.3L348.8,545.0L348.4,545.0L346.6,545.7L346.2,546.0L345.7,547.6ZM366.4,555.6L367.4,556.0L367.8,556.1L368.1,555.9L368.3,555.7L368.4,555.3L368.5,553.7L368.4,553.4L368.3,553.2L368.0,553.0L366.9,552.7L366.5,552.8L365.9,553.0L365.5,553.3L365.5,553.8L366.1,555.3ZM331.9,528.8L331.6,529.0L330.4,530.1L330.2,530.6L330.3,531.7L330.4,532.1L330.8,532.3L333.2,532.7L333.8,532.5L333.9,532.3L334.0,532.0L333.8,530.2L333.5,529.8L332.3,529.0ZM310.0,538.0L310.3,537.6L310.5,536.7L310.3,536.1L309.8,535.7L309.3,535.6L308.9,535.6L308.9,537.8L309.5,538.0ZM357.5,534.2L357.6,534.5L357.9,535.0L358.3,535.3L359.5,535.5L360.0,535.3L360.1,535.3L360.2,534.9L360.1,534.5L359.3,533.2L358.7,532.9L358.6,532.9L358.2,533.1L357.6,533.8ZM316.4,570.7L318.3,571.0L318.9,570.8L319.4,570.2L319.5,569.6L319.0,568.3L318.6,567.9L317.3,567.6L317.0,567.7L316.7,567.9L315.8,569.2L315.8,569.7L315.9,570.2ZM351.7,531.1L352.1,531.3L353.4,531.5L353.8,531.4L354.1,531.1L354.3,530.5L354.3,529.9L354.2,529.9L353.9,529.6L353.1,529.3L352.5,529.4L351.9,530.0L351.6,530.3L351.6,530.6ZM312.9,561.6L312.9,562.4L313.0,562.8L314.6,564.6L315.0,564.8L315.4,564.8L315.9,564.6L316.4,564.1L316.6,563.7L316.6,562.5L316.2,561.9L313.9,561.0L313.4,561.1L313.2,561.2ZM359.5,566.6L359.8,566.8L361.8,567.3L362.2,567.2L363.2,566.7L363.5,566.2L363.5,565.2L363.3,564.7L361.4,563.5L360.8,563.4L359.9,563.9L359.5,564.4L359.4,566.2ZM349.7,544.2L350.1,544.3L350.7,544.3L351.1,544.2L352.6,542.9L352.8,542.6L352.7,542.2L351.8,540.7L351.5,540.5L351.1,540.5L350.8,540.8L349.5,543.2L349.5,543.7L349.5,543.9ZM367.4,563.7L367.5,564.2L368.5,565.6L368.9,565.8L369.3,565.7L370.2,565.3L370.4,565.0L370.5,564.6L370.3,562.9L369.9,562.5L369.4,562.5L367.7,563.3ZM357.6,549.9L356.6,550.4L356.3,550.7L356.0,551.4L356.0,551.9L356.5,552.9L356.8,553.2L359.3,554.0L359.7,553.9L359.8,553.9L360.2,553.3L360.0,551.0L359.9,550.6L359.6,550.4L358.0,549.9ZM362.5,568.4L362.4,569.9L362.5,570.3L362.8,570.5L364.1,571.1L364.7,571.0L365.0,570.6L365.1,568.6L364.8,568.1L364.1,567.6L363.5,567.5L362.8,567.9ZM357.6,546.1L356.8,545.5L356.3,545.4L356.0,545.6L354.7,547.3L354.5,547.7L354.7,548.1L356.0,549.5L356.3,549.7L356.6,549.6L357.1,549.4L357.4,549.0L357.9,546.7ZM328.3,548.7L327.9,548.6L327.5,548.7L327.2,548.9L327.1,549.4L327.2,550.1L327.5,550.5L328.0,550.7L328.4,550.7L328.8,550.4L328.8,550.0L328.5,549.0ZM311.4,554.2L311.0,554.4L309.5,555.8L309.3,556.2L309.4,556.6L310.0,557.4L310.3,557.7L310.8,557.6L312.7,556.6L313.0,556.2L312.9,555.7L311.8,554.4ZM372.0,538.6L371.8,538.9L371.9,539.3L372.2,539.9L372.4,539.9L372.4,538.2ZM315.7,541.1L314.4,541.9L314.1,542.3L314.1,542.5L314.2,543.0L314.7,543.8L315.0,544.0L315.4,544.0L317.3,543.5L317.6,543.3L317.7,542.9L317.8,541.9L317.7,541.5L317.3,541.2L316.1,541.0ZM362.7,549.6L362.2,549.6L360.8,550.3L360.5,550.9L360.6,553.3L361.0,553.9L361.3,554.0L361.8,554.0L363.7,553.0L364.0,552.7L364.0,552.2L363.0,549.9ZM362.7,529.6L362.9,529.4L363.1,529.0L363.1,528.2L359.8,528.2L360.8,529.4L361.2,529.7L362.3,529.7ZM321.9,569.7L322.2,569.4L322.6,568.1L322.6,567.7L322.4,567.4L321.3,566.6L320.9,566.5L320.5,566.7L319.7,567.6L319.6,568.2L320.0,569.3L320.5,569.7L321.5,569.8ZM327.2,568.8L327.1,569.1L327.0,570.0L327.2,570.4L327.4,570.6L327.8,570.7L330.4,570.5L330.7,570.4L330.9,570.1L331.0,569.8L330.9,569.3L330.4,568.5L330.1,568.2L329.8,568.2L327.6,568.6ZM315.2,546.2L316.9,547.3L317.4,547.4L319.4,546.7L319.7,546.4L319.8,546.3L319.9,545.9L319.7,545.6L318.2,544.2L317.7,544.0L315.4,544.7L315.0,545.2L314.9,545.6L315.0,545.9L315.0,545.9ZM325.7,538.2L325.6,539.8L325.7,540.2L326.0,540.4L327.4,540.8L327.7,540.8L328.0,540.6L328.4,540.0L328.6,539.7L328.4,539.3L327.2,537.6L326.8,537.4L326.4,537.5L326.0,537.7ZM327.1,553.6L327.5,553.2L327.6,552.8L327.5,552.4L327.3,552.1L327.1,552.1L326.5,552.2L326.2,552.4L326.0,553.0L326.3,553.4L326.6,553.6ZM358.4,566.9L358.5,566.5L358.7,564.3L358.4,563.8L358.2,563.6L357.6,563.6L355.8,564.6L355.5,565.0L355.6,565.4L356.6,566.9L357.2,567.2L358.0,567.1ZM341.3,564.4L341.3,564.9L341.7,566.4L342.1,566.8L343.4,567.1L343.9,567.0L343.9,567.0L344.1,566.6L344.4,565.0L344.4,564.5L344.0,564.0L343.7,563.8L343.4,563.8L341.7,564.2ZM333.1,574.2L333.2,573.9L333.0,572.9L332.8,572.5L332.0,571.9L331.4,571.8L331.0,572.2L330.5,573.9L330.5,574.2L330.7,574.5L331.3,575.0L331.6,575.1L331.9,575.1L332.9,574.5ZM353.8,564.6L353.8,564.1L353.5,563.5L353.2,563.3L352.8,563.2L351.6,563.6L351.1,564.1L351.0,565.3L351.1,565.7L351.5,565.9L351.8,566.0L352.3,565.9L353.6,564.9ZM322.9,571.4L322.3,570.7L321.9,570.5L320.3,570.3L319.8,570.5L319.2,571.1L319.1,571.6L319.2,572.8L319.4,573.2L319.8,573.4L322.3,573.4L322.7,573.2L322.9,572.9L323.0,571.9ZM366.8,533.1L366.4,533.0L363.9,533.5L363.5,533.8L363.3,534.3L363.2,534.6L363.3,534.9L364.6,536.5L365.2,536.7L366.0,536.5L366.4,536.2L367.4,534.4L367.3,533.8L367.1,533.3ZM363.8,538.6L364.2,537.3L364.1,536.8L362.9,535.4L362.3,535.2L361.6,535.3L361.3,535.5L360.7,536.2L360.5,536.7L360.6,537.3L360.8,537.6L362.7,539.0L363.2,539.1L363.5,539.0ZM309.1,555.4L310.9,553.6L311.1,553.2L311.1,553.2L311.1,552.8L310.8,552.6L308.9,551.7L308.9,555.4ZM350.3,549.5L350.7,549.3L352.4,548.0L352.6,547.6L352.5,547.2L351.1,545.4L350.7,545.2L350.4,545.1L350.0,545.3L349.8,545.7L349.4,548.5L349.6,549.0L349.9,549.3ZM345.2,536.1L345.0,537.3L345.2,537.7L345.5,537.9L347.5,538.3L348.0,538.1L348.2,537.6L348.1,536.5L347.8,536.0L346.8,535.3L346.2,535.3L345.5,535.6ZM320.2,537.6L320.3,537.1L320.1,535.6L319.8,535.1L318.4,534.5L318.0,534.5L317.7,534.6L317.3,534.9L316.9,535.8L316.8,536.2L317.0,536.5L318.5,537.8L319.0,538.0L319.8,537.8ZM367.0,529.2L367.2,528.8L367.2,528.2L363.8,528.2L363.8,528.6L363.9,529.0L364.3,529.2L366.6,529.4ZM313.4,543.4L313.1,543.4L311.3,543.8L311.0,544.0L310.9,544.3L310.8,545.1L311.0,545.6L311.5,546.0L312.0,546.1L313.9,545.6L314.4,545.1L314.4,545.0L314.3,544.5L313.7,543.6ZM327.4,564.0L327.1,563.5L325.9,562.6L325.4,562.4L325.0,562.7L324.6,563.4L324.6,564.1L324.7,564.3L325.2,564.5L326.7,564.6L327.2,564.4L327.2,564.4ZM335.7,566.1L336.0,566.4L336.3,566.4L337.5,566.1L338.0,565.8L338.7,564.0L338.7,563.5L338.3,563.2L337.5,562.8L337.1,562.8L336.5,563.0L336.1,563.4L335.6,565.7ZM336.5,543.7L336.2,543.8L335.9,544.3L335.8,546.3L336.0,546.8L336.4,547.1L337.0,547.2L337.8,546.8L338.1,546.6L338.5,545.8L338.6,545.3L338.2,544.4L337.8,544.0L337.0,543.7ZM330.4,559.2L330.7,559.3L331.3,559.4L331.7,559.3L331.9,558.9L332.4,556.8L332.4,556.4L332.1,556.1L332.0,556.1L331.6,556.1L331.2,556.2L330.8,556.5L330.2,558.2L330.1,558.5L330.2,558.9ZM369.5,549.5L370.0,549.8L371.0,549.9L371.6,549.6L372.3,548.5L372.3,547.9L372.2,547.8L371.8,547.4L370.9,547.2L370.5,547.3L370.3,547.5L369.5,549.0ZM334.1,561.0L334.2,561.4L334.5,561.7L335.8,562.3L336.2,562.3L336.3,562.3L336.7,562.0L336.8,561.7L336.8,560.6L336.5,560.1L336.1,559.9L335.5,559.9L334.4,560.6ZM321.1,564.1L320.9,564.6L320.9,565.4L321.2,565.8L322.9,567.1L323.5,567.2L323.9,566.8L324.4,565.2L324.3,564.7L324.0,564.2L323.5,564.0L321.5,564.0ZM353.2,538.8L352.8,539.2L352.6,539.6L352.7,540.0L353.8,541.8L354.1,542.0L354.6,542.0L354.9,541.6L355.4,539.7L355.3,539.2L355.0,538.9L353.8,538.6ZM353.6,547.0L354.1,546.8L355.6,544.8L355.7,544.3L355.5,543.8L355.4,543.5L355.2,543.4L354.9,543.2L353.9,543.1L353.5,543.3L352.0,544.5L351.8,544.9L352.0,545.3L353.1,546.8ZM366.9,542.6L366.5,542.7L364.7,543.8L364.5,544.2L364.5,544.6L365.4,546.3L365.7,546.7L366.2,546.6L368.4,545.4L368.7,544.8L368.6,544.0L368.4,543.6L367.2,542.7ZM330.9,528.4L330.8,528.2L327.8,528.2L327.7,528.7L328.1,529.1L329.4,529.6L330.0,529.5L330.7,528.8ZM361.2,572.0L361.2,572.6L361.3,572.9L361.6,573.1L362.5,573.4L362.9,573.3L363.2,573.1L363.5,572.5L363.6,572.0L363.2,571.6L362.3,571.3L361.8,571.3L361.5,571.5ZM368.9,566.7L368.7,567.1L368.8,567.7L369.4,568.6L369.9,568.9L371.9,568.9L372.2,568.8L372.4,568.6L372.4,568.0L371.6,566.0L371.3,565.6L371.1,565.6L370.6,565.6L369.2,566.4ZM320.5,534.7L321.2,534.3L321.5,534.1L321.6,533.7L321.5,532.7L321.3,532.3L320.9,532.1L320.3,532.1L319.8,532.4L319.1,533.5L319.0,534.0L319.3,534.4L320.0,534.7ZM364.8,552.3L365.3,552.3L365.9,552.1L366.2,551.8L366.3,551.5L366.2,549.6L366.0,549.2L365.6,548.8L365.2,548.7L364.9,548.7L364.0,549.2L363.7,549.5L363.7,550.0L364.5,552.0ZM314.9,538.2L314.3,538.2L312.9,539.0L312.6,539.4L312.7,539.9L313.5,541.1L313.9,541.3L314.3,541.2L315.2,540.7L315.4,540.4L315.5,540.1L315.2,538.6ZM345.0,547.3L345.3,547.0L345.7,546.0L345.5,545.4L344.7,544.4L344.3,544.3L344.0,544.3L342.9,544.8L342.6,545.1L342.3,545.7L342.3,546.1L342.5,546.6L342.9,547.0L344.6,547.4ZM309.2,548.7L310.8,548.4L311.2,548.3L311.3,547.9L311.4,547.1L311.2,546.6L310.7,546.2L310.4,546.0L310.0,546.1L308.9,546.8L308.9,548.6ZM334.9,575.3L333.8,574.8L333.3,574.8L332.1,575.5L332.0,575.7L335.2,575.7ZM345.2,564.9L345.1,565.3L344.8,566.4L344.9,566.8L345.2,567.0L348.0,568.0L348.5,568.0L348.8,567.7L349.2,567.0L349.2,566.6L349.0,566.2L347.2,564.7L346.7,564.6L345.5,564.8ZM318.6,551.3L318.6,551.8L318.8,552.3L319.2,552.6L319.7,552.5L320.9,551.7L321.2,551.3L321.0,550.8L320.7,550.5L320.4,550.3L320.0,550.4L318.8,551.0ZM333.1,547.8L333.0,548.2L333.0,548.2L333.3,548.6L335.0,549.6L335.4,549.7L335.7,549.5L335.9,549.2L336.0,548.4L335.8,547.8L335.4,547.5L334.9,547.4L333.5,547.5ZM355.6,529.1L355.7,529.5L356.1,529.7L356.3,529.7L356.9,529.5L357.9,528.4L358.0,528.2L356.2,528.2L355.7,528.7ZM338.7,532.2L339.1,532.4L341.0,532.5L341.4,532.4L341.6,532.1L342.1,530.7L342.1,530.4L341.8,530.1L340.3,529.0L339.8,528.9L339.2,529.1L338.9,529.3L338.8,529.6L338.5,531.7ZM332.2,550.7L332.4,551.0L332.8,551.2L333.4,551.2L333.9,551.1L334.0,550.6L333.7,550.1L333.3,549.9L332.8,549.8L332.4,550.1L332.3,550.3ZM342.0,573.4L342.4,573.2L343.2,572.3L343.4,571.8L343.2,571.4L342.8,571.3L340.9,571.5L340.6,571.6L340.4,571.9L340.4,572.0L340.6,572.6L341.6,573.3ZM323.2,542.8L322.8,543.1L321.7,544.9L321.6,545.4L321.9,545.8L324.2,546.9L324.7,546.9L325.0,546.5L325.4,545.1L325.3,544.5L323.7,543.0ZM348.8,557.9L348.2,558.1L347.8,558.6L347.6,559.7L347.7,560.2L348.5,561.2L348.8,561.4L349.2,561.4L349.8,561.2L351.1,559.5L351.2,559.0L351.2,559.0L350.9,558.6L349.2,557.9ZM322.3,532.3L322.1,532.8L322.3,533.8L322.5,534.3L322.7,534.4L323.1,534.5L323.4,534.4L324.7,533.3L324.9,532.9L324.8,532.5L324.4,532.3L322.8,532.1ZM327.3,567.7L327.9,567.8L329.7,567.5L330.0,567.3L330.1,567.0L330.3,565.7L330.0,565.2L328.9,564.4L328.5,564.3L328.1,564.5L327.6,565.0L327.4,565.4L327.2,567.1ZM328.0,575.2L327.9,575.5L327.9,575.7L331.1,575.7L331.0,575.6L330.2,574.9L329.7,574.8L328.4,575.0ZM315.5,551.7L315.5,552.2L316.1,553.7L316.3,554.0L316.7,554.0L317.5,553.9L317.9,553.6L317.9,553.0L317.2,551.6L317.0,551.4L316.7,551.2L316.3,551.2L315.8,551.4ZM340.8,541.5L341.3,541.5L343.4,540.9L343.7,540.7L343.8,540.3L343.8,539.4L343.6,539.0L343.2,538.8L341.5,538.8L340.9,539.1L340.4,540.2L340.4,540.6L340.5,541.1ZM360.1,542.0L360.1,542.5L360.8,544.0L361.2,544.3L361.6,544.3L362.3,543.9L362.6,543.6L362.6,543.2L362.2,541.8L361.9,541.5L361.4,541.5L360.5,541.7ZM335.8,574.6L336.3,574.1L336.4,573.8L336.4,573.4L335.9,572.3L335.5,572.0L335.1,572.0L334.0,572.5L333.7,572.8L333.6,573.2L333.8,573.8L334.1,574.3L335.1,574.7ZM339.6,557.8L339.6,557.9L339.9,558.2L341.2,558.9L341.6,559.0L341.6,559.0L342.0,558.7L343.1,556.9L343.2,556.5L342.9,556.1L340.9,554.5L340.5,554.4L340.2,554.5L340.0,554.9L339.5,557.5ZM350.9,572.9L350.5,573.0L349.9,573.4L349.6,573.8L349.6,574.6L349.7,575.0L350.1,575.2L351.6,575.4L352.1,575.2L352.3,574.8L352.3,574.4L352.1,574.0L351.2,573.0ZM330.2,552.2L329.7,552.2L329.6,552.3L329.3,552.6L329.1,553.5L329.2,553.9L329.4,554.2L329.9,554.5L330.3,554.5L330.7,554.3L330.8,553.8L330.6,552.7ZM361.6,562.6L361.9,562.9L363.6,564.0L364.3,564.0L365.3,563.3L365.5,562.7L365.3,560.9L364.9,560.5L362.9,559.8L362.4,559.8L362.1,560.2L361.6,562.3ZM336.1,552.0L337.3,553.5L337.7,553.7L339.4,553.8L339.7,553.7L339.9,553.5L340.1,553.2L340.4,552.2L340.3,551.7L339.9,551.5L336.8,550.8L336.4,550.8L336.1,551.2L336.0,551.4ZM345.4,564.3L346.6,564.1L347.1,563.8L347.9,562.1L347.9,561.5L347.3,560.7L346.9,560.5L346.6,560.6L344.7,561.3L344.3,561.8L344.2,563.0L344.3,563.3L344.8,564.1ZM315.4,569.0L315.7,568.7L316.4,567.6L316.4,567.0L315.8,565.7L315.3,565.3L315.0,565.3L314.6,565.5L312.8,567.3L312.6,567.8L312.6,567.9L313.0,568.3L315.0,569.0ZM364.4,565.1L364.3,566.4L364.5,566.8L365.4,567.5L365.9,567.6L367.7,567.2L368.2,566.8L368.2,566.7L368.1,566.1L366.6,564.0L366.2,563.8L365.7,563.9L364.6,564.7ZM316.1,536.7L315.7,537.0L315.6,537.3L315.5,537.7L315.9,539.9L316.1,540.2L316.4,540.4L317.2,540.5L317.6,540.4L317.8,540.1L318.2,538.7L318.0,538.1L316.7,536.8ZM314.4,529.5L313.8,530.8L313.8,531.4L314.2,531.7L315.3,531.9L316.0,531.7L317.0,530.3L317.1,529.9L316.9,529.5L316.4,529.0L315.9,528.9L314.8,529.2ZM321.1,537.4L321.4,537.5L321.8,537.5L322.7,536.9L322.9,536.7L323.0,536.3L322.8,535.6L322.5,535.2L322.2,535.0L321.6,534.9L321.1,535.2L320.8,535.4L320.8,535.8L320.9,537.0ZM339.1,567.8L338.1,566.9L337.6,566.7L336.8,566.9L336.5,567.2L336.4,567.6L336.7,569.0L336.9,569.3L337.3,569.4L338.5,569.4L338.9,569.3L339.1,569.0L339.3,568.4ZM339.8,563.1L340.1,563.5L340.4,563.7L340.9,563.7L343.3,563.2L343.6,563.0L343.8,562.6L343.8,561.6L343.7,561.2L342.2,559.8L341.7,559.6L341.3,559.9L339.9,562.7ZM327.9,555.4L327.5,555.8L327.5,556.1L327.5,556.5L327.8,556.7L328.3,557.0L328.8,557.0L329.1,556.7L329.2,556.5L329.2,556.1L329.0,555.7L328.4,555.4ZM345.1,539.4L344.8,539.9L344.8,540.6L344.9,541.0L344.9,541.0L345.5,541.2L346.2,541.2L346.5,541.1L346.7,540.8L346.9,540.1L346.8,539.7L346.4,539.4L345.5,539.3ZM311.1,552.2L311.8,552.1L312.9,551.1L313.1,550.7L312.9,550.2L311.6,549.0L311.1,548.9L308.9,549.2L308.9,551.1ZM337.0,540.3L336.8,540.8L336.9,542.6L337.0,543.0L337.3,543.2L338.0,543.4L338.6,543.3L339.9,542.2L340.1,541.6L339.8,540.9L339.4,540.5L337.5,540.2ZM360.6,545.7L360.1,545.7L358.9,546.1L358.5,546.6L358.1,548.9L358.1,549.3L358.5,549.6L360.0,550.1L360.5,550.0L361.7,549.4L362.0,549.0L362.0,548.6L360.9,546.0ZM321.0,557.4L320.9,557.9L321.3,558.8L321.7,559.2L322.1,559.2L322.5,558.8L322.8,557.8L322.7,557.2L322.6,557.1L322.0,556.9L321.4,557.0ZM354.7,564.3L355.2,564.3L357.1,563.2L357.4,562.8L357.3,562.4L356.5,560.7L356.2,560.5L355.8,560.5L354.5,560.9L354.1,561.2L353.7,562.4L353.7,562.8L354.3,564.0ZM323.2,541.4L323.5,541.2L324.6,540.5L324.8,540.0L324.9,538.4L324.8,538.0L324.5,537.8L323.8,537.5L323.3,537.5L322.2,538.2L322.0,538.5L321.9,538.8L322.4,540.7L322.5,541.0L322.8,541.2ZM349.4,557.2L349.7,557.5L351.0,558.0L351.4,558.0L351.7,557.8L352.7,556.6L352.9,556.2L352.8,555.9L352.2,554.7L351.9,554.4L351.5,554.4L350.2,554.7L349.8,555.1L349.4,556.8ZM311.4,569.5L311.9,568.5L311.9,568.1L311.9,568.0L311.6,567.6L309.9,566.6L309.6,566.6L309.3,566.7L308.9,566.9L308.9,568.7L309.1,569.4L309.7,569.7L310.8,569.8ZM335.5,566.8L335.0,566.7L334.7,566.9L333.4,568.5L333.3,569.0L333.7,569.4L335.5,570.1L335.9,570.1L336.2,569.8L336.3,569.4L335.7,567.1ZM370.8,561.9L371.2,564.5L371.5,564.9L372.0,565.0L372.4,564.8L372.4,561.7L371.9,561.2L371.4,561.1L370.9,561.4L370.8,561.6ZM348.1,541.4L348.5,541.7L348.9,541.7L349.2,541.4L349.7,540.4L349.8,539.9L349.5,539.6L349.2,539.4L348.7,539.4L348.3,539.8L348.1,541.0ZM364.3,553.5L363.8,553.6L362.5,554.2L362.2,554.5L362.2,555.0L362.7,556.3L363.1,556.6L363.6,556.6L364.8,555.9L365.1,555.6L365.1,555.2L364.6,553.9ZM334.8,565.9L335.2,565.5L335.6,563.5L335.6,563.1L335.3,562.9L334.0,562.3L333.6,562.3L333.3,562.6L332.4,564.1L332.4,564.6L332.7,564.9L334.3,565.9ZM321.5,531.3L321.7,530.9L321.8,529.2L321.6,528.7L321.0,528.3L320.6,528.3L320.2,528.5L319.3,529.5L319.2,529.9L319.3,530.2L319.9,531.1L320.3,531.4L321.0,531.4ZM338.5,536.0L338.8,536.2L339.3,536.3L339.7,536.3L339.9,536.1L341.2,534.3L341.3,533.9L341.1,533.5L340.7,533.4L339.4,533.3L339.0,533.5L338.8,533.8L338.4,535.5ZM320.5,545.3L321.0,545.0L322.5,542.5L322.5,542.1L322.3,541.8L322.1,541.6L321.7,541.4L319.0,541.7L318.6,541.9L318.5,542.2L318.4,543.3L318.6,543.8L320.0,545.2ZM323.1,551.2L323.3,551.6L323.6,551.9L324.0,552.1L324.4,551.9L325.6,550.8L325.8,550.3L325.6,549.4L325.4,549.0L325.0,548.9L324.6,549.2L323.3,550.8ZM330.4,550.2L330.9,550.2L331.2,550.0L331.7,549.2L331.8,548.8L331.6,548.4L331.1,548.3L330.4,548.3L330.0,548.6L329.9,549.1L330.1,549.8ZM344.6,568.0L344.3,568.4L344.2,570.2L344.4,570.6L344.8,571.1L345.3,571.3L345.7,571.1L347.0,569.3L347.0,568.8L346.7,568.4L345.1,567.9ZM354.5,565.3L354.0,565.4L353.0,566.2L352.7,566.6L352.8,567.0L353.8,568.5L354.2,568.7L354.5,568.8L355.0,568.6L355.8,567.9L356.0,567.6L355.9,567.2L354.9,565.6ZM317.2,550.2L317.5,550.4L318.0,550.4L319.6,549.6L319.9,549.3L319.9,548.9L319.7,548.0L319.4,547.6L318.9,547.5L317.8,547.9L317.4,548.4L317.1,549.7ZM338.7,557.0L339.0,556.6L339.2,555.2L339.1,554.8L338.6,554.5L337.7,554.5L337.2,554.8L336.6,555.7L336.5,556.2L336.9,556.6L338.2,557.0ZM344.6,529.0L345.0,529.2L345.1,529.3L345.6,529.1L346.6,528.2L344.5,528.2L344.5,528.7ZM358.8,571.3L357.8,572.1L357.6,572.5L357.7,572.9L358.2,573.7L358.6,574.0L358.9,574.1L359.4,573.9L360.0,573.4L360.2,573.0L360.2,572.0L359.8,571.5L359.4,571.3ZM367.3,551.3L367.7,551.5L368.1,551.5L368.4,551.1L368.5,550.7L368.4,550.2L368.0,549.9L367.8,549.9L367.4,550.0L367.2,550.5L367.2,551.0ZM356.0,533.2L356.5,532.9L356.8,532.5L357.0,532.2L356.9,531.8L356.6,531.3L356.3,531.1L355.8,531.1L355.5,531.4L355.3,532.0L355.3,532.6L355.5,532.9ZM353.5,561.0L353.2,560.7L352.3,560.1L351.9,560.0L351.5,560.3L350.5,561.6L350.3,561.9L350.5,562.3L350.7,562.6L351.0,562.9L351.4,562.9L352.9,562.4L353.3,562.0L353.5,561.4ZM362.9,533.1L362.3,531.0L362.1,530.7L361.8,530.6L361.4,530.5L360.9,530.8L360.2,531.8L360.2,532.4L361.3,534.1L361.5,534.3L361.9,534.3L362.2,534.3L362.6,534.0L362.8,533.6ZM366.9,536.5L367.1,536.9L368.6,538.1L369.1,538.2L369.3,538.1L369.6,537.9L369.8,537.6L369.9,535.4L369.7,535.1L369.4,534.8L368.3,534.5L367.9,534.5L367.6,534.8L366.9,536.1ZM325.4,529.0L325.2,528.8L324.7,528.6L323.1,528.9L322.8,529.1L322.6,529.5L322.5,530.7L322.6,531.1L323.0,531.3L324.6,531.5L325.0,531.4L325.2,531.0L325.5,529.5ZM318.1,530.1L317.6,530.4L316.4,532.0L316.3,532.4L316.4,532.7L317.2,533.8L317.5,534.0L317.8,534.0L317.9,534.0L318.2,533.8L319.3,532.1L319.3,531.4L318.6,530.4ZM342.8,575.3L343.3,575.5L344.4,575.3L344.8,575.1L344.9,574.7L344.8,573.6L344.6,573.2L344.2,573.1L343.8,573.3L342.8,574.3L342.6,574.7L342.6,574.9ZM352.3,571.5L352.5,572.0L352.9,572.4L353.3,572.6L353.7,572.5L354.6,572.0L354.8,571.6L354.8,571.2L354.5,570.5L354.1,570.1L353.6,570.2L352.5,571.1ZM365.5,575.7L367.5,575.7L367.3,575.3L366.9,575.1L366.5,575.1L365.6,575.6ZM370.1,554.1L370.0,554.5L370.2,554.8L370.5,555.0L371.3,555.0L371.7,554.9L371.9,554.6L372.0,554.3L371.9,553.8L371.6,553.6L371.2,553.6L370.4,553.8ZM332.2,552.5L332.1,553.1L332.2,553.5L332.4,553.9L332.9,554.0L333.3,553.7L333.5,553.3L333.6,552.9L333.4,552.6L333.1,552.4L332.7,552.4ZM324.9,558.4L324.4,558.3L324.0,558.7L323.8,559.3L323.8,559.7L324.1,560.0L324.4,560.2L324.9,560.2L325.2,560.0L325.3,559.6L325.2,558.8ZM326.6,533.5L326.5,534.0L326.9,535.7L327.2,536.1L327.8,536.1L328.7,535.6L329.0,535.1L329.0,533.9L328.9,533.5L328.5,533.3L327.1,533.3ZM309.9,545.6L310.2,545.1L310.2,544.0L310.0,543.5L309.3,543.0L308.9,542.9L308.9,546.2ZM350.2,554.1L351.4,553.8L351.8,553.4L352.0,552.9L351.9,552.3L350.8,551.1L350.3,550.9L349.8,551.1L348.8,552.4L348.7,552.8L348.9,553.2L349.6,553.9ZM316.7,559.0L316.2,559.0L314.7,559.6L314.4,559.8L314.4,559.9L314.4,560.4L314.7,560.7L316.3,561.4L316.7,561.4L317.0,561.2L317.1,561.1L317.2,560.6L317.0,559.4ZM326.7,561.0L326.5,561.4L326.8,561.9L327.5,562.4L328.0,562.5L328.4,562.1L328.6,561.5L328.5,560.9L328.0,560.7L327.1,560.8ZM328.0,574.1L328.4,574.3L329.4,574.1L329.9,573.7L330.4,572.1L330.4,571.7L330.2,571.4L329.8,571.3L328.3,571.4L327.9,571.6L327.7,572.0L327.7,573.7ZM315.7,571.3L315.7,571.4L315.6,571.9L316.0,573.4L316.2,573.7L316.6,573.8L318.2,573.9L318.6,573.7L318.8,573.2L318.6,571.9L318.4,571.5L318.1,571.4L316.3,571.0ZM358.6,531.7L358.8,531.7L359.3,531.4L359.9,530.4L360.0,530.0L359.9,529.7L359.5,529.2L359.1,529.0L358.6,529.2L357.8,530.1L357.6,530.5L357.7,530.8L358.0,531.4ZM362.1,540.3L362.2,540.2L362.3,539.7L362.0,539.4L360.9,538.6L360.4,538.4L360.0,538.7L359.3,539.7L359.3,540.3L359.4,540.7L359.7,541.0L360.1,541.0L361.8,540.6ZM341.8,542.5L341.9,543.0L342.3,543.7L342.7,544.0L343.1,543.9L343.7,543.6L344.1,543.2L344.2,542.4L344.2,542.0L343.9,541.7L343.5,541.7L342.2,542.1ZM339.5,564.0L339.1,564.3L338.5,565.8L338.7,566.4L339.5,567.3L339.8,567.5L340.2,567.4L340.7,567.1L340.9,566.8L340.9,566.5L340.4,564.5L340.1,564.1L340.0,564.0ZM316.2,555.5L316.2,556.0L316.9,557.5L317.3,557.8L317.7,557.8L319.1,557.1L319.5,556.7L319.4,556.2L318.7,555.1L318.4,554.9L318.0,554.9L316.6,555.1ZM326.5,565.5L326.1,565.3L325.3,565.3L325.0,565.4L324.7,565.7L324.5,566.5L324.5,567.0L324.9,567.3L325.7,567.6L326.2,567.5L326.5,567.1L326.7,566.0ZM336.4,557.3L336.1,557.5L336.0,557.9L336.1,558.6L336.4,559.1L336.9,559.4L337.6,559.3L338.3,558.8L338.5,558.4L338.5,558.0L338.1,557.7L336.8,557.3ZM315.2,575.5L315.0,575.2L314.7,575.0L312.6,574.9L312.2,575.0L312.0,575.4L311.9,575.7L315.2,575.7ZM335.4,528.2L335.4,528.6L335.6,529.0L336.0,529.1L337.4,528.9L337.8,528.8L338.0,528.4L337.9,528.2L335.4,528.2ZM359.3,567.9L359.1,568.4L359.4,569.9L359.7,570.3L360.4,570.7L361.0,570.7L361.3,570.5L361.6,570.0L361.6,568.6L361.5,568.2L361.1,568.0L359.8,567.7ZM320.2,561.9L319.8,561.7L318.2,561.5L317.7,561.7L317.5,561.9L317.4,562.3L317.4,563.0L317.5,563.4L317.9,563.6L319.8,563.7L320.3,563.5L320.4,563.0L320.4,562.2ZM336.5,539.7L336.8,539.3L337.3,537.2L337.2,536.7L336.9,536.5L335.4,536.1L334.9,536.2L334.7,536.7L334.5,538.9L334.7,539.3L335.0,539.5L336.1,539.8Z"/>
<g fill="#f4f0f4" opacity="0.95"><path d="M334,530 C337,531 338,534 337,538 C336,541 335.5,545 335,549 C334,545 333.2,540 333,536 C332.8,533 333,531 334,530 Z"/><path d="M352,552 C356,550 362,551 366,554 C361,556 356,555 352,552 Z"/></g>
<rect x="376.9" y="528.2" width="63.5" height="47.5" filter="url(#fKidney2)"/>
<line x1="431.30" y1="578.90" x2="438.80" y2="578.90" stroke="#222" stroke-width="1.2" />
<text x="422.50" y="587.90" font-size="7.95" text-anchor="start" font-weight="normal" fill="#141213" color="#141213" textLength="26.30" lengthAdjust="spacingAndGlyphs" >100 μM</text>
<rect x="0.5" y="0.5" width="519" height="596" fill="none" stroke="#555" stroke-width="1"/>
</g>
</svg></body></html>
